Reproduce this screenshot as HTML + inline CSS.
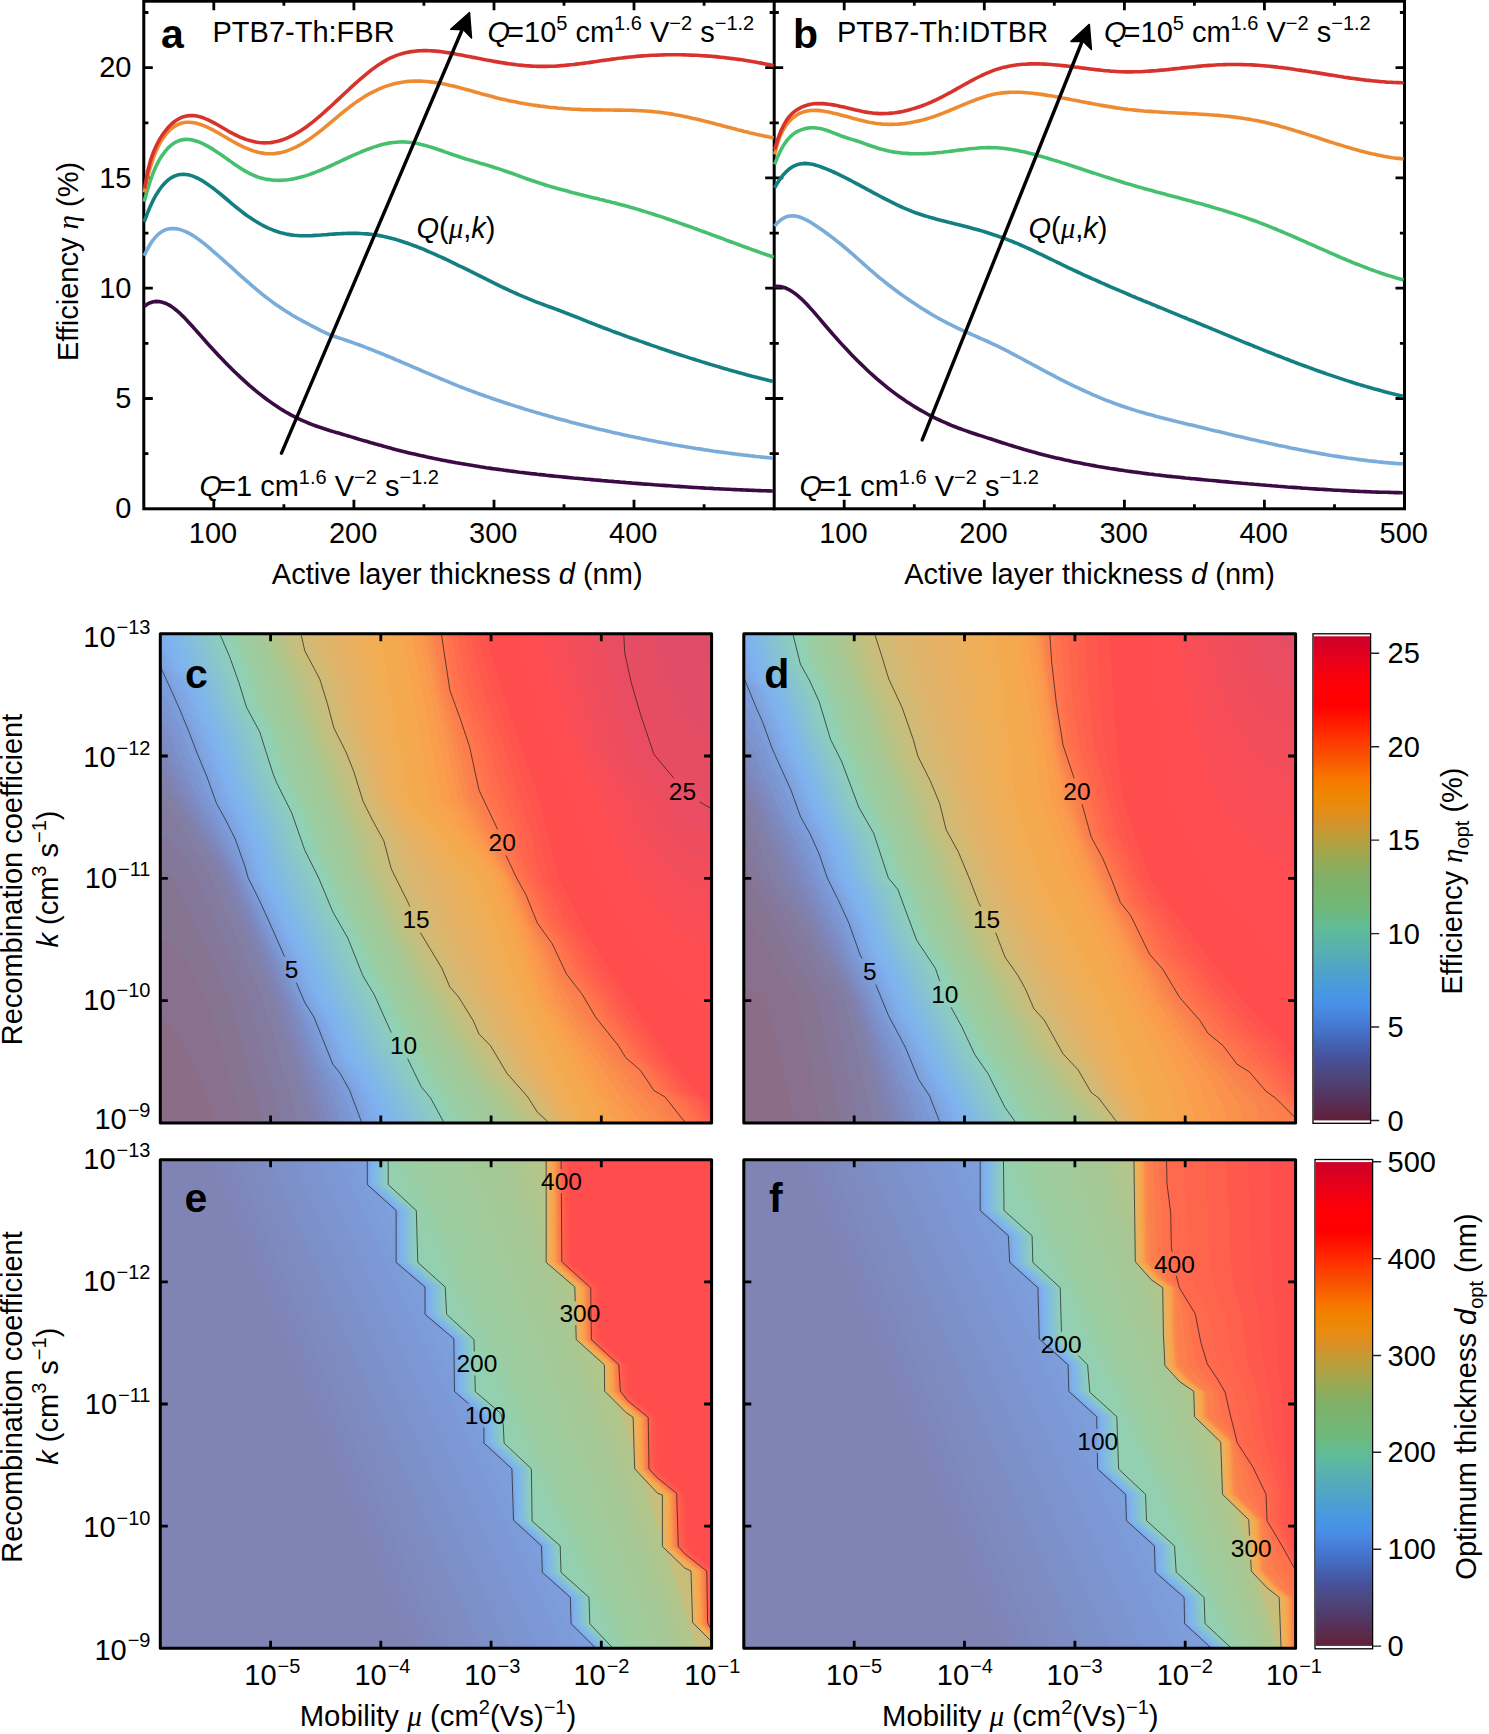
<!DOCTYPE html><html><head><meta charset="utf-8"><style>html,body{margin:0;padding:0;background:#fff;overflow:hidden}svg{display:block}text{font-family:"Liberation Sans",sans-serif;fill:#000}.it{font-style:italic}.ser{font-family:"Liberation Serif",serif;font-style:italic}</style></head><body>
<svg xmlns="http://www.w3.org/2000/svg" width="1489" height="1734" viewBox="0 0 1489 1734">
<rect width="1489" height="1734" fill="#fff"/>
<g stroke="#000" stroke-width="3" fill="none" stroke-linecap="square">
<rect x="143.8" y="1.2" width="1260.7" height="507.6"/>
<line x1="774.2" y1="1.2" x2="774.2" y2="508.8"/>
</g>
<path d="M213.8,508.8v-9M213.8,1.2v9M283.9,508.8v-4.6M283.9,1.2v4.6M353.9,508.8v-9M353.9,1.2v9M423.9,508.8v-4.6M423.9,1.2v4.6M494,508.8v-9M494,1.2v9M564,508.8v-4.6M564,1.2v4.6M634,508.8v-9M634,1.2v9M704.1,508.8v-4.6M704.1,1.2v4.6M143.8,453.7h4.6M774.2,453.7h-4.6M143.8,398.5h9M774.2,398.5h-9M143.8,343.4h4.6M774.2,343.4h-4.6M143.8,288.2h9M774.2,288.2h-9M143.8,233.1h4.6M774.2,233.1h-4.6M143.8,177.9h9M774.2,177.9h-9M143.8,122.8h4.6M774.2,122.8h-4.6M143.8,67.6h9M774.2,67.6h-9M143.8,12.5h4.6M774.2,12.5h-4.6M844.2,508.8v-9M844.2,1.2v9M914.3,508.8v-4.6M914.3,1.2v4.6M984.3,508.8v-9M984.3,1.2v9M1054.3,508.8v-4.6M1054.3,1.2v4.6M1124.4,508.8v-9M1124.4,1.2v9M1194.4,508.8v-4.6M1194.4,1.2v4.6M1264.4,508.8v-9M1264.4,1.2v9M1334.5,508.8v-4.6M1334.5,1.2v4.6M774.2,453.7h4.6M1404.5,453.7h-4.6M774.2,398.5h9M1404.5,398.5h-9M774.2,343.4h4.6M1404.5,343.4h-4.6M774.2,288.2h9M1404.5,288.2h-9M774.2,233.1h4.6M1404.5,233.1h-4.6M774.2,177.9h9M1404.5,177.9h-9M774.2,122.8h4.6M1404.5,122.8h-4.6M774.2,67.6h9M1404.5,67.6h-9M774.2,12.5h4.6M1404.5,12.5h-4.6" stroke="#000" stroke-width="2.8" fill="none"/>
<g fill="none" stroke-width="3.6" stroke-linejoin="round">
<path d="M144.3,306.3 147.3,304.2 150.3,302.7 153.3,301.8 156.3,301.4 159.3,301.6 162.3,302.2 165.3,303.2 168.3,304.6 171.3,306.4 174.3,308.6 177.3,311 180.3,313.7 183.3,316.6 186.3,319.7 189.3,322.9 192.3,326.2 195.3,329.6 198.3,333 201.3,336.4 204.3,339.8 207.3,343.2 210.3,346.5 213.3,349.7 216.3,353 219.3,356.2 222.3,359.3 225.3,362.4 228.3,365.4 231.3,368.4 234.3,371.4 237.3,374.3 240.3,377.1 243.3,379.9 246.3,382.6 249.3,385.3 252.3,387.8 255.3,390.4 258.3,392.8 261.3,395.2 264.3,397.5 267.3,399.8 270.3,401.9 273.3,404 276.3,406 279.3,408 282.3,409.9 285.3,411.7 288.3,413.4 291.3,415.1 294.3,416.6 297.3,418.2 300.3,419.6 303.3,420.9 306.3,422.2 309.3,423.5 312.3,424.6 315.3,425.7 318.3,426.8 321.3,427.8 324.3,428.8 327.3,429.7 330.3,430.7 333.3,431.6 336.3,432.5 339.3,433.3 342.3,434.2 345.3,435.1 348.3,436 351.3,436.9 354.3,437.8 357.3,438.7 360.3,439.6 363.3,440.5 366.3,441.3 369.3,442.2 372.3,443.1 375.3,443.9 378.3,444.8 381.3,445.6 384.3,446.4 387.3,447.3 390.3,448.1 393.3,448.9 396.3,449.7 399.3,450.4 402.3,451.2 405.3,451.9 408.3,452.7 411.3,453.4 414.3,454.1 417.3,454.8 420.3,455.5 423.3,456.1 426.3,456.8 429.3,457.4 432.3,458.1 435.3,458.7 438.3,459.3 441.3,459.9 444.3,460.5 447.3,461.1 450.3,461.6 453.3,462.2 456.3,462.8 459.3,463.3 462.3,463.8 465.3,464.3 468.3,464.8 471.3,465.3 474.3,465.8 477.3,466.3 480.3,466.8 483.3,467.2 486.3,467.7 489.3,468.1 492.3,468.6 495.3,469 498.3,469.4 501.3,469.8 504.3,470.2 507.3,470.6 510.3,471 513.3,471.4 516.3,471.8 519.3,472.2 522.3,472.5 525.3,472.9 528.3,473.2 531.3,473.6 534.3,473.9 537.3,474.3 540.3,474.6 543.3,474.9 546.3,475.3 549.3,475.6 552.3,475.9 555.3,476.2 558.3,476.5 561.3,476.8 564.3,477.1 567.3,477.4 570.3,477.7 573.3,478 576.3,478.2 579.3,478.5 582.3,478.8 585.3,479.1 588.3,479.3 591.3,479.6 594.3,479.9 597.3,480.1 600.3,480.4 603.3,480.7 606.3,480.9 609.3,481.2 612.3,481.4 615.3,481.7 618.3,481.9 621.3,482.2 624.3,482.4 627.3,482.7 630.3,482.9 633.3,483.2 636.3,483.4 639.3,483.6 642.3,483.9 645.3,484.1 648.3,484.3 651.3,484.5 654.3,484.8 657.3,485 660.3,485.2 663.3,485.4 666.3,485.6 669.3,485.8 672.3,486 675.3,486.2 678.3,486.4 681.3,486.6 684.3,486.8 687.3,487 690.3,487.2 693.3,487.4 696.3,487.5 699.3,487.7 702.3,487.9 705.3,488.1 708.3,488.2 711.3,488.4 714.3,488.6 717.3,488.7 720.3,488.9 723.3,489 726.3,489.2 729.3,489.3 732.3,489.5 735.3,489.6 738.3,489.8 741.3,489.9 744.3,490 747.3,490.1 750.3,490.3 753.3,490.4 756.3,490.5 759.3,490.6 762.3,490.7 765.3,490.8 768.3,490.9 771.3,491 772.8,491.1" stroke="#3b0b44"/>
<path d="M144.2,255.8 147.2,249.5 150.2,244.2 153.2,239.8 156.2,236.3 159.2,233.5 162.2,231.4 165.2,229.9 168.2,229 171.2,228.6 174.2,228.6 177.2,228.9 180.2,229.6 183.2,230.6 186.2,231.8 189.2,233.3 192.2,235.1 195.2,237 198.2,239.1 201.2,241.3 204.2,243.7 207.2,246.2 210.2,248.7 213.2,251.3 216.2,253.9 219.2,256.5 222.2,259.1 225.2,261.8 228.2,264.5 231.2,267.2 234.2,269.9 237.2,272.6 240.2,275.3 243.2,277.9 246.2,280.6 249.2,283.2 252.2,285.8 255.2,288.4 258.2,290.9 261.2,293.3 264.2,295.8 267.2,298.1 270.2,300.4 273.2,302.6 276.2,304.8 279.2,306.8 282.2,308.8 285.2,310.8 288.2,312.6 291.2,314.5 294.2,316.2 297.2,318 300.2,319.7 303.2,321.3 306.2,322.9 309.2,324.5 312.2,326.1 315.2,327.7 318.2,329.2 321.2,330.8 324.2,332.2 327.2,333.6 330.2,334.9 333.2,336 336.2,337 339.2,338 342.2,338.9 345.2,340 348.2,341 351.2,342 354.2,343.1 357.2,344.2 360.2,345.3 363.2,346.4 366.2,347.6 369.2,348.7 372.2,349.9 375.2,351.1 378.2,352.3 381.2,353.5 384.2,354.7 387.2,356 390.2,357.2 393.2,358.5 396.2,359.8 399.2,361 402.2,362.3 405.2,363.6 408.2,364.9 411.2,366.2 414.2,367.5 417.2,368.7 420.2,370 423.2,371.3 426.2,372.6 429.2,373.9 432.2,375.2 435.2,376.4 438.2,377.7 441.2,379 444.2,380.2 447.2,381.4 450.2,382.7 453.2,383.9 456.2,385.1 459.2,386.3 462.2,387.5 465.2,388.6 468.2,389.8 471.2,390.9 474.2,392 477.2,393.1 480.2,394.2 483.2,395.3 486.2,396.4 489.2,397.4 492.2,398.5 495.2,399.5 498.2,400.5 501.2,401.5 504.2,402.5 507.2,403.5 510.2,404.5 513.2,405.4 516.2,406.4 519.2,407.3 522.2,408.2 525.2,409.2 528.2,410.1 531.2,411 534.2,411.9 537.2,412.8 540.2,413.6 543.2,414.5 546.2,415.3 549.2,416.2 552.2,417 555.2,417.9 558.2,418.7 561.2,419.5 564.2,420.3 567.2,421.1 570.2,421.9 573.2,422.7 576.2,423.5 579.2,424.2 582.2,425 585.2,425.8 588.2,426.5 591.2,427.3 594.2,428 597.2,428.7 600.2,429.4 603.2,430.1 606.2,430.8 609.2,431.5 612.2,432.2 615.2,432.9 618.2,433.6 621.2,434.2 624.2,434.9 627.2,435.6 630.2,436.2 633.2,436.8 636.2,437.5 639.2,438.1 642.2,438.7 645.2,439.3 648.2,439.9 651.2,440.5 654.2,441.1 657.2,441.7 660.2,442.2 663.2,442.8 666.2,443.3 669.2,443.9 672.2,444.4 675.2,445 678.2,445.5 681.2,446 684.2,446.5 687.2,447 690.2,447.5 693.2,448 696.2,448.5 699.2,448.9 702.2,449.4 705.2,449.9 708.2,450.3 711.2,450.7 714.2,451.2 717.2,451.6 720.2,452 723.2,452.4 726.2,452.8 729.2,453.2 732.2,453.6 735.2,454 738.2,454.4 741.2,454.7 744.2,455.1 747.2,455.4 750.2,455.8 753.2,456.1 756.2,456.5 759.2,456.8 762.2,457.1 765.2,457.4 768.2,457.7 771.2,458 772.8,458.1" stroke="#79acd9"/>
<path d="M144.2,221.8 147.2,213.7 150.2,206.5 153.2,200.2 156.2,194.7 159.2,190 162.2,186 165.2,182.7 168.2,179.9 171.2,177.8 174.2,176.2 177.2,175.1 180.2,174.5 183.2,174.3 186.2,174.5 189.2,175 192.2,175.9 195.2,177.1 198.2,178.5 201.2,180.1 204.2,182 207.2,184 210.2,186.1 213.2,188.3 216.2,190.6 219.2,193 222.2,195.5 225.2,198 228.2,200.5 231.2,203.1 234.2,205.6 237.2,208 240.2,210.4 243.2,212.7 246.2,215 249.2,217.1 252.2,219.1 255.2,221 258.2,222.8 261.2,224.5 264.2,226.1 267.2,227.6 270.2,228.9 273.2,230.1 276.2,231.2 279.2,232.2 282.2,233.1 285.2,233.8 288.2,234.4 291.2,234.9 294.2,235.3 297.2,235.5 300.2,235.7 303.2,235.8 306.2,235.8 309.2,235.7 312.2,235.6 315.2,235.4 318.2,235.2 321.2,235 324.2,234.8 327.2,234.6 330.2,234.3 333.2,234.1 336.2,233.9 339.2,233.8 342.2,233.6 345.2,233.5 348.2,233.4 351.2,233.4 354.2,233.4 357.2,233.4 360.2,233.5 363.2,233.7 366.2,233.9 369.2,234.1 372.2,234.5 375.2,234.9 378.2,235.4 381.2,235.9 384.2,236.6 387.2,237.2 390.2,238 393.2,238.8 396.2,239.6 399.2,240.5 402.2,241.5 405.2,242.5 408.2,243.5 411.2,244.6 414.2,245.7 417.2,246.8 420.2,248 423.2,249.2 426.2,250.5 429.2,251.8 432.2,253.1 435.2,254.4 438.2,255.8 441.2,257.1 444.2,258.5 447.2,259.9 450.2,261.4 453.2,262.8 456.2,264.3 459.2,265.8 462.2,267.2 465.2,268.7 468.2,270.2 471.2,271.7 474.2,273.2 477.2,274.7 480.2,276.2 483.2,277.7 486.2,279.2 489.2,280.7 492.2,282.2 495.2,283.6 498.2,285.1 501.2,286.6 504.2,288 507.2,289.4 510.2,290.8 513.2,292.2 516.2,293.5 519.2,294.9 522.2,296.2 525.2,297.4 528.2,298.7 531.2,299.9 534.2,301.1 537.2,302.3 540.2,303.4 543.2,304.5 546.2,305.6 549.2,306.7 552.2,307.8 555.2,308.9 558.2,310 561.2,311.2 564.2,312.3 567.2,313.5 570.2,314.7 573.2,315.8 576.2,317 579.2,318.2 582.2,319.4 585.2,320.6 588.2,321.8 591.2,323 594.2,324.2 597.2,325.4 600.2,326.5 603.2,327.7 606.2,328.8 609.2,329.9 612.2,331.1 615.2,332.2 618.2,333.3 621.2,334.4 624.2,335.5 627.2,336.6 630.2,337.7 633.2,338.8 636.2,339.8 639.2,340.9 642.2,341.9 645.2,343 648.2,344 651.2,345.1 654.2,346.1 657.2,347.1 660.2,348.2 663.2,349.2 666.2,350.2 669.2,351.2 672.2,352.2 675.2,353.2 678.2,354.2 681.2,355.2 684.2,356.1 687.2,357.1 690.2,358.1 693.2,359 696.2,360 699.2,360.9 702.2,361.9 705.2,362.8 708.2,363.7 711.2,364.6 714.2,365.5 717.2,366.4 720.2,367.3 723.2,368.2 726.2,369 729.2,369.9 732.2,370.7 735.2,371.6 738.2,372.4 741.2,373.2 744.2,374.1 747.2,374.9 750.2,375.7 753.2,376.5 756.2,377.2 759.2,378 762.2,378.8 765.2,379.5 768.2,380.3 771.2,381 772.8,381.4" stroke="#147f81"/>
<path d="M144.2,201.7 147.2,190.5 150.2,181 153.2,172.8 156.2,165.9 159.2,160.1 162.2,155.3 165.2,151.3 168.2,147.9 171.2,145.1 174.2,143 177.2,141.4 180.2,140.3 183.2,139.6 186.2,139.4 189.2,139.5 192.2,139.9 195.2,140.7 198.2,141.7 201.2,142.9 204.2,144.3 207.2,145.9 210.2,147.6 213.2,149.4 216.2,151.4 219.2,153.4 222.2,155.5 225.2,157.6 228.2,159.8 231.2,161.9 234.2,164 237.2,166 240.2,168 243.2,169.9 246.2,171.6 249.2,173.3 252.2,174.7 255.2,176 258.2,177.1 261.2,178 264.2,178.8 267.2,179.4 270.2,179.8 273.2,180.2 276.2,180.3 279.2,180.4 282.2,180.3 285.2,180 288.2,179.7 291.2,179.3 294.2,178.7 297.2,178.1 300.2,177.3 303.2,176.5 306.2,175.6 309.2,174.6 312.2,173.5 315.2,172.4 318.2,171.2 321.2,170 324.2,168.7 327.2,167.4 330.2,166 333.2,164.6 336.2,163.2 339.2,161.8 342.2,160.4 345.2,159 348.2,157.6 351.2,156.2 354.2,154.9 357.2,153.6 360.2,152.3 363.2,151 366.2,149.8 369.2,148.7 372.2,147.6 375.2,146.6 378.2,145.7 381.2,144.8 384.2,144.1 387.2,143.4 390.2,142.9 393.2,142.5 396.2,142.2 399.2,142 402.2,141.9 405.2,142 408.2,142.2 411.2,142.5 414.2,143 417.2,143.5 420.2,144.2 423.2,144.9 426.2,145.7 429.2,146.6 432.2,147.5 435.2,148.5 438.2,149.5 441.2,150.5 444.2,151.6 447.2,152.6 450.2,153.7 453.2,154.8 456.2,155.8 459.2,156.8 462.2,157.8 465.2,158.7 468.2,159.6 471.2,160.5 474.2,161.4 477.2,162.3 480.2,163.2 483.2,164 486.2,164.9 489.2,165.8 492.2,166.7 495.2,167.7 498.2,168.6 501.2,169.6 504.2,170.7 507.2,171.7 510.2,172.8 513.2,173.8 516.2,174.9 519.2,176 522.2,177.1 525.2,178.2 528.2,179.2 531.2,180.3 534.2,181.3 537.2,182.3 540.2,183.3 543.2,184.2 546.2,185.2 549.2,186.1 552.2,187 555.2,187.8 558.2,188.7 561.2,189.5 564.2,190.3 567.2,191.1 570.2,191.9 573.2,192.7 576.2,193.4 579.2,194.2 582.2,194.9 585.2,195.7 588.2,196.4 591.2,197.2 594.2,197.9 597.2,198.6 600.2,199.4 603.2,200.1 606.2,200.9 609.2,201.6 612.2,202.4 615.2,203.1 618.2,203.9 621.2,204.7 624.2,205.5 627.2,206.3 630.2,207.2 633.2,208 636.2,208.9 639.2,209.8 642.2,210.7 645.2,211.6 648.2,212.6 651.2,213.5 654.2,214.5 657.2,215.5 660.2,216.4 663.2,217.4 666.2,218.5 669.2,219.5 672.2,220.5 675.2,221.5 678.2,222.6 681.2,223.6 684.2,224.7 687.2,225.8 690.2,226.8 693.2,227.9 696.2,229 699.2,230.1 702.2,231.2 705.2,232.3 708.2,233.4 711.2,234.5 714.2,235.6 717.2,236.7 720.2,237.8 723.2,238.9 726.2,240.1 729.2,241.2 732.2,242.3 735.2,243.4 738.2,244.5 741.2,245.6 744.2,246.7 747.2,247.8 750.2,248.9 753.2,250 756.2,251 759.2,252.1 762.2,253.2 765.2,254.2 768.2,255.3 771.2,256.3 773.6,257.2" stroke="#46bf6f"/>
<path d="M144.2,192.5 147.2,178.9 150.2,167.6 153.2,158.2 156.2,150.6 159.2,144.4 162.2,139.4 165.2,135.2 168.2,131.7 171.2,128.8 174.2,126.6 177.2,124.8 180.2,123.5 183.2,122.7 186.2,122.3 189.2,122.3 192.2,122.5 195.2,123 198.2,123.8 201.2,124.7 204.2,125.9 207.2,127.2 210.2,128.6 213.2,130.2 216.2,131.8 219.2,133.5 222.2,135.3 225.2,137 228.2,138.8 231.2,140.5 234.2,142.2 237.2,143.8 240.2,145.3 243.2,146.8 246.2,148.1 249.2,149.3 252.2,150.5 255.2,151.4 258.2,152.2 261.2,152.9 264.2,153.4 267.2,153.7 270.2,153.8 273.2,153.7 276.2,153.4 279.2,152.9 282.2,152.2 285.2,151.4 288.2,150.4 291.2,149.2 294.2,147.9 297.2,146.4 300.2,144.8 303.2,143.1 306.2,141.2 309.2,139.2 312.2,137.1 315.2,134.9 318.2,132.7 321.2,130.3 324.2,127.9 327.2,125.4 330.2,122.9 333.2,120.4 336.2,117.9 339.2,115.4 342.2,112.9 345.2,110.5 348.2,108.1 351.2,105.8 354.2,103.6 357.2,101.4 360.2,99.4 363.2,97.5 366.2,95.6 369.2,93.9 372.2,92.3 375.2,90.8 378.2,89.4 381.2,88.1 384.2,86.9 387.2,85.9 390.2,84.9 393.2,84.1 396.2,83.3 399.2,82.7 402.2,82.2 405.2,81.7 408.2,81.4 411.2,81.2 414.2,81.1 417.2,81.1 420.2,81.1 423.2,81.3 426.2,81.5 429.2,81.7 432.2,82.1 435.2,82.5 438.2,83 441.2,83.5 444.2,84.1 447.2,84.7 450.2,85.4 453.2,86.1 456.2,86.8 459.2,87.6 462.2,88.4 465.2,89.2 468.2,90 471.2,90.8 474.2,91.7 477.2,92.5 480.2,93.4 483.2,94.2 486.2,95 489.2,95.8 492.2,96.6 495.2,97.4 498.2,98.2 501.2,98.9 504.2,99.6 507.2,100.3 510.2,100.9 513.2,101.5 516.2,102.1 519.2,102.7 522.2,103.2 525.2,103.8 528.2,104.3 531.2,104.8 534.2,105.2 537.2,105.6 540.2,106.1 543.2,106.4 546.2,106.8 549.2,107.2 552.2,107.5 555.2,107.8 558.2,108.1 561.2,108.3 564.2,108.6 567.2,108.8 570.2,109 573.2,109.2 576.2,109.3 579.2,109.4 582.2,109.6 585.2,109.7 588.2,109.7 591.2,109.8 594.2,109.9 597.2,109.9 600.2,109.9 603.2,110 606.2,110 609.2,110 612.2,110 615.2,110.1 618.2,110.1 621.2,110.1 624.2,110.2 627.2,110.2 630.2,110.3 633.2,110.4 636.2,110.5 639.2,110.7 642.2,110.8 645.2,111 648.2,111.2 651.2,111.4 654.2,111.7 657.2,112 660.2,112.4 663.2,112.8 666.2,113.2 669.2,113.6 672.2,114.1 675.2,114.7 678.2,115.2 681.2,115.8 684.2,116.4 687.2,117 690.2,117.7 693.2,118.4 696.2,119.1 699.2,119.8 702.2,120.5 705.2,121.3 708.2,122 711.2,122.8 714.2,123.6 717.2,124.4 720.2,125.1 723.2,125.9 726.2,126.7 729.2,127.5 732.2,128.3 735.2,129.1 738.2,129.9 741.2,130.6 744.2,131.4 747.2,132.1 750.2,132.9 753.2,133.6 756.2,134.3 759.2,134.9 762.2,135.6 765.2,136.2 768.2,136.8 771.2,137.4 773.6,137.9" stroke="#ee8b31"/>
<path d="M144.6,188.5 147.6,171.8 150.6,160.1 153.6,151.7 156.6,145 159.6,139.4 162.6,134.6 165.6,130.6 168.6,127 171.6,124 174.6,121.5 177.6,119.5 180.6,117.9 183.6,116.7 186.6,116 189.6,115.6 192.6,115.5 195.6,115.8 198.6,116.4 201.6,117.3 204.6,118.4 207.6,119.6 210.6,121.1 213.6,122.6 216.6,124.3 219.6,126 222.6,127.8 225.6,129.5 228.6,131.3 231.6,132.9 234.6,134.5 237.6,135.9 240.6,137.3 243.6,138.5 246.6,139.6 249.6,140.5 252.6,141.3 255.6,142 258.6,142.5 261.6,142.8 264.6,142.9 267.6,142.8 270.6,142.6 273.6,142.1 276.6,141.5 279.6,140.7 282.6,139.7 285.6,138.6 288.6,137.3 291.6,135.9 294.6,134.3 297.6,132.6 300.6,130.8 303.6,128.8 306.6,126.7 309.6,124.4 312.6,122.1 315.6,119.7 318.6,117.2 321.6,114.6 324.6,111.9 327.6,109.2 330.6,106.5 333.6,103.7 336.6,100.9 339.6,98.1 342.6,95.3 345.6,92.5 348.6,89.7 351.6,86.9 354.6,84.2 357.6,81.5 360.6,78.8 363.6,76.3 366.6,73.8 369.6,71.4 372.6,69.1 375.6,66.9 378.6,64.8 381.6,62.9 384.6,61.1 387.6,59.4 390.6,57.9 393.6,56.6 396.6,55.4 399.6,54.4 402.6,53.5 405.6,52.7 408.6,52.1 411.6,51.6 414.6,51.2 417.6,50.9 420.6,50.7 423.6,50.6 426.6,50.6 429.6,50.7 432.6,50.9 435.6,51.1 438.6,51.4 441.6,51.8 444.6,52.2 447.6,52.6 450.6,53.1 453.6,53.6 456.6,54.2 459.6,54.7 462.6,55.3 465.6,55.9 468.6,56.5 471.6,57.1 474.6,57.6 477.6,58.2 480.6,58.8 483.6,59.4 486.6,60 489.6,60.5 492.6,61.1 495.6,61.6 498.6,62.1 501.6,62.6 504.6,63.1 507.6,63.6 510.6,64 513.6,64.4 516.6,64.8 519.6,65.1 522.6,65.4 525.6,65.7 528.6,65.9 531.6,66.1 534.6,66.3 537.6,66.4 540.6,66.4 543.6,66.4 546.6,66.4 549.6,66.3 552.6,66.2 555.6,66.1 558.6,65.9 561.6,65.6 564.6,65.4 567.6,65.1 570.6,64.8 573.6,64.5 576.6,64.1 579.6,63.7 582.6,63.4 585.6,63 588.6,62.6 591.6,62.1 594.6,61.7 597.6,61.3 600.6,60.8 603.6,60.4 606.6,60 609.6,59.6 612.6,59.1 615.6,58.7 618.6,58.3 621.6,58 624.6,57.6 627.6,57.3 630.6,57 633.6,56.7 636.6,56.4 639.6,56.1 642.6,55.9 645.6,55.7 648.6,55.5 651.6,55.3 654.6,55.2 657.6,55.1 660.6,55 663.6,54.9 666.6,54.8 669.6,54.8 672.6,54.7 675.6,54.7 678.6,54.8 681.6,54.8 684.6,54.9 687.6,55 690.6,55.1 693.6,55.2 696.6,55.3 699.6,55.5 702.6,55.7 705.6,55.9 708.6,56.1 711.6,56.3 714.6,56.6 717.6,56.9 720.6,57.2 723.6,57.5 726.6,57.9 729.6,58.2 732.6,58.6 735.6,59 738.6,59.4 741.6,59.8 744.6,60.3 747.6,60.8 750.6,61.3 753.6,61.8 756.6,62.3 759.6,62.9 762.6,63.4 765.6,64 768.6,64.6 771.6,65.3 773.6,65.7" stroke="#d8322c"/>
<path d="M774.3,286.6 777.3,286.3 780.3,286.6 783.3,287.2 786.3,288.3 789.3,289.8 792.3,291.6 795.3,293.7 798.3,296.2 801.3,298.8 804.3,301.7 807.3,304.8 810.3,308.1 813.3,311.4 816.3,314.9 819.3,318.4 822.3,322 825.3,325.5 828.3,329 831.3,332.5 834.3,335.9 837.3,339.3 840.3,342.6 843.3,345.9 846.3,349.1 849.3,352.3 852.3,355.4 855.3,358.5 858.3,361.5 861.3,364.4 864.3,367.3 867.3,370.2 870.3,373 873.3,375.7 876.3,378.3 879.3,380.9 882.3,383.4 885.3,385.9 888.3,388.3 891.3,390.6 894.3,392.9 897.3,395.1 900.3,397.3 903.3,399.3 906.3,401.4 909.3,403.3 912.3,405.3 915.3,407.1 918.3,408.9 921.3,410.6 924.3,412.3 927.3,414 930.3,415.6 933.3,417.1 936.3,418.6 939.3,420 942.3,421.4 945.3,422.7 948.3,424 951.3,425.3 954.3,426.5 957.3,427.7 960.3,428.8 963.3,429.9 966.3,430.9 969.3,432 972.3,433 975.3,434 978.3,435 981.3,435.9 984.3,436.9 987.3,437.9 990.3,438.8 993.3,439.8 996.3,440.7 999.3,441.7 1002.3,442.7 1005.3,443.6 1008.3,444.6 1011.3,445.5 1014.3,446.5 1017.3,447.4 1020.3,448.3 1023.3,449.2 1026.3,450.1 1029.3,450.9 1032.3,451.8 1035.3,452.6 1038.3,453.4 1041.3,454.2 1044.3,455 1047.3,455.7 1050.3,456.5 1053.3,457.2 1056.3,457.9 1059.3,458.6 1062.3,459.3 1065.3,460 1068.3,460.6 1071.3,461.3 1074.3,461.9 1077.3,462.5 1080.3,463.1 1083.3,463.7 1086.3,464.3 1089.3,464.8 1092.3,465.4 1095.3,465.9 1098.3,466.5 1101.3,467 1104.3,467.5 1107.3,468 1110.3,468.5 1113.3,468.9 1116.3,469.4 1119.3,469.9 1122.3,470.3 1125.3,470.8 1128.3,471.2 1131.3,471.6 1134.3,472 1137.3,472.4 1140.3,472.8 1143.3,473.2 1146.3,473.6 1149.3,474 1152.3,474.3 1155.3,474.7 1158.3,475 1161.3,475.4 1164.3,475.7 1167.3,476.1 1170.3,476.4 1173.3,476.7 1176.3,477 1179.3,477.3 1182.3,477.6 1185.3,478 1188.3,478.3 1191.3,478.6 1194.3,478.8 1197.3,479.1 1200.3,479.4 1203.3,479.7 1206.3,480 1209.3,480.3 1212.3,480.5 1215.3,480.8 1218.3,481.1 1221.3,481.4 1224.3,481.6 1227.3,481.9 1230.3,482.2 1233.3,482.5 1236.3,482.7 1239.3,483 1242.3,483.3 1245.3,483.5 1248.3,483.8 1251.3,484 1254.3,484.3 1257.3,484.5 1260.3,484.8 1263.3,485 1266.3,485.3 1269.3,485.5 1272.3,485.8 1275.3,486 1278.3,486.3 1281.3,486.5 1284.3,486.7 1287.3,487 1290.3,487.2 1293.3,487.4 1296.3,487.6 1299.3,487.8 1302.3,488.1 1305.3,488.3 1308.3,488.5 1311.3,488.7 1314.3,488.9 1317.3,489.1 1320.3,489.3 1323.3,489.4 1326.3,489.6 1329.3,489.8 1332.3,490 1335.3,490.2 1338.3,490.3 1341.3,490.5 1344.3,490.6 1347.3,490.8 1350.3,491 1353.3,491.1 1356.3,491.2 1359.3,491.4 1362.3,491.5 1365.3,491.6 1368.3,491.7 1371.3,491.9 1374.3,492 1377.3,492.1 1380.3,492.2 1383.3,492.3 1386.3,492.3 1389.3,492.4 1392.3,492.5 1395.3,492.6 1398.3,492.6 1401.3,492.7 1402.8,492.7" stroke="#3b0b44"/>
<path d="M774.6,226.2 777.6,222.7 780.6,220.1 783.6,218.1 786.6,216.7 789.6,216 792.6,215.8 795.6,216.1 798.6,216.8 801.6,217.8 804.6,219.1 807.6,220.6 810.6,222.3 813.6,224.2 816.6,226.2 819.6,228.2 822.6,230.3 825.6,232.5 828.6,234.7 831.6,236.9 834.6,239.2 837.6,241.6 840.6,244 843.6,246.5 846.6,249 849.6,251.6 852.6,254.2 855.6,256.9 858.6,259.5 861.6,262.2 864.6,264.9 867.6,267.5 870.6,270.2 873.6,272.7 876.6,275.3 879.6,277.8 882.6,280.2 885.6,282.6 888.6,285 891.6,287.3 894.6,289.5 897.6,291.8 900.6,294 903.6,296.1 906.6,298.2 909.6,300.3 912.6,302.3 915.6,304.3 918.6,306.3 921.6,308.2 924.6,310.1 927.6,311.9 930.6,313.7 933.6,315.5 936.6,317.2 939.6,318.9 942.6,320.5 945.6,322.1 948.6,323.7 951.6,325.2 954.6,326.6 957.6,328.1 960.6,329.5 963.6,330.8 966.6,332.2 969.6,333.5 972.6,334.8 975.6,336.1 978.6,337.5 981.6,338.8 984.6,340.1 987.6,341.5 990.6,342.9 993.6,344.3 996.6,345.7 999.6,347.2 1002.6,348.7 1005.6,350.2 1008.6,351.7 1011.6,353.3 1014.6,354.9 1017.6,356.5 1020.6,358 1023.6,359.7 1026.6,361.3 1029.6,362.9 1032.6,364.5 1035.6,366.1 1038.6,367.7 1041.6,369.4 1044.6,371 1047.6,372.6 1050.6,374.1 1053.6,375.7 1056.6,377.3 1059.6,378.8 1062.6,380.4 1065.6,381.9 1068.6,383.4 1071.6,384.8 1074.6,386.3 1077.6,387.7 1080.6,389.1 1083.6,390.5 1086.6,391.9 1089.6,393.2 1092.6,394.6 1095.6,395.8 1098.6,397.1 1101.6,398.4 1104.6,399.6 1107.6,400.8 1110.6,401.9 1113.6,403 1116.6,404.1 1119.6,405.2 1122.6,406.3 1125.6,407.3 1128.6,408.3 1131.6,409.2 1134.6,410.1 1137.6,411.1 1140.6,412 1143.6,412.8 1146.6,413.7 1149.6,414.5 1152.6,415.3 1155.6,416.2 1158.6,416.9 1161.6,417.7 1164.6,418.5 1167.6,419.3 1170.6,420 1173.6,420.7 1176.6,421.5 1179.6,422.2 1182.6,422.9 1185.6,423.7 1188.6,424.4 1191.6,425.1 1194.6,425.8 1197.6,426.6 1200.6,427.3 1203.6,428 1206.6,428.7 1209.6,429.5 1212.6,430.2 1215.6,430.9 1218.6,431.6 1221.6,432.3 1224.6,433 1227.6,433.8 1230.6,434.5 1233.6,435.2 1236.6,435.9 1239.6,436.6 1242.6,437.3 1245.6,438 1248.6,438.7 1251.6,439.4 1254.6,440.1 1257.6,440.7 1260.6,441.4 1263.6,442.1 1266.6,442.7 1269.6,443.4 1272.6,444.1 1275.6,444.7 1278.6,445.4 1281.6,446 1284.6,446.6 1287.6,447.2 1290.6,447.9 1293.6,448.5 1296.6,449.1 1299.6,449.7 1302.6,450.3 1305.6,450.8 1308.6,451.4 1311.6,452 1314.6,452.5 1317.6,453.1 1320.6,453.6 1323.6,454.1 1326.6,454.7 1329.6,455.2 1332.6,455.7 1335.6,456.1 1338.6,456.6 1341.6,457.1 1344.6,457.5 1347.6,458 1350.6,458.4 1353.6,458.8 1356.6,459.2 1359.6,459.6 1362.6,460 1365.6,460.4 1368.6,460.8 1371.6,461.1 1374.6,461.4 1377.6,461.8 1380.6,462.1 1383.6,462.4 1386.6,462.6 1389.6,462.9 1392.6,463.1 1395.6,463.4 1398.6,463.6 1401.6,463.8 1402.8,463.9" stroke="#79acd9"/>
<path d="M774.6,187.9 777.6,182.7 780.6,178.2 783.6,174.4 786.6,171.3 789.6,168.7 792.6,166.7 795.6,165.3 798.6,164.3 801.6,163.7 804.6,163.4 807.6,163.6 810.6,164 813.6,164.6 816.6,165.4 819.6,166.4 822.6,167.5 825.6,168.6 828.6,169.8 831.6,171.1 834.6,172.5 837.6,173.9 840.6,175.3 843.6,176.8 846.6,178.3 849.6,179.9 852.6,181.5 855.6,183.1 858.6,184.7 861.6,186.3 864.6,187.9 867.6,189.6 870.6,191.2 873.6,192.8 876.6,194.4 879.6,196 882.6,197.6 885.6,199.2 888.6,200.7 891.6,202.2 894.6,203.7 897.6,205.2 900.6,206.5 903.6,207.9 906.6,209.2 909.6,210.4 912.6,211.6 915.6,212.7 918.6,213.7 921.6,214.7 924.6,215.7 927.6,216.6 930.6,217.5 933.6,218.3 936.6,219.2 939.6,220 942.6,220.7 945.6,221.5 948.6,222.3 951.6,223 954.6,223.8 957.6,224.5 960.6,225.2 963.6,226 966.6,226.8 969.6,227.6 972.6,228.4 975.6,229.2 978.6,230 981.6,230.9 984.6,231.8 987.6,232.7 990.6,233.7 993.6,234.7 996.6,235.7 999.6,236.7 1002.6,237.8 1005.6,238.9 1008.6,240.1 1011.6,241.2 1014.6,242.5 1017.6,243.7 1020.6,245 1023.6,246.3 1026.6,247.7 1029.6,249 1032.6,250.4 1035.6,251.8 1038.6,253.3 1041.6,254.7 1044.6,256.1 1047.6,257.6 1050.6,259 1053.6,260.5 1056.6,262 1059.6,263.4 1062.6,264.9 1065.6,266.3 1068.6,267.8 1071.6,269.2 1074.6,270.6 1077.6,272 1080.6,273.4 1083.6,274.8 1086.6,276.1 1089.6,277.5 1092.6,278.9 1095.6,280.2 1098.6,281.5 1101.6,282.9 1104.6,284.2 1107.6,285.5 1110.6,286.8 1113.6,288.1 1116.6,289.4 1119.6,290.7 1122.6,291.9 1125.6,293.2 1128.6,294.5 1131.6,295.8 1134.6,297 1137.6,298.3 1140.6,299.5 1143.6,300.8 1146.6,302 1149.6,303.2 1152.6,304.5 1155.6,305.7 1158.6,307 1161.6,308.2 1164.6,309.4 1167.6,310.7 1170.6,311.9 1173.6,313.1 1176.6,314.3 1179.6,315.6 1182.6,316.8 1185.6,318 1188.6,319.3 1191.6,320.5 1194.6,321.7 1197.6,323 1200.6,324.2 1203.6,325.5 1206.6,326.7 1209.6,327.9 1212.6,329.2 1215.6,330.4 1218.6,331.7 1221.6,332.9 1224.6,334.2 1227.6,335.4 1230.6,336.6 1233.6,337.9 1236.6,339.1 1239.6,340.3 1242.6,341.6 1245.6,342.8 1248.6,344 1251.6,345.2 1254.6,346.5 1257.6,347.7 1260.6,348.9 1263.6,350.1 1266.6,351.3 1269.6,352.5 1272.6,353.7 1275.6,354.9 1278.6,356 1281.6,357.2 1284.6,358.4 1287.6,359.5 1290.6,360.7 1293.6,361.8 1296.6,363 1299.6,364.1 1302.6,365.2 1305.6,366.3 1308.6,367.4 1311.6,368.5 1314.6,369.6 1317.6,370.7 1320.6,371.8 1323.6,372.8 1326.6,373.9 1329.6,374.9 1332.6,375.9 1335.6,376.9 1338.6,377.9 1341.6,378.9 1344.6,379.9 1347.6,380.9 1350.6,381.8 1353.6,382.8 1356.6,383.7 1359.6,384.6 1362.6,385.5 1365.6,386.4 1368.6,387.3 1371.6,388.1 1374.6,389 1377.6,389.8 1380.6,390.6 1383.6,391.4 1386.6,392.2 1389.6,393 1392.6,393.7 1395.6,394.5 1398.6,395.2 1401.6,395.9 1402.8,396.1" stroke="#147f81"/>
<path d="M774.6,164.4 777.6,156.9 780.6,150.5 783.6,145.2 786.6,140.9 789.6,137.4 792.6,134.6 795.6,132.4 798.6,130.8 801.6,129.6 804.6,128.7 807.6,128.1 810.6,127.8 813.6,127.8 816.6,128 819.6,128.5 822.6,129.1 825.6,130 828.6,131 831.6,132.1 834.6,133.3 837.6,134.5 840.6,135.7 843.6,136.7 846.6,137.7 849.6,138.7 852.6,139.6 855.6,140.5 858.6,141.5 861.6,142.5 864.6,143.6 867.6,144.7 870.6,145.8 873.6,146.8 876.6,147.8 879.6,148.8 882.6,149.6 885.6,150.3 888.6,151 891.6,151.6 894.6,152.1 897.6,152.5 900.6,152.9 903.6,153.2 906.6,153.4 909.6,153.6 912.6,153.7 915.6,153.8 918.6,153.8 921.6,153.7 924.6,153.6 927.6,153.5 930.6,153.3 933.6,153.1 936.6,152.8 939.6,152.5 942.6,152.2 945.6,151.8 948.6,151.5 951.6,151.1 954.6,150.7 957.6,150.3 960.6,149.9 963.6,149.6 966.6,149.2 969.6,148.8 972.6,148.5 975.6,148.3 978.6,148 981.6,147.8 984.6,147.7 987.6,147.6 990.6,147.6 993.6,147.7 996.6,147.8 999.6,148 1002.6,148.3 1005.6,148.6 1008.6,149 1011.6,149.5 1014.6,150 1017.6,150.5 1020.6,151.2 1023.6,151.8 1026.6,152.5 1029.6,153.3 1032.6,154 1035.6,154.8 1038.6,155.7 1041.6,156.5 1044.6,157.4 1047.6,158.3 1050.6,159.2 1053.6,160.1 1056.6,161 1059.6,161.9 1062.6,162.9 1065.6,163.8 1068.6,164.8 1071.6,165.8 1074.6,166.7 1077.6,167.7 1080.6,168.7 1083.6,169.7 1086.6,170.7 1089.6,171.7 1092.6,172.7 1095.6,173.6 1098.6,174.6 1101.6,175.6 1104.6,176.6 1107.6,177.5 1110.6,178.5 1113.6,179.4 1116.6,180.4 1119.6,181.3 1122.6,182.2 1125.6,183.2 1128.6,184 1131.6,184.9 1134.6,185.8 1137.6,186.7 1140.6,187.5 1143.6,188.4 1146.6,189.2 1149.6,190 1152.6,190.8 1155.6,191.7 1158.6,192.5 1161.6,193.3 1164.6,194.1 1167.6,194.9 1170.6,195.7 1173.6,196.5 1176.6,197.3 1179.6,198.1 1182.6,198.9 1185.6,199.7 1188.6,200.5 1191.6,201.3 1194.6,202.2 1197.6,203 1200.6,203.8 1203.6,204.6 1206.6,205.5 1209.6,206.3 1212.6,207.2 1215.6,208.1 1218.6,209 1221.6,209.9 1224.6,210.8 1227.6,211.7 1230.6,212.7 1233.6,213.6 1236.6,214.6 1239.6,215.6 1242.6,216.6 1245.6,217.6 1248.6,218.7 1251.6,219.7 1254.6,220.8 1257.6,221.9 1260.6,223.1 1263.6,224.2 1266.6,225.4 1269.6,226.6 1272.6,227.8 1275.6,229 1278.6,230.3 1281.6,231.5 1284.6,232.8 1287.6,234.1 1290.6,235.4 1293.6,236.7 1296.6,238 1299.6,239.3 1302.6,240.6 1305.6,241.9 1308.6,243.3 1311.6,244.6 1314.6,245.9 1317.6,247.3 1320.6,248.6 1323.6,249.9 1326.6,251.2 1329.6,252.6 1332.6,253.9 1335.6,255.2 1338.6,256.5 1341.6,257.8 1344.6,259 1347.6,260.3 1350.6,261.5 1353.6,262.8 1356.6,264 1359.6,265.2 1362.6,266.4 1365.6,267.5 1368.6,268.6 1371.6,269.8 1374.6,270.9 1377.6,271.9 1380.6,273 1383.6,274 1386.6,275 1389.6,275.9 1392.6,276.8 1395.6,277.7 1398.6,278.6 1401.6,279.4 1403.6,280" stroke="#46bf6f"/>
<path d="M774.6,154.4 777.6,143 780.6,134.9 783.6,129.1 786.6,124.5 789.6,120.9 792.6,118 795.6,115.7 798.6,113.9 801.6,112.6 804.6,111.6 807.6,110.9 810.6,110.5 813.6,110.3 816.6,110.4 819.6,110.6 822.6,111 825.6,111.5 828.6,112 831.6,112.7 834.6,113.4 837.6,114.1 840.6,114.9 843.6,115.7 846.6,116.5 849.6,117.3 852.6,118.2 855.6,119 858.6,119.8 861.6,120.5 864.6,121.2 867.6,121.9 870.6,122.5 873.6,123 876.6,123.5 879.6,123.8 882.6,124.1 885.6,124.3 888.6,124.4 891.6,124.4 894.6,124.3 897.6,124.2 900.6,123.9 903.6,123.6 906.6,123.2 909.6,122.8 912.6,122.2 915.6,121.6 918.6,120.9 921.6,120.2 924.6,119.4 927.6,118.6 930.6,117.6 933.6,116.7 936.6,115.6 939.6,114.5 942.6,113.4 945.6,112.2 948.6,111 951.6,109.7 954.6,108.5 957.6,107.2 960.6,105.9 963.6,104.6 966.6,103.4 969.6,102.2 972.6,101 975.6,99.8 978.6,98.7 981.6,97.7 984.6,96.7 987.6,95.8 990.6,95 993.6,94.3 996.6,93.8 999.6,93.3 1002.6,92.9 1005.6,92.6 1008.6,92.4 1011.6,92.3 1014.6,92.2 1017.6,92.2 1020.6,92.3 1023.6,92.5 1026.6,92.7 1029.6,93 1032.6,93.3 1035.6,93.6 1038.6,94 1041.6,94.4 1044.6,94.9 1047.6,95.4 1050.6,95.8 1053.6,96.3 1056.6,96.9 1059.6,97.4 1062.6,98 1065.6,98.5 1068.6,99.1 1071.6,99.7 1074.6,100.2 1077.6,100.8 1080.6,101.4 1083.6,102 1086.6,102.6 1089.6,103.1 1092.6,103.7 1095.6,104.3 1098.6,104.8 1101.6,105.4 1104.6,105.9 1107.6,106.4 1110.6,106.9 1113.6,107.4 1116.6,107.9 1119.6,108.3 1122.6,108.7 1125.6,109.1 1128.6,109.5 1131.6,109.8 1134.6,110.1 1137.6,110.4 1140.6,110.7 1143.6,111 1146.6,111.2 1149.6,111.4 1152.6,111.6 1155.6,111.8 1158.6,112 1161.6,112.2 1164.6,112.4 1167.6,112.5 1170.6,112.7 1173.6,112.8 1176.6,113 1179.6,113.1 1182.6,113.3 1185.6,113.4 1188.6,113.5 1191.6,113.7 1194.6,113.8 1197.6,114 1200.6,114.2 1203.6,114.4 1206.6,114.5 1209.6,114.8 1212.6,115 1215.6,115.2 1218.6,115.4 1221.6,115.7 1224.6,116 1227.6,116.3 1230.6,116.6 1233.6,117 1236.6,117.4 1239.6,117.8 1242.6,118.2 1245.6,118.7 1248.6,119.1 1251.6,119.7 1254.6,120.2 1257.6,120.8 1260.6,121.4 1263.6,122.1 1266.6,122.8 1269.6,123.5 1272.6,124.3 1275.6,125 1278.6,125.8 1281.6,126.7 1284.6,127.5 1287.6,128.4 1290.6,129.3 1293.6,130.2 1296.6,131.1 1299.6,132 1302.6,133 1305.6,133.9 1308.6,134.9 1311.6,135.9 1314.6,136.8 1317.6,137.8 1320.6,138.8 1323.6,139.7 1326.6,140.7 1329.6,141.7 1332.6,142.6 1335.6,143.6 1338.6,144.5 1341.6,145.4 1344.6,146.4 1347.6,147.3 1350.6,148.1 1353.6,149 1356.6,149.8 1359.6,150.7 1362.6,151.4 1365.6,152.2 1368.6,153 1371.6,153.7 1374.6,154.3 1377.6,155 1380.6,155.6 1383.6,156.2 1386.6,156.7 1389.6,157.2 1392.6,157.7 1395.6,158.1 1398.6,158.4 1401.6,158.7 1403.6,158.9" stroke="#ee8b31"/>
<path d="M774.6,149.5 777.6,139.7 780.6,131.7 783.6,125.3 786.6,120.2 789.6,116.2 792.6,113.1 795.6,110.7 798.6,108.8 801.6,107.2 804.6,106 807.6,105 810.6,104.3 813.6,103.8 816.6,103.6 819.6,103.5 822.6,103.6 825.6,103.9 828.6,104.2 831.6,104.6 834.6,105.1 837.6,105.7 840.6,106.4 843.6,107.1 846.6,107.8 849.6,108.5 852.6,109.2 855.6,109.9 858.6,110.6 861.6,111.3 864.6,111.9 867.6,112.4 870.6,112.8 873.6,113.2 876.6,113.4 879.6,113.6 882.6,113.6 885.6,113.5 888.6,113.4 891.6,113.1 894.6,112.8 897.6,112.4 900.6,111.9 903.6,111.3 906.6,110.6 909.6,109.8 912.6,108.9 915.6,108 918.6,107 921.6,106 924.6,104.8 927.6,103.6 930.6,102.3 933.6,101 936.6,99.6 939.6,98.1 942.6,96.6 945.6,95 948.6,93.4 951.6,91.8 954.6,90.1 957.6,88.4 960.6,86.7 963.6,85 966.6,83.4 969.6,81.7 972.6,80.1 975.6,78.5 978.6,77 981.6,75.5 984.6,74.1 987.6,72.8 990.6,71.6 993.6,70.4 996.6,69.4 999.6,68.5 1002.6,67.6 1005.6,66.9 1008.6,66.2 1011.6,65.7 1014.6,65.2 1017.6,64.8 1020.6,64.5 1023.6,64.2 1026.6,64.1 1029.6,63.9 1032.6,63.9 1035.6,63.9 1038.6,63.9 1041.6,64 1044.6,64.1 1047.6,64.3 1050.6,64.5 1053.6,64.7 1056.6,65 1059.6,65.3 1062.6,65.6 1065.6,65.9 1068.6,66.2 1071.6,66.6 1074.6,67 1077.6,67.3 1080.6,67.7 1083.6,68.1 1086.6,68.5 1089.6,68.9 1092.6,69.2 1095.6,69.6 1098.6,69.9 1101.6,70.3 1104.6,70.6 1107.6,70.8 1110.6,71.1 1113.6,71.3 1116.6,71.5 1119.6,71.7 1122.6,71.8 1125.6,71.9 1128.6,71.9 1131.6,71.9 1134.6,71.8 1137.6,71.8 1140.6,71.7 1143.6,71.5 1146.6,71.3 1149.6,71.1 1152.6,70.9 1155.6,70.7 1158.6,70.4 1161.6,70.1 1164.6,69.9 1167.6,69.6 1170.6,69.2 1173.6,68.9 1176.6,68.6 1179.6,68.3 1182.6,67.9 1185.6,67.6 1188.6,67.3 1191.6,67 1194.6,66.7 1197.6,66.4 1200.6,66.1 1203.6,65.8 1206.6,65.6 1209.6,65.4 1212.6,65.2 1215.6,65 1218.6,64.8 1221.6,64.7 1224.6,64.6 1227.6,64.5 1230.6,64.5 1233.6,64.5 1236.6,64.5 1239.6,64.5 1242.6,64.6 1245.6,64.7 1248.6,64.8 1251.6,64.9 1254.6,65.1 1257.6,65.3 1260.6,65.5 1263.6,65.7 1266.6,66 1269.6,66.3 1272.6,66.6 1275.6,66.9 1278.6,67.3 1281.6,67.6 1284.6,68 1287.6,68.4 1290.6,68.8 1293.6,69.2 1296.6,69.7 1299.6,70.1 1302.6,70.6 1305.6,71 1308.6,71.5 1311.6,72 1314.6,72.4 1317.6,72.9 1320.6,73.4 1323.6,73.9 1326.6,74.4 1329.6,74.9 1332.6,75.3 1335.6,75.8 1338.6,76.3 1341.6,76.7 1344.6,77.2 1347.6,77.6 1350.6,78.1 1353.6,78.5 1356.6,78.9 1359.6,79.3 1362.6,79.7 1365.6,80.1 1368.6,80.4 1371.6,80.7 1374.6,81 1377.6,81.3 1380.6,81.6 1383.6,81.8 1386.6,82.1 1389.6,82.2 1392.6,82.4 1395.6,82.5 1398.6,82.6 1401.6,82.7 1403.6,82.8" stroke="#d8322c"/>
</g>
<line x1="281.5" y1="453.2" x2="466.5" y2="19.5" stroke="#000" stroke-width="3.4" stroke-linecap="round"/>
<line x1="922.2" y1="439.9" x2="1086.3" y2="31" stroke="#000" stroke-width="3.4" stroke-linecap="round"/>
<path d="M469.5,12.5 L450.7,29.3 L463.5,29.8 L471.5,38 Z" fill="#000" stroke="#000" stroke-width="1.5" stroke-linejoin="round"/>
<path d="M1089.3,24.4 L1071,41.4 L1083.5,41.6 L1091.4,49.4 Z" fill="#000" stroke="#000" stroke-width="1.5" stroke-linejoin="round"/>
<text x="131.5" y="518.4" font-size="29" text-anchor="end" >0</text>
<text x="131.5" y="408.1" font-size="29" text-anchor="end" >5</text>
<text x="131.5" y="297.8" font-size="29" text-anchor="end" >10</text>
<text x="131.5" y="187.5" font-size="29" text-anchor="end" >15</text>
<text x="131.5" y="77.2" font-size="29" text-anchor="end" >20</text>
<text x="213" y="543.2" font-size="29" text-anchor="middle" >100</text>
<text x="353.1" y="543.2" font-size="29" text-anchor="middle" >200</text>
<text x="493.2" y="543.2" font-size="29" text-anchor="middle" >300</text>
<text x="633.2" y="543.2" font-size="29" text-anchor="middle" >400</text>
<text x="843.4" y="543.2" font-size="29" text-anchor="middle" >100</text>
<text x="983.5" y="543.2" font-size="29" text-anchor="middle" >200</text>
<text x="1123.6" y="543.2" font-size="29" text-anchor="middle" >300</text>
<text x="1263.6" y="543.2" font-size="29" text-anchor="middle" >400</text>
<text x="1403.7" y="543.2" font-size="29" text-anchor="middle" >500</text>
<text transform="translate(78,261.5) rotate(-90)" font-size="29" text-anchor="middle">Efficiency <tspan class="ser">η</tspan> (%)</text>
<text x="457.2" y="584" font-size="29" text-anchor="middle" >Active layer thickness <tspan class="it">d</tspan> (nm)</text>
<text x="1089.5" y="584" font-size="29" text-anchor="middle" >Active layer thickness <tspan class="it">d</tspan> (nm)</text>
<text x="161" y="47.8" font-size="41" text-anchor="start" font-weight="bold">a</text>
<text x="793" y="47.8" font-size="41" text-anchor="start" font-weight="bold">b</text>
<text x="212.5" y="42" font-size="29" text-anchor="start" >PTB7-Th:FBR</text>
<text x="837" y="42" font-size="29" text-anchor="start" >PTB7-Th:IDTBR</text>
<text x="487.5" y="42" font-size="29"><tspan class="it">Q</tspan><tspan dx="-3">=</tspan>10<tspan font-size="20" dy="-12">5</tspan><tspan dy="12"> cm</tspan><tspan font-size="20" dy="-12">1.6</tspan><tspan dy="12"> V</tspan><tspan font-size="20" dy="-12">−2</tspan><tspan dy="12"> s</tspan><tspan font-size="20" dy="-12">−1.2</tspan></text>
<text x="1104" y="42" font-size="29"><tspan class="it">Q</tspan><tspan dx="-3">=</tspan>10<tspan font-size="20" dy="-12">5</tspan><tspan dy="12"> cm</tspan><tspan font-size="20" dy="-12">1.6</tspan><tspan dy="12"> V</tspan><tspan font-size="20" dy="-12">−2</tspan><tspan dy="12"> s</tspan><tspan font-size="20" dy="-12">−1.2</tspan></text>
<text x="199.5" y="495.5" font-size="29"><tspan class="it">Q</tspan><tspan dx="-3">=</tspan>1<tspan dy="0"> cm</tspan><tspan font-size="20" dy="-12">1.6</tspan><tspan dy="12"> V</tspan><tspan font-size="20" dy="-12">−2</tspan><tspan dy="12"> s</tspan><tspan font-size="20" dy="-12">−1.2</tspan></text>
<text x="799.5" y="495.5" font-size="29"><tspan class="it">Q</tspan><tspan dx="-3">=</tspan>1<tspan dy="0"> cm</tspan><tspan font-size="20" dy="-12">1.6</tspan><tspan dy="12"> V</tspan><tspan font-size="20" dy="-12">−2</tspan><tspan dy="12"> s</tspan><tspan font-size="20" dy="-12">−1.2</tspan></text>
<text x="416.5" y="237.5" font-size="29"><tspan class="it">Q</tspan>(<tspan class="ser">μ</tspan>,<tspan class="it">k</tspan>)</text>
<text x="1028.5" y="237.5" font-size="29"><tspan class="it">Q</tspan>(<tspan class="ser">μ</tspan>,<tspan class="it">k</tspan>)</text>
<clipPath id="cpc"><rect x="160.3" y="633.7" width="551.3" height="489.2"/></clipPath>
<g clip-path="url(#cpc)">
<rect x="157.3" y="630.7" width="557.3" height="495.2" fill="#8c6c85"/>
<path d="M714.3,1125.7 156.3,1125.7 156.3,629.7 714.3,629.7 714.3,1125.7Z" fill="#8b6d88"/>
<path d="M714.3,1125.7 215.3,1125.7 214.6,1121.7 212.3,1114.6 198.3,1075.8 190.3,1056.8 182.3,1040.9 174.3,1029.1 168.3,1023.4 162.3,1020.7 156.3,1020.5 156.3,629.7 714.3,629.7 714.3,1125.7Z" fill="#89708e"/>
<path d="M714.3,1125.7 243.0,1125.7 241.9,1119.7 228.3,1071.7 207.1,999.7 190.3,968.8 184.3,959.3 178.3,951.1 172.3,944.7 166.3,940.5 162.3,939.2 156.3,939.0 156.3,629.7 714.3,629.7 714.3,1125.7Z" fill="#867493"/>
<path d="M714.3,1125.7 264.3,1125.7 263.1,1119.7 230.3,999.7 196.3,923.2 184.3,897.9 176.3,882.7 173.1,877.7 168.3,874.1 162.3,871.9 156.3,871.7 156.3,629.7 714.3,629.7 714.3,1125.7Z" fill="#847799"/>
<path d="M714.3,1125.7 282.4,1125.7 281.2,1119.7 247.8,999.7 196.5,877.7 192.3,869.7 186.3,861.1 176.3,847.4 170.3,840.3 164.3,835.2 160.3,834.0 156.3,834.0 156.3,629.7 714.3,629.7 714.3,1125.7Z" fill="#837a9f"/>
<path d="M714.3,1125.7 298.6,1125.7 297.4,1119.7 262.6,999.7 208.5,871.7 164.3,801.4 160.3,796.3 156.3,796.3 156.3,795.5 160.3,795.5 161.4,793.7 160.3,792.0 156.3,792.0 156.3,629.7 714.3,629.7 714.3,1125.7Z" fill="#827ea4"/>
<path d="M714.3,1125.7 309.4,1125.7 308.1,1119.7 271.7,999.7 218.3,874.0 216.4,869.7 170.5,795.7 167.1,793.7 160.3,780.4 156.3,780.4 156.3,629.7 714.3,629.7 714.3,1125.7Z" fill="#8180ab"/>
<path d="M714.3,1125.7 316.2,1125.7 314.7,1119.7 277.0,999.7 222.4,871.7 175.8,795.7 172.7,793.7 160.3,768.8 156.3,768.8 156.3,629.7 714.3,629.7 714.3,1125.7Z" fill="#8083b1"/>
<path d="M714.3,1125.7 322.1,1125.7 320.7,1119.7 281.5,999.7 226.8,871.7 180.5,795.7 178.4,793.7 160.3,757.3 156.3,757.3 156.3,629.7 714.3,629.7 714.3,1125.7Z" fill="#7f85b8"/>
<path d="M714.3,1125.7 328.0,1125.7 326.7,1119.7 285.7,999.7 230.8,871.7 187.3,799.7 161.2,747.7 160.3,746.8 156.3,746.8 156.3,629.7 714.3,629.7 714.3,1125.7Z" fill="#7e8abf"/>
<path d="M714.3,1125.7 334.3,1125.7 333.3,1119.7 289.8,999.7 234.3,871.2 192.6,799.7 166.9,747.7 166.9,745.7 160.3,732.5 156.3,732.5 156.3,629.7 714.3,629.7 714.3,1125.7Z" fill="#7c8ec5"/>
<path d="M714.3,1125.7 340.5,1125.7 341.1,1123.7 340.2,1119.7 330.1,1091.7 322.7,1073.7 317.9,1063.7 301.0,1017.7 280.7,969.7 239.8,877.7 236.7,869.7 221.1,839.7 198.2,799.7 173.6,747.7 174.4,745.7 164.3,724.7 160.3,717.5 156.3,717.5 156.3,629.7 714.3,629.7 714.3,1125.7Z" fill="#7c93cd"/>
<path d="M714.3,1125.7 346.5,1125.7 347.9,1123.7 347.0,1119.7 336.0,1089.7 328.5,1073.7 322.6,1063.7 305.2,1017.7 297.2,1001.7 284.1,969.7 277.3,955.7 253.5,901.7 242.3,877.7 237.8,865.7 225.8,839.7 204.7,801.7 194.3,777.0 180.9,747.7 181.2,745.7 177.8,737.7 168.3,717.1 160.3,702.5 156.3,702.5 156.3,629.7 714.3,629.7 714.3,1125.7Z" fill="#7c98d4"/>
<path d="M714.3,1125.7 352.4,1125.7 354.5,1123.7 354.1,1121.7 342.4,1089.7 334.1,1073.7 327.2,1063.7 309.3,1017.7 300.4,1001.7 292.0,981.7 287.5,969.7 280.3,955.6 257.3,903.7 244.8,877.7 240.9,865.7 230.3,839.7 210.0,801.7 200.3,776.5 187.9,747.7 181.0,729.7 172.3,710.0 160.3,686.6 156.3,686.6 156.3,629.7 714.3,629.7 714.3,1125.7Z" fill="#7c9cda"/>
<path d="M714.3,1125.7 358.1,1125.7 360.7,1123.7 360.3,1121.7 348.3,1089.7 339.5,1073.7 331.8,1063.7 313.5,1017.7 303.8,1001.7 296.1,983.7 291.1,969.7 282.7,953.7 259.5,901.7 247.6,877.7 244.1,865.7 234.7,839.7 224.7,819.7 215.9,803.7 206.3,777.4 187.1,729.7 176.3,704.0 162.2,673.7 162.0,671.7 160.3,668.0 156.3,668.0 156.3,629.7 714.3,629.7 714.3,1125.7Z" fill="#7ea1de"/>
<path d="M714.3,1125.7 363.7,1125.7 366.5,1123.7 366.0,1121.7 354.7,1091.7 344.6,1073.7 336.5,1063.7 317.7,1017.7 307.6,1001.7 299.1,981.7 294.9,969.7 287.3,955.7 262.9,901.7 250.9,877.7 247.7,865.7 239.0,839.7 229.3,819.7 220.6,803.7 211.4,777.7 192.7,729.7 169.1,673.7 166.1,671.7 160.3,658.3 156.3,658.3 156.3,629.7 714.3,629.7 714.3,1125.7Z" fill="#7fa5e3"/>
<path d="M714.3,1125.7 369.1,1125.7 371.9,1123.7 371.4,1121.7 359.7,1091.7 349.4,1073.7 341.2,1063.7 321.9,1017.7 311.5,1001.7 302.9,981.7 298.7,969.7 291.1,955.7 266.5,901.7 254.4,877.7 251.4,865.7 243.1,839.7 233.8,819.7 225.2,803.7 216.1,777.7 198.3,731.0 174.8,673.7 170.3,671.7 166.6,663.7 160.3,647.0 156.3,647.0 156.3,629.7 714.3,629.7 714.3,1125.7Z" fill="#7faae7"/>
<path d="M714.3,1125.7 374.5,1125.7 377.1,1123.7 376.6,1121.7 364.5,1091.7 354.1,1073.7 345.8,1063.7 337.7,1045.7 326.1,1017.7 315.5,1001.7 306.8,981.7 302.6,969.7 294.9,955.7 270.2,901.7 258.0,877.7 255.2,865.7 247.2,839.7 238.1,819.7 229.6,803.7 203.3,731.7 179.7,673.7 174.5,671.7 170.9,663.7 160.3,635.6 156.3,635.6 156.3,629.7 714.3,629.7 714.3,1125.7Z" fill="#7faeec"/>
<path d="M714.3,1125.7 379.8,1125.7 382.0,1123.7 381.6,1121.7 369.1,1091.7 358.6,1073.7 350.3,1063.7 341.8,1045.7 330.2,1017.7 319.5,1001.7 310.7,981.7 306.5,969.7 298.9,955.7 274.0,901.7 261.8,877.7 258.4,863.7 250.3,837.7 242.2,819.7 233.9,803.7 207.7,731.7 197.4,707.7 184.3,673.7 178.7,671.7 175.2,663.7 163.8,633.7 163.9,629.7 714.3,629.7 714.3,1125.7Z" fill="#7fb2ee"/>
<path d="M714.3,1125.7 385.0,1125.7 386.9,1123.7 386.4,1121.7 376.5,1097.7 363.0,1073.7 354.9,1063.7 346.0,1045.7 334.3,1017.7 323.7,1001.7 314.8,981.7 310.5,969.7 302.9,955.7 295.0,937.7 277.9,901.7 265.7,877.7 262.3,863.7 254.2,837.7 246.3,819.7 238.2,803.7 219.6,753.7 212.0,731.7 201.5,707.7 188.6,673.7 182.9,671.7 179.5,663.7 168.0,633.7 168.2,629.7 714.3,629.7 714.3,1125.7Z" fill="#7fb4ec"/>
<path d="M714.3,1125.7 390.2,1125.7 391.6,1123.7 391.1,1121.7 381.0,1097.7 367.3,1073.7 359.4,1063.7 350.1,1045.7 338.4,1017.7 327.9,1001.7 318.9,981.7 314.4,969.7 307.0,955.7 299.2,937.7 269.7,877.7 266.2,863.7 258.0,837.7 250.4,819.7 242.3,803.7 224.4,755.7 216.2,731.7 205.3,707.7 192.7,673.7 187.2,671.7 183.8,663.7 172.2,633.7 172.6,629.7 714.3,629.7 714.3,1125.7Z" fill="#7fb7ea"/>
<path d="M714.3,1125.7 395.3,1125.7 396.2,1123.7 395.1,1119.7 385.5,1097.7 371.6,1073.7 363.9,1063.7 354.2,1045.7 342.5,1017.7 332.2,1001.7 323.0,981.7 318.5,969.7 311.2,955.7 303.4,937.7 273.9,877.7 270.8,865.7 261.8,837.7 254.3,819.7 245.7,801.7 234.0,771.7 220.2,731.7 209.1,707.7 196.7,673.7 191.4,671.7 176.4,633.7 177.1,631.7 177.0,629.7 714.3,629.7 714.3,1125.7Z" fill="#80b9e5"/>
<path d="M714.3,1125.7 400.4,1125.7 400.9,1123.7 399.7,1119.7 389.8,1097.7 382.3,1085.7 375.8,1073.7 368.5,1063.7 366.7,1059.7 358.3,1045.7 346.5,1017.7 336.6,1001.7 327.2,981.7 322.6,969.7 314.5,953.7 307.8,937.7 294.5,911.7 278.2,877.7 274.9,865.7 265.6,837.7 258.3,819.7 250.5,803.7 242.4,783.7 232.2,755.7 224.2,731.7 212.8,707.7 200.6,673.7 195.7,671.7 180.7,633.7 181.6,631.7 181.5,629.7 714.3,629.7 714.3,1125.7Z" fill="#82bbe1"/>
<path d="M714.3,1125.7 405.4,1125.7 405.4,1123.7 404.3,1119.7 394.2,1097.7 386.4,1085.7 380.0,1073.7 373.0,1063.7 371.2,1059.7 362.4,1045.7 350.7,1017.7 341.0,1001.7 328.8,975.7 326.3,968.9 319.8,955.7 312.2,937.7 298.7,911.7 282.6,877.7 269.3,837.7 260.3,815.2 254.6,803.7 245.3,781.7 236.0,755.7 228.1,731.7 216.5,707.7 204.4,673.7 200.1,671.7 194.1,655.7 185.0,633.7 186.2,631.7 186.0,629.7 714.3,629.7 714.3,1125.7Z" fill="#83bddc"/>
<path d="M714.3,1125.7 410.4,1125.7 408.9,1119.7 398.6,1097.7 390.5,1085.7 384.2,1073.7 366.6,1045.7 354.8,1017.7 345.5,1001.7 335.8,981.7 316.7,937.7 302.9,911.7 287.1,877.7 273.1,837.7 266.2,819.7 258.6,803.7 246.0,773.7 232.0,731.7 220.1,707.7 208.2,673.7 204.4,671.7 198.5,655.7 189.3,633.7 190.8,631.7 190.6,629.7 714.3,629.7 714.3,1125.7Z" fill="#85c0d8"/>
<path d="M714.3,1125.7 415.3,1125.7 413.5,1119.7 402.9,1097.7 394.6,1085.7 388.5,1073.7 382.1,1063.7 380.3,1059.7 370.7,1045.7 359.0,1017.7 350.1,1001.7 346.6,993.7 337.2,975.7 321.2,937.7 307.2,911.7 291.7,877.7 280.8,849.7 276.9,837.7 267.7,813.7 253.7,783.7 249.8,773.7 235.9,731.7 223.8,707.7 212.0,673.7 208.8,671.7 203.0,655.7 193.6,633.7 195.5,631.7 195.3,629.7 714.3,629.7 714.3,1125.7Z" fill="#86c2d3"/>
<path d="M714.3,1125.7 420.3,1125.7 418.1,1119.7 407.4,1097.7 398.8,1085.7 384.9,1059.7 375.0,1045.7 363.2,1017.7 354.7,1001.7 351.2,993.7 341.5,975.7 325.8,937.7 311.5,911.7 296.3,877.7 284.7,849.7 271.7,813.7 257.5,783.7 253.5,773.7 239.8,731.7 227.5,707.7 215.8,673.7 213.2,671.7 207.4,655.7 198.0,633.7 200.2,631.7 200.0,629.7 714.3,629.7 714.3,1125.7Z" fill="#88c4cf"/>
<path d="M714.3,1125.7 425.2,1125.7 422.8,1119.7 411.8,1097.7 403.0,1085.7 389.6,1059.7 379.3,1045.7 367.4,1017.7 355.8,993.7 345.8,975.7 330.3,937.7 315.9,911.7 288.7,849.7 275.8,813.7 260.5,781.7 256.6,771.7 243.8,731.7 231.2,707.7 219.7,673.7 217.7,671.7 211.9,655.7 202.4,633.7 205.0,631.7 204.8,629.7 714.3,629.7 714.3,1125.7Z" fill="#89c6ca"/>
<path d="M714.3,1125.7 430.1,1125.7 427.7,1119.7 416.4,1097.7 407.4,1085.7 394.3,1059.7 383.7,1045.7 371.8,1017.7 361.4,995.7 350.2,975.7 334.9,937.7 320.3,911.7 305.7,877.7 293.6,851.7 279.9,813.7 265.3,783.7 261.2,773.7 247.8,731.7 235.0,707.7 223.7,673.7 222.1,671.7 216.4,655.7 206.9,633.7 209.9,631.7 209.6,629.7 714.3,629.7 714.3,1125.7Z" fill="#8bc9c6"/>
<path d="M714.3,1125.7 435.0,1125.7 432.7,1119.7 422.3,1099.7 411.9,1085.7 399.1,1059.7 388.2,1045.7 382.4,1031.7 366.1,995.7 354.6,975.7 339.4,937.7 324.7,911.7 310.3,877.7 296.8,849.7 284.1,813.7 269.4,783.7 265.3,773.7 251.8,731.7 239.0,707.7 227.7,673.7 220.9,655.7 211.4,633.7 214.8,631.7 214.5,629.7 714.3,629.7 714.3,1125.7Z" fill="#8ccbc1"/>
<path d="M714.3,1125.7 439.9,1125.7 437.8,1119.7 426.1,1097.7 416.6,1085.7 404.0,1059.7 392.8,1045.7 370.8,995.7 359.1,975.7 343.9,937.7 329.1,911.7 314.8,877.7 301.0,849.7 288.4,813.7 273.5,783.7 269.4,773.7 256.0,731.7 243.1,707.7 235.5,683.7 226.2,657.7 215.9,633.7 219.8,631.7 219.5,629.7 714.3,629.7 714.3,1125.7Z" fill="#8ecdbc"/>
<path d="M714.3,1125.7 444.8,1125.7 443.2,1119.7 432.4,1099.7 421.6,1085.7 408.9,1059.7 397.7,1045.7 375.5,995.7 363.6,975.7 348.3,937.7 333.5,911.7 319.3,877.7 305.4,849.7 291.9,811.7 277.0,781.7 273.1,771.7 260.4,731.7 247.5,707.7 240.0,683.7 230.7,657.7 220.5,633.7 224.9,631.7 224.6,629.7 714.3,629.7 714.3,1125.7Z" fill="#8fd0b8"/>
<path d="M714.3,1125.7 449.7,1125.7 450.3,1123.7 448.9,1119.7 437.8,1099.7 426.7,1085.7 414.0,1059.7 402.7,1045.7 380.1,995.7 368.1,975.7 352.7,937.7 337.8,911.7 323.6,877.7 309.7,849.7 296.3,811.7 281.4,781.7 277.6,771.7 264.7,731.7 251.9,707.7 244.5,683.7 237.4,663.7 225.0,633.7 230.1,631.7 229.7,629.7 714.3,629.7 714.3,1125.7Z" fill="#92d0b2"/>
<path d="M714.3,1125.7 454.6,1125.7 456.3,1123.7 455.7,1121.7 443.2,1099.7 432.0,1085.7 419.0,1059.7 407.7,1045.7 384.7,995.7 372.5,975.7 356.9,937.7 342.1,911.7 327.8,877.7 314.1,849.7 300.6,811.7 285.9,781.7 282.7,773.7 269.0,731.7 256.3,707.7 247.0,677.7 239.6,657.7 229.4,633.7 235.3,631.7 234.9,629.7 714.3,629.7 714.3,1125.7Z" fill="#95cfac"/>
<path d="M714.3,1125.7 459.6,1125.7 462.4,1123.7 460.8,1119.7 447.6,1097.7 437.4,1085.7 424.1,1059.7 412.8,1045.7 406.7,1033.7 389.2,995.7 377.0,975.7 361.0,937.7 346.3,911.7 332.0,877.7 318.4,849.7 304.9,811.7 290.4,781.7 287.2,773.7 273.2,731.7 260.8,707.7 252.1,679.7 243.8,657.7 233.8,633.7 240.6,631.7 240.2,629.7 714.3,629.7 714.3,1125.7Z" fill="#98cea6"/>
<path d="M714.3,1125.7 464.5,1125.7 468.8,1123.7 467.0,1119.7 461.5,1111.7 453.3,1097.7 442.9,1085.7 436.1,1073.7 429.2,1059.7 417.9,1045.7 411.5,1033.7 393.7,995.7 381.4,975.7 365.0,937.7 350.5,911.7 336.1,877.7 322.8,849.7 309.3,811.7 294.9,781.7 277.4,731.7 265.2,707.7 256.6,679.7 238.2,633.7 246.0,631.7 245.6,629.7 714.3,629.7 714.3,1125.7Z" fill="#9bcda0"/>
<path d="M714.3,1125.7 469.5,1125.7 475.4,1123.7 474.6,1121.7 467.4,1111.7 459.1,1097.7 448.5,1085.7 441.3,1073.7 434.3,1059.7 423.2,1045.7 417.3,1035.7 399.3,997.7 385.8,975.7 369.1,937.7 354.7,911.7 340.1,877.7 328.0,851.7 313.6,811.7 299.5,781.7 281.5,731.7 269.6,707.7 261.0,679.7 242.5,633.7 251.5,631.7 251.0,629.7 714.3,629.7 714.3,1125.7Z" fill="#9dcc9e"/>
<path d="M714.3,1125.7 474.5,1125.7 482.0,1123.7 479.9,1119.7 473.4,1111.7 464.9,1097.7 454.2,1085.7 446.6,1073.7 439.5,1059.7 428.5,1045.7 421.1,1033.7 415.8,1021.7 403.9,997.7 397.1,987.7 390.2,975.7 374.1,939.7 358.9,911.7 332.4,851.7 328.5,839.7 318.7,813.7 304.1,781.7 285.7,731.7 274.1,707.7 265.5,679.7 252.8,649.7 246.8,633.7 257.0,631.7 256.6,629.7 714.3,629.7 714.3,1125.7Z" fill="#9fcb9c"/>
<path d="M714.3,1125.7 479.6,1125.7 488.8,1123.7 486.5,1119.7 479.5,1111.7 470.9,1097.7 460.0,1085.7 452.0,1073.7 444.7,1059.7 433.9,1045.7 425.9,1033.7 420.7,1021.7 408.5,997.7 401.5,987.7 394.7,975.7 378.1,939.7 363.1,911.7 349.2,879.7 342.5,865.7 336.1,849.7 333.1,839.7 323.1,813.7 308.7,781.7 297.9,751.7 289.9,731.7 278.6,707.7 270.0,679.7 257.0,649.7 251.2,633.7 262.7,631.7 262.2,629.7 714.3,629.7 714.3,1125.7Z" fill="#a1ca9a"/>
<path d="M714.3,1125.7 484.7,1125.7 495.6,1123.7 493.2,1119.7 485.6,1111.7 476.9,1097.7 465.8,1085.7 457.4,1073.7 449.9,1059.7 430.9,1033.7 425.6,1021.7 413.2,997.7 405.9,987.7 399.2,975.7 395.9,967.7 382.2,939.7 367.3,911.7 347.5,867.7 340.6,849.7 337.7,839.7 327.5,813.7 313.4,781.7 303.2,753.7 294.9,733.7 283.2,707.7 274.6,679.7 262.0,651.7 255.6,633.7 268.5,631.7 267.9,629.7 714.3,629.7 714.3,1125.7Z" fill="#a3c998"/>
<path d="M714.3,1125.7 489.9,1125.7 502.4,1123.7 499.8,1119.7 491.8,1111.7 483.0,1097.7 473.5,1087.7 466.3,1078.3 462.9,1073.7 455.3,1059.7 435.9,1033.7 430.7,1021.7 419.0,999.7 416.7,995.7 410.4,987.7 403.9,975.7 394.4,955.7 371.7,911.7 351.7,867.7 345.2,849.7 342.4,839.7 331.1,811.7 318.2,781.7 307.0,751.7 287.8,707.7 279.2,679.7 266.2,651.7 260.0,633.7 274.3,631.7 273.8,629.7 714.3,629.7 714.3,1125.7Z" fill="#a6c896"/>
<path d="M714.3,1125.7 495.2,1125.7 509.1,1123.7 506.4,1119.7 498.0,1111.7 489.1,1097.7 477.8,1085.7 468.5,1073.7 460.7,1059.7 450.6,1045.7 441.0,1033.7 435.9,1021.7 423.8,999.7 421.4,995.7 413.8,985.7 408.6,975.7 405.2,967.7 385.9,931.7 376.1,911.7 371.9,901.7 356.1,867.7 350.6,851.7 347.2,839.7 323.8,783.7 311.7,751.7 300.5,727.7 292.6,707.7 283.9,679.7 270.6,651.7 264.6,633.7 280.3,631.7 279.7,629.7 714.3,629.7 714.3,1125.7Z" fill="#a9c792"/>
<path d="M714.3,1125.7 500.5,1125.7 515.7,1123.7 512.9,1119.7 504.2,1111.7 495.2,1097.7 483.9,1085.7 474.1,1073.7 464.8,1057.7 456.4,1045.7 446.3,1033.7 441.1,1021.7 428.8,999.7 426.3,995.7 418.5,985.7 410.0,967.7 390.3,931.7 380.7,911.7 376.5,901.7 361.3,869.7 355.4,851.7 352.1,839.7 335.7,801.7 317.3,753.7 305.0,727.7 297.4,707.7 288.7,679.7 275.0,651.7 269.3,633.7 286.4,631.7 285.8,629.7 714.3,629.7 714.3,1125.7Z" fill="#aec68e"/>
<path d="M714.3,1125.7 505.9,1125.7 522.1,1123.7 519.3,1119.7 510.3,1111.7 501.3,1097.7 490.0,1085.7 479.9,1073.7 471.8,1059.7 462.3,1045.7 451.6,1033.7 445.5,1019.7 432.7,997.7 423.3,985.7 415.0,967.7 394.8,931.7 381.3,901.7 365.9,869.7 357.2,839.7 340.5,801.7 322.2,753.7 309.6,727.7 302.5,707.7 293.7,679.7 279.6,651.7 274.2,633.7 292.6,631.7 292.0,629.7 714.3,629.7 714.3,1125.7Z" fill="#b3c489"/>
<path d="M714.3,1125.7 511.4,1125.7 528.3,1123.7 525.5,1119.7 516.4,1111.7 507.4,1097.7 485.8,1073.7 477.5,1059.7 468.3,1045.7 457.2,1033.7 451.1,1019.7 438.0,997.7 428.4,985.7 420.2,967.7 399.5,931.7 386.3,901.7 370.8,869.7 362.5,839.7 345.3,801.7 334.6,771.7 327.3,753.7 314.4,727.7 298.9,679.7 284.5,651.7 279.3,633.7 298.9,631.7 298.3,629.7 714.3,629.7 714.3,1125.7Z" fill="#b9c285"/>
<path d="M714.3,1125.7 517.0,1125.7 534.3,1123.7 531.5,1119.7 522.4,1111.7 513.4,1097.7 491.8,1073.7 474.4,1045.7 463.0,1033.7 456.9,1019.7 443.6,997.7 435.0,987.7 425.7,967.7 404.6,931.7 391.6,901.7 375.9,869.7 368.0,839.7 350.2,801.7 339.9,771.7 332.5,753.7 319.5,727.7 304.4,679.7 289.7,651.7 284.7,633.7 305.3,631.7 304.7,629.7 714.3,629.7 714.3,1125.7Z" fill="#c0c080"/>
<path d="M714.3,1125.7 522.7,1125.7 540.1,1123.7 537.3,1119.7 528.3,1111.7 519.4,1097.7 497.9,1073.7 480.7,1045.7 469.1,1033.7 462.9,1019.7 449.4,997.7 440.7,987.7 431.6,967.7 410.1,931.7 397.4,901.7 381.6,869.7 373.8,839.7 363.6,819.7 355.3,801.7 345.3,771.7 338.0,753.7 324.8,727.7 310.2,679.7 295.3,651.7 290.6,633.7 311.9,631.7 311.2,629.7 714.3,629.7 714.3,1125.7Z" fill="#c6be7c"/>
<path d="M714.3,1125.7 528.6,1125.7 545.6,1123.7 543.0,1119.7 534.2,1111.7 525.3,1097.7 504.1,1073.7 487.2,1045.7 475.5,1033.7 469.3,1019.7 455.7,997.7 447.0,987.7 438.0,967.7 416.4,931.7 403.9,901.7 388.0,869.7 380.8,841.7 360.5,801.7 349.4,767.7 342.8,751.7 330.7,727.7 324.1,703.7 316.6,679.7 301.6,651.7 297.2,633.7 318.6,631.7 317.9,629.7 714.3,629.7 714.3,1125.7Z" fill="#cdbc78"/>
<path d="M714.3,1125.7 534.7,1125.7 550.8,1123.7 548.3,1119.7 539.8,1111.7 531.1,1097.7 510.5,1073.7 493.8,1045.7 482.3,1033.7 476.1,1019.7 462.6,997.7 454.1,987.7 445.3,967.7 424.0,931.7 411.7,901.7 395.7,869.7 386.6,839.7 375.3,819.7 366.0,801.7 356.0,769.7 348.9,751.7 337.2,727.7 330.9,703.7 323.6,679.7 309.1,651.7 304.9,633.7 325.5,631.7 324.8,629.7 714.3,629.7 714.3,1125.7Z" fill="#d3ba74"/>
<path d="M714.3,1125.7 540.9,1125.7 555.4,1123.7 553.0,1119.7 545.1,1111.7 535.2,1095.7 517.1,1073.7 500.8,1045.7 489.9,1033.7 483.6,1019.7 470.4,997.7 462.3,987.7 453.7,967.7 433.0,931.7 421.0,901.7 404.3,868.5 394.9,841.7 371.5,801.7 362.7,771.7 357.5,757.7 344.2,727.7 338.3,703.7 331.4,679.7 317.7,651.7 313.7,633.7 332.5,631.7 331.8,629.7 714.3,629.7 714.3,1125.7Z" fill="#dab66f"/>
<path d="M714.3,1125.7 547.4,1125.7 559.5,1123.7 557.5,1119.7 550.2,1111.7 540.6,1095.7 523.8,1073.7 508.1,1045.7 498.0,1033.7 491.7,1019.7 479.0,997.7 471.7,987.7 463.4,967.7 443.8,931.7 432.1,901.7 420.8,877.7 414.6,867.7 402.9,841.7 388.3,819.6 376.2,799.7 367.4,767.7 361.9,751.7 351.9,727.7 346.4,703.7 339.8,679.7 327.4,651.7 323.6,633.7 339.7,631.7 339.0,629.7 714.3,629.7 714.3,1125.7Z" fill="#e0b36b"/>
<path d="M714.3,1125.7 554.2,1125.7 563.6,1123.7 561.8,1119.7 555.3,1111.7 546.3,1096.0 530.7,1073.7 515.6,1045.7 506.6,1033.7 500.3,1019.7 487.3,995.7 482.1,987.7 474.0,967.7 456.2,931.7 444.7,901.7 434.1,877.7 426.8,867.7 411.5,841.7 395.5,819.7 381.9,799.7 373.8,767.7 368.9,751.7 360.1,727.7 355.0,703.7 349.0,679.7 338.3,651.7 334.7,633.7 347.0,631.7 346.3,629.7 714.3,629.7 714.3,1125.7Z" fill="#e6b165"/>
<path d="M714.3,1125.7 561.3,1125.7 567.8,1123.7 566.3,1119.9 560.5,1111.7 553.0,1097.7 537.9,1073.7 523.3,1045.7 515.6,1033.7 509.1,1019.7 492.7,987.7 484.9,967.7 469.0,931.7 457.7,901.7 447.8,877.7 439.5,867.7 420.5,841.7 402.3,819.0 387.8,799.7 381.0,769.7 376.2,751.7 368.9,727.7 358.7,679.7 350.0,651.7 346.6,633.7 354.5,631.7 353.8,629.7 714.3,629.7 714.3,1125.7Z" fill="#eab05e"/>
<path d="M714.3,1125.7 568.8,1125.7 572.2,1123.7 571.0,1119.7 566.0,1111.7 558.8,1097.7 545.3,1073.7 531.2,1045.7 524.4,1033.7 507.9,999.7 502.6,987.7 481.4,933.7 460.0,877.7 394.2,799.7 388.0,769.7 378.1,727.7 368.6,679.7 361.5,649.7 358.5,633.7 362.3,631.7 361.6,629.7 714.3,629.7 714.3,1125.7Z" fill="#efae58"/>
<path d="M714.3,1125.7 576.9,1125.7 577.5,1123.7 576.5,1119.7 552.9,1073.7 516.1,999.7 470.3,877.7 401.1,799.7 373.0,651.7 369.7,633.7 370.2,631.7 369.5,629.7 714.3,629.7 714.3,1125.7Z" fill="#f1ac54"/>
<path d="M714.3,1125.7 585.7,1125.7 584.7,1123.7 583.8,1119.7 580.9,1113.7 523.4,999.7 479.0,877.7 409.2,799.7 380.5,635.7 380.1,633.7 378.5,631.7 377.9,629.7 714.3,629.7 714.3,1125.7Z" fill="#f3aa4f"/>
<path d="M714.3,1125.7 595.6,1125.7 593.7,1123.7 593.0,1119.7 589.1,1111.7 561.0,1057.7 530.0,999.7 487.2,877.7 419.0,799.7 401.4,689.7 394.4,649.7 391.4,633.7 388.2,631.7 387.6,629.7 714.3,629.7 714.3,1125.7Z" fill="#f5a84d"/>
<path d="M714.3,1125.7 606.6,1125.7 604.7,1123.7 604.0,1119.7 601.8,1115.7 592.3,1099.7 569.5,1057.7 536.2,999.7 494.0,877.7 430.3,799.7 421.7,747.7 412.8,689.7 402.1,633.7 398.9,631.7 398.4,629.7 714.3,629.7 714.3,1125.7Z" fill="#f8a34d"/>
<path d="M714.3,1125.7 618.3,1125.7 617.2,1123.7 616.2,1119.7 602.7,1099.7 577.9,1057.7 542.4,999.7 499.5,877.7 441.3,799.7 422.2,689.7 411.3,633.7 409.2,631.7 408.8,629.7 714.3,629.7 714.3,1125.7Z" fill="#fa9e4d"/>
<path d="M714.3,1125.7 629.8,1125.7 628.0,1119.7 613.1,1099.7 548.8,999.7 504.1,877.7 450.6,799.7 417.7,629.7 714.3,629.7 714.3,1125.7Z" fill="#fa984d"/>
<path d="M714.3,1125.7 641.6,1125.7 639.1,1119.7 616.1,1089.7 604.2,1071.7 594.1,1057.7 555.6,999.7 544.8,973.7 533.4,943.7 524.9,923.7 507.2,877.7 457.9,799.7 446.3,742.7 434.7,689.7 424.4,633.7 425.4,631.7 425.0,629.7 714.3,629.7 714.3,1125.7Z" fill="#fa924d"/>
<path d="M714.3,1125.7 654.6,1125.7 650.9,1119.7 633.7,1097.7 625.6,1089.7 613.6,1071.7 601.9,1057.7 594.2,1045.7 574.1,1017.7 562.6,999.7 549.9,973.7 537.9,943.7 527.9,923.7 517.2,895.7 509.3,877.7 495.0,853.7 480.3,826.8 464.1,799.7 461.2,789.7 452.4,745.7 438.3,689.7 428.5,633.7 431.5,631.7 431.0,629.7 714.3,629.7 714.3,1125.7Z" fill="#fa8b4d"/>
<path d="M714.3,1125.7 667.2,1125.7 645.1,1097.7 634.9,1089.7 623.0,1071.7 609.6,1057.7 602.0,1045.7 581.0,1017.7 569.8,999.7 566.8,993.7 554.8,973.7 542.2,943.7 530.7,923.7 519.8,895.7 512.2,879.7 497.9,853.7 492.7,841.7 484.5,825.7 470.0,799.7 467.1,791.7 457.4,745.7 441.5,689.7 432.3,633.7 436.9,631.7 436.5,629.7 714.3,629.7 714.3,1125.7Z" fill="#fa844d"/>
<path d="M714.3,1125.7 678.0,1125.7 671.0,1117.7 655.4,1097.7 643.8,1089.7 631.9,1071.7 617.2,1057.7 609.7,1045.7 587.8,1017.7 573.6,993.7 559.8,973.7 546.5,943.7 533.6,923.7 521.5,893.7 500.9,853.7 495.8,839.7 489.4,825.7 475.9,799.7 471.8,789.7 462.5,745.7 444.9,689.7 436.1,633.7 442.1,631.7 441.6,629.7 714.3,629.7 714.3,1125.7Z" fill="#fc7e4d"/>
<path d="M714.3,1125.7 687.0,1125.7 680.0,1117.7 664.3,1097.7 652.1,1089.7 640.1,1071.7 624.6,1057.7 617.2,1045.7 594.8,1017.7 580.6,993.7 565.3,973.7 551.4,943.7 537.1,923.7 525.7,895.7 516.3,878.5 504.5,853.7 501.3,841.7 494.8,825.7 477.8,789.7 468.2,745.7 449.0,689.7 440.5,633.7 447.0,631.7 446.5,629.7 714.3,629.7 714.3,1125.7Z" fill="#fe784d"/>
<path d="M714.3,1125.7 694.0,1125.7 672.0,1097.7 659.1,1089.7 646.9,1071.7 631.4,1057.7 624.0,1045.7 601.6,1017.7 587.2,993.7 571.4,973.7 556.7,943.7 541.8,923.7 530.1,895.7 520.0,877.7 510.3,855.7 507.0,841.7 501.2,825.7 484.9,789.7 474.8,745.7 454.5,689.7 445.9,633.7 451.8,631.7 451.3,629.7 714.3,629.7 714.3,1125.7Z" fill="#ff724d"/>
<path d="M714.3,1125.7 699.6,1125.7 697.1,1121.7 678.7,1097.7 673.9,1095.7 665.0,1089.7 652.6,1071.7 637.4,1057.7 630.0,1045.7 607.9,1017.7 593.3,993.7 577.4,973.7 562.1,943.7 546.3,922.5 535.0,895.7 524.5,877.7 515.7,855.7 512.9,841.7 507.7,825.7 497.1,799.7 492.3,789.7 481.6,745.7 460.7,689.7 451.5,633.7 456.6,631.7 456.1,629.7 714.3,629.7 714.3,1125.7Z" fill="#ff6b4d"/>
<path d="M714.3,1125.7 704.5,1125.7 702.7,1121.7 684.8,1097.7 678.8,1095.7 670.5,1089.7 657.8,1071.7 643.1,1057.7 635.6,1045.7 614.0,1017.7 599.2,993.7 583.4,973.7 567.5,943.7 551.3,921.7 540.1,895.7 529.5,877.7 521.0,853.7 519.2,841.7 514.4,825.7 504.7,799.7 500.0,789.7 488.7,745.7 467.5,689.7 457.3,633.7 461.5,631.7 461.0,629.7 714.3,629.7 714.3,1125.7Z" fill="#ff654d"/>
<path d="M714.3,1125.7 709.3,1125.7 709.1,1123.7 708.0,1121.7 690.5,1097.7 683.5,1095.7 675.7,1089.7 662.8,1071.7 648.7,1057.7 641.2,1045.7 620.0,1017.7 605.1,993.7 589.6,973.7 573.1,943.7 558.4,923.7 545.8,895.7 535.1,877.7 527.5,853.7 525.8,841.7 521.4,825.7 512.7,799.7 508.1,789.7 496.7,747.7 474.9,689.7 463.5,633.7 466.6,631.7 466.0,629.7 714.3,629.7 714.3,1125.7Z" fill="#ff5f4d"/>
<path d="M714.3,1119.5 712.3,1119.5 710.3,1117.8 695.9,1097.7 688.4,1095.7 681.1,1089.7 667.9,1071.7 654.5,1057.7 646.9,1045.7 626.3,1017.7 611.3,993.7 596.2,973.7 579.0,943.7 565.0,923.7 552.0,895.7 541.5,877.7 534.7,853.7 533.0,841.7 530.9,833.7 521.0,799.7 516.7,789.7 503.8,745.7 483.1,689.7 470.0,633.7 471.9,631.7 471.3,629.7 714.3,629.7 714.3,1119.5Z" fill="#ff594d"/>
<path d="M714.3,1112.6 712.3,1112.6 710.3,1110.8 701.1,1097.7 693.6,1095.7 687.0,1089.7 673.5,1071.7 660.8,1057.7 653.2,1045.7 633.2,1017.7 618.0,993.7 603.5,973.7 585.5,943.7 572.5,923.7 559.1,895.7 549.0,877.7 542.8,853.7 539.9,837.7 529.9,799.7 526.0,789.7 512.8,747.7 492.1,689.7 477.2,633.7 477.8,631.7 477.2,629.7 714.3,629.7 714.3,1112.6Z" fill="#ff534d"/>
<path d="M714.3,1105.7 712.3,1105.7 710.3,1103.9 706.1,1097.7 699.8,1095.7 695.8,1091.7 668.4,1057.7 612.2,973.7 590.6,939.7 581.5,923.7 558.2,877.7 539.7,799.7 511.7,719.7 501.9,689.7 484.0,629.7 714.3,629.7 714.3,1105.7Z" fill="#ff4d4d"/>
<path d="M714.3,1092.9 712.3,1092.9 708.3,1089.7 683.4,1059.7 604.3,942.7 570.3,878.0 550.9,799.7 521.6,719.7 493.4,629.7 714.3,629.7 714.3,1092.9ZM714.3,1098.5 712.3,1098.5 711.3,1097.7 712.3,1096.4 714.3,1096.4 714.3,1098.5Z" fill="#ff4d4e"/>
<path d="M714.3,1050.0 708.3,1049.5 704.3,1047.7 700.3,1044.8 694.3,1039.1 682.3,1025.0 650.3,983.3 618.1,939.7 583.8,877.7 563.4,801.7 544.3,753.7 532.0,719.7 505.0,633.7 505.5,631.7 504.8,629.7 714.3,629.7 714.3,1050.0Z" fill="#ff4d4f"/>
<path d="M714.3,1007.1 708.3,1006.8 704.3,1005.7 698.3,1002.7 688.3,996.1 676.3,986.0 660.3,969.1 635.8,939.7 608.3,895.1 598.2,877.7 585.3,835.7 577.9,807.7 554.7,753.7 542.6,719.7 516.1,633.7 517.1,631.7 516.5,629.7 714.3,629.7 714.3,1007.1Z" fill="#ff4d51"/>
<path d="M714.3,975.0 704.3,974.1 698.3,972.2 692.3,969.4 680.3,961.3 666.3,949.0 657.2,939.7 650.3,930.8 625.4,895.7 613.8,877.7 598.3,834.6 594.9,823.7 590.9,807.7 565.3,753.7 554.1,721.7 527.8,633.7 529.2,631.7 528.6,629.7 714.3,629.7 714.3,975.0Z" fill="#ff4d52"/>
<path d="M714.3,945.0 704.3,944.3 696.3,941.9 688.3,938.1 678.3,931.1 666.3,920.1 656.3,909.3 642.3,892.6 631.3,877.7 624.3,862.8 612.8,835.7 608.5,823.7 604.5,807.7 599.7,799.7 576.1,753.7 564.7,719.7 545.5,653.7 540.5,633.7 541.7,631.7 541.1,629.7 714.3,629.7 714.3,945.0Z" fill="#fb4d55"/>
<path d="M714.3,915.0 704.3,914.3 694.3,911.2 684.3,905.9 674.3,898.6 664.3,890.1 652.3,877.7 640.3,858.7 631.1,841.7 623.8,825.7 619.0,807.7 613.1,799.7 587.6,753.7 576.6,719.7 558.3,653.7 554.2,633.7 554.8,631.7 554.3,629.7 714.3,629.7 714.3,915.0Z" fill="#f74d58"/>
<path d="M714.3,886.3 704.3,885.7 696.3,883.7 686.3,879.3 678.3,874.2 670.3,867.3 662.3,858.7 652.3,845.6 644.3,833.0 639.3,823.7 634.7,807.7 627.7,799.7 599.9,753.7 589.5,719.7 579.3,681.7 572.3,653.7 569.2,633.7 568.2,629.7 714.3,629.7 714.3,886.3Z" fill="#f24d5b"/>
<path d="M714.3,858.9 708.3,858.8 702.3,857.8 692.3,854.3 686.3,851.1 680.3,846.9 670.3,837.9 664.3,831.1 658.7,823.7 652.8,807.7 644.2,799.7 629.1,777.7 615.0,755.7 613.9,753.7 603.9,719.7 594.6,683.7 587.9,653.7 586.0,633.7 583.6,631.7 583.1,629.7 714.3,629.7 714.3,858.9Z" fill="#ee4d5e"/>
<path d="M714.3,831.5 706.3,831.1 700.3,829.8 694.3,827.5 687.6,823.7 682.2,817.7 675.5,807.7 664.9,799.7 647.8,777.7 631.0,753.7 620.3,715.7 611.7,681.7 606.0,653.7 605.1,633.7 599.9,631.7 599.4,629.7 714.3,629.7 714.3,831.5Z" fill="#ea4d61"/>
<path d="M714.3,797.8 710.3,797.5 706.3,796.0 700.3,792.6 693.5,787.7 680.6,775.7 661.2,753.7 646.5,715.7 636.4,683.7 629.3,653.7 627.9,633.7 618.2,631.7 617.9,629.7 714.3,629.7 714.3,797.8Z" fill="#e54d64"/>
<path d="M714.3,732.6 706.3,731.9 700.3,729.3 692.3,723.3 685.7,715.7 676.3,700.4 667.2,681.7 657.4,653.7 654.1,633.7 640.2,631.7 639.9,629.7 714.3,629.7 714.3,732.6Z" fill="#e14d67"/>
<path d="M714.3,666.8 712.3,666.8 708.3,665.0 704.0,661.7 698.3,655.8 695.3,651.7 692.3,646.3 686.9,633.7 671.1,631.7 671.0,629.7 714.3,629.7 714.3,666.8Z" fill="#dd4d69"/>
<mask id="mkc5" maskUnits="userSpaceOnUse" x="150.3" y="623.7" width="571.3" height="509.2"><rect x="150.3" y="623.7" width="571.3" height="509.2" fill="#fff"/>
<rect x="281.6" y="956.6" width="20.0" height="26" fill="#000"/>
</mask>
<path mask="url(#mkc5)" fill="none" stroke="#202020" stroke-opacity="0.7" stroke-width="1.0" stroke-linejoin="round" d="M159.0,664.0 160.9,667.8 171.3,690.4 178.8,707.3 188.2,729.9 197.6,754.3 207.0,776.9 216.4,803.2 225.8,820.2 235.2,839.0 244.6,865.3 248.2,878.0 259.5,900.6 268.9,921.2 283.9,955.1 291.5,969.2 296.2,982.4 304.6,1002.1 314.0,1017.2 332.8,1064.2 340.3,1073.6 349.7,1090.5 361.0,1120.6 362.0,1125.0"/>
<mask id="mkc10" maskUnits="userSpaceOnUse" x="150.3" y="623.7" width="571.3" height="509.2"><rect x="150.3" y="623.7" width="571.3" height="509.2" fill="#fff"/>
<rect x="386.6" y="1032.5" width="34.0" height="26" fill="#000"/>
</mask>
<path mask="url(#mkc10)" fill="none" stroke="#202020" stroke-opacity="0.7" stroke-width="1.0" stroke-linejoin="round" d="M219.3,632.0 219.8,634.0 229.6,656.6 239.0,682.9 246.5,707.3 259.7,731.8 272.8,773.1 276.6,782.6 291.6,812.6 304.8,850.2 318.7,878.0 332.8,911.8 347.9,938.2 362.9,975.8 374.2,994.6 391.1,1032.2 397.0,1046.0 408.0,1059.5 421.2,1086.7 430.6,1098.0 442.8,1120.6 444.0,1125.0"/>
<mask id="mkc15" maskUnits="userSpaceOnUse" x="150.3" y="623.7" width="571.3" height="509.2"><rect x="150.3" y="623.7" width="571.3" height="509.2" fill="#fff"/>
<rect x="399.1" y="906.5" width="34.0" height="26" fill="#000"/>
</mask>
<path mask="url(#mkc15)" fill="none" stroke="#202020" stroke-opacity="0.7" stroke-width="1.0" stroke-linejoin="round" d="M300.5,632.0 301.0,634.0 304.8,650.9 319.8,679.1 327.4,703.6 333.9,728.0 346.2,752.5 353.7,771.3 363.1,801.4 372.5,820.2 383.8,840.8 391.3,869.0 395.8,878.0 408.0,902.4 414.0,917.0 420.3,932.5 441.9,968.3 449.9,987.1 458.3,996.5 473.4,1020.9 479.0,1034.1 490.3,1045.4 507.2,1073.6 527.9,1097.1 537.3,1112.1 546.7,1120.6 549.0,1125.0"/>
<mask id="mkc20" maskUnits="userSpaceOnUse" x="150.3" y="623.7" width="571.3" height="509.2"><rect x="150.3" y="623.7" width="571.3" height="509.2" fill="#fff"/>
<rect x="485.2" y="829.4" width="34.0" height="26" fill="#000"/>
</mask>
<path mask="url(#mkc20)" fill="none" stroke="#202020" stroke-opacity="0.7" stroke-width="1.0" stroke-linejoin="round" d="M441.2,632.0 441.4,634.0 444.2,652.8 449.9,690.4 460.2,718.6 469.6,746.8 479.0,790.1 495.9,825.8 502.0,841.0 505.3,854.0 516.6,878.0 526.0,894.9 537.3,923.1 552.3,943.8 566.4,973.9 582.4,994.6 595.6,1017.2 618.2,1045.4 625.7,1057.6 640.7,1070.7 653.9,1090.5 665.2,1097.1 682.1,1118.7 686.0,1123.0 692.0,1130.0"/>
<mask id="mkc25" maskUnits="userSpaceOnUse" x="150.3" y="623.7" width="571.3" height="509.2"><rect x="150.3" y="623.7" width="571.3" height="509.2" fill="#fff"/>
<rect x="665.5" y="778.2" width="34.0" height="26" fill="#000"/>
</mask>
<path mask="url(#mkc25)" fill="none" stroke="#202020" stroke-opacity="0.7" stroke-width="1.0" stroke-linejoin="round" d="M623.7,632.0 623.8,634.0 624.7,652.8 631.3,682.9 640.7,714.9 653.9,754.3 672.7,776.9 683.0,788.0 695.3,799.5 710.3,808.0 716.0,811.0"/>
<text x="291.6" y="978.4" font-size="24.5" text-anchor="middle">5</text>
<text x="403.6" y="1054.3" font-size="24.5" text-anchor="middle">10</text>
<text x="416.1" y="928.3" font-size="24.5" text-anchor="middle">15</text>
<text x="502.2" y="851.2" font-size="24.5" text-anchor="middle">20</text>
<text x="682.5" y="800.0" font-size="24.5" text-anchor="middle">25</text>
</g>
<path d="M270.6,1122.9v-7.5M270.6,633.7v7.5M380.8,1122.9v-7.5M380.8,633.7v7.5M491.1,1122.9v-7.5M491.1,633.7v7.5M601.3,1122.9v-7.5M601.3,633.7v7.5M160.3,756.0h7.5M711.6,756.0h-7.5M160.3,878.3h7.5M711.6,878.3h-7.5M160.3,1000.6h7.5M711.6,1000.6h-7.5" stroke="#000" stroke-width="2.8" fill="none"/>
<rect x="160.3" y="633.7" width="551.3" height="489.2" fill="none" stroke="#000" stroke-width="3" stroke-linejoin="round"/>
<clipPath id="cpd"><rect x="743.8" y="633.7" width="551.8" height="489.2"/></clipPath>
<g clip-path="url(#cpd)">
<rect x="740.8" y="630.7" width="557.8" height="495.2" fill="#8c6c85"/>
<path d="M1297.8,1125.7 739.8,1125.7 739.8,629.7 1297.8,629.7 1297.8,1125.7Z" fill="#8b6d88"/>
<path d="M1297.8,1125.7 794.9,1125.7 789.8,1099.7 779.8,1053.8 771.8,1021.6 765.9,1001.7 765.0,999.7 761.8,996.7 753.8,990.8 747.8,988.3 739.8,987.8 739.8,629.7 1297.8,629.7 1297.8,1125.7Z" fill="#89708e"/>
<path d="M1297.8,1125.7 820.9,1125.7 799.0,999.7 779.0,967.7 751.8,921.4 747.8,916.6 745.8,915.1 739.8,914.6 739.8,629.7 1297.8,629.7 1297.8,1125.7Z" fill="#867493"/>
<path d="M1297.8,1125.7 841.0,1125.7 818.1,999.7 798.6,967.7 782.6,939.7 767.1,909.7 755.5,889.7 743.8,863.4 739.8,863.4 739.8,629.7 1297.8,629.7 1297.8,1125.7Z" fill="#847799"/>
<path d="M1297.8,1125.7 858.2,1125.7 832.7,999.7 798.8,943.7 763.1,881.7 761.0,877.7 749.8,848.0 743.8,834.1 739.8,834.1 739.8,629.7 1297.8,629.7 1297.8,1125.7Z" fill="#837a9f"/>
<path d="M1297.8,1125.7 873.7,1125.7 844.9,999.7 770.4,877.7 745.8,809.7 745.9,807.7 743.8,801.6 739.8,801.6 739.8,629.7 1297.8,629.7 1297.8,1125.7Z" fill="#827ea4"/>
<path d="M1297.8,1125.7 884.3,1125.7 851.1,999.7 815.8,939.4 778.7,877.7 753.1,809.7 751.0,807.7 743.8,791.3 739.8,791.3 739.8,629.7 1297.8,629.7 1297.8,1125.7Z" fill="#8180ab"/>
<path d="M1297.8,1125.7 891.1,1125.7 854.3,999.7 785.8,877.7 758.3,809.7 756.1,807.7 743.8,781.0 739.8,781.0 739.8,629.7 1297.8,629.7 1297.8,1125.7Z" fill="#8083b1"/>
<path d="M1297.8,1125.7 897.1,1125.7 857.1,999.7 792.5,877.7 780.9,849.7 763.0,809.7 761.3,807.7 743.8,770.6 739.8,770.6 739.8,629.7 1297.8,629.7 1297.8,1125.7Z" fill="#7f85b8"/>
<path d="M1297.8,1125.7 903.1,1125.7 901.5,1119.7 860.1,999.7 798.8,877.7 786.8,849.7 744.6,761.7 743.8,760.9 739.8,760.9 739.8,629.7 1297.8,629.7 1297.8,1125.7Z" fill="#7e8abf"/>
<path d="M1297.8,1125.7 909.3,1125.7 909.4,1123.7 908.5,1119.7 863.8,999.7 804.9,877.7 793.0,849.7 750.3,761.7 750.5,759.7 748.5,755.7 743.8,747.5 739.8,747.5 739.8,629.7 1297.8,629.7 1297.8,1125.7Z" fill="#7c8ec5"/>
<path d="M1297.8,1125.7 915.4,1125.7 917.1,1123.7 916.2,1119.7 911.7,1107.7 907.1,1095.7 899.8,1079.6 887.5,1047.7 868.0,999.7 855.0,971.7 846.9,955.7 832.8,923.7 810.8,877.7 799.3,849.7 782.2,815.7 757.8,763.4 757.0,761.7 757.9,759.7 756.1,755.7 743.8,732.5 739.8,732.5 739.8,629.7 1297.8,629.7 1297.8,1125.7Z" fill="#7c93cd"/>
<path d="M1297.8,1125.7 921.2,1125.7 925.0,1123.7 915.6,1097.7 906.2,1079.7 893.5,1047.7 878.8,1015.7 865.4,983.7 859.8,971.7 851.3,955.7 838.3,923.7 816.3,877.7 805.4,849.7 797.8,833.7 788.3,815.7 777.4,789.7 764.3,761.7 764.6,759.7 753.8,735.8 743.8,717.1 739.8,717.1 739.8,629.7 1297.8,629.7 1297.8,1125.7Z" fill="#7c98d4"/>
<path d="M1297.8,1125.7 926.8,1125.7 932.4,1123.7 922.0,1095.7 912.3,1079.7 899.3,1047.7 883.4,1015.7 869.8,983.0 864.6,971.7 855.6,955.7 843.5,923.7 821.5,877.7 811.8,851.1 803.7,833.7 794.0,815.7 784.1,789.7 771.2,761.7 755.6,723.7 743.8,700.0 739.8,700.0 739.8,629.7 1297.8,629.7 1297.8,1125.7Z" fill="#7c9cda"/>
<path d="M1297.8,1125.7 932.3,1125.7 939.1,1123.7 929.3,1097.7 917.9,1079.7 904.7,1047.7 887.9,1015.7 874.6,983.7 869.1,971.7 859.9,955.7 848.3,923.7 826.4,877.7 817.8,852.7 809.1,833.7 799.3,815.7 789.9,789.7 771.7,749.7 761.5,721.7 745.6,685.7 745.8,683.7 745.0,681.7 743.8,679.5 739.8,679.5 739.8,629.7 1297.8,629.7 1297.8,1125.7Z" fill="#7ea1de"/>
<path d="M1297.8,1125.7 937.7,1125.7 944.9,1123.7 934.9,1097.7 923.1,1079.7 909.5,1047.7 892.1,1015.7 873.5,971.7 864.0,955.7 852.0,921.7 841.8,899.5 830.9,877.7 823.0,853.7 814.0,833.7 804.1,815.7 794.9,789.7 776.9,749.7 767.1,721.7 759.3,703.7 752.8,685.7 749.4,683.7 746.2,677.7 743.8,668.5 739.8,668.5 739.8,629.7 1297.8,629.7 1297.8,1125.7Z" fill="#7fa5e3"/>
<path d="M1297.8,1125.7 942.9,1125.7 950.2,1123.7 939.8,1097.7 927.9,1079.7 913.9,1047.7 896.3,1015.7 877.7,971.7 868.1,955.7 856.1,921.7 845.2,897.7 835.1,877.7 827.2,853.7 818.5,833.7 808.4,815.7 799.3,789.7 780.6,747.7 771.8,721.7 765.0,705.7 758.1,685.7 753.0,683.7 749.8,677.7 743.8,654.6 739.8,654.6 739.8,629.7 1297.8,629.7 1297.8,1125.7Z" fill="#7faae7"/>
<path d="M1297.8,1125.7 948.0,1125.7 955.1,1123.7 953.7,1119.7 943.4,1095.7 932.5,1079.7 918.1,1047.7 900.3,1015.7 881.8,971.7 871.3,953.7 860.0,921.7 849.3,897.7 839.0,877.7 831.2,853.7 822.6,833.7 812.5,815.7 803.3,789.7 784.8,747.7 776.0,721.7 766.4,697.7 762.6,685.7 756.6,683.7 753.4,677.7 749.3,663.7 743.8,640.7 739.8,640.7 739.8,629.7 1297.8,629.7 1297.8,1125.7Z" fill="#7faeec"/>
<path d="M1297.8,1125.7 953.0,1125.7 959.7,1123.7 958.3,1119.7 947.7,1095.7 936.9,1079.7 922.1,1047.7 904.3,1015.7 897.2,999.7 885.8,971.7 875.8,955.0 869.8,939.7 863.8,921.7 849.5,889.7 842.7,877.7 835.0,853.7 826.6,833.7 816.4,815.7 807.1,789.7 788.6,747.7 779.9,721.7 769.1,693.7 766.6,685.7 760.3,683.7 757.1,677.7 752.6,663.7 745.5,633.7 746.4,631.7 746.4,629.7 1297.8,629.7 1297.8,1125.7Z" fill="#7fb2ee"/>
<path d="M1297.8,1125.7 957.9,1125.7 964.1,1123.7 962.7,1119.7 951.8,1095.7 941.2,1079.7 925.8,1047.3 908.2,1015.7 901.0,999.7 889.7,971.7 879.1,953.7 873.5,939.7 868.2,923.7 859.8,903.9 853.4,889.7 846.3,877.7 838.6,853.7 830.4,833.7 820.2,815.7 810.7,789.7 792.4,747.7 789.3,739.7 783.6,721.7 772.9,693.7 770.4,685.7 764.0,683.7 760.8,677.7 756.0,663.7 748.9,633.7 751.7,631.7 751.7,629.7 1297.8,629.7 1297.8,1125.7Z" fill="#7fb4ec"/>
<path d="M1297.8,1125.7 962.8,1125.7 968.4,1123.7 967.0,1119.7 960.9,1107.7 955.7,1095.7 945.3,1079.7 928.7,1045.7 912.1,1015.7 903.1,995.7 893.7,971.7 882.9,953.7 877.0,939.7 871.0,921.7 860.8,897.7 857.1,889.7 849.8,877.7 842.2,853.7 834.1,833.7 823.9,815.7 819.8,805.7 814.2,789.7 792.8,739.7 787.1,721.7 774.0,685.7 767.7,683.7 764.5,677.7 759.4,663.7 752.3,633.7 757.1,631.7 757.1,629.7 1297.8,629.7 1297.8,1125.7Z" fill="#7fb7ea"/>
<path d="M1297.8,1125.7 967.6,1125.7 972.6,1123.7 971.1,1119.7 964.8,1107.7 959.6,1095.7 949.4,1079.7 932.5,1045.7 915.8,1015.3 906.9,995.7 897.5,971.7 887.8,955.7 881.4,941.7 874.4,921.7 860.9,889.7 853.2,877.7 845.6,853.7 837.8,833.7 827.5,815.7 823.2,805.7 817.6,789.7 806.0,761.7 796.2,739.7 790.6,721.7 777.4,685.7 771.5,683.7 766.7,673.7 762.9,663.7 755.7,633.7 762.5,631.7 762.5,629.7 1297.8,629.7 1297.8,1125.7Z" fill="#80b9e5"/>
<path d="M1297.8,1125.7 972.4,1125.7 976.8,1123.7 975.2,1119.7 968.7,1107.7 963.4,1095.7 953.5,1079.7 940.8,1055.7 935.8,1045.0 918.9,1013.7 910.6,995.7 900.5,969.7 891.7,955.7 884.0,939.7 877.9,921.7 864.5,889.7 856.6,877.7 849.0,853.7 841.4,833.7 831.0,815.7 827.4,807.7 820.9,789.7 810.3,763.7 799.5,739.7 793.9,721.7 780.8,685.7 775.3,683.7 772.1,677.7 767.1,665.7 759.2,633.7 767.9,631.7 767.9,629.7 1297.8,629.7 1297.8,1125.7Z" fill="#82bbe1"/>
<path d="M1297.8,1125.7 977.1,1125.7 980.9,1123.7 979.3,1119.7 972.5,1107.7 967.2,1095.7 957.5,1079.7 944.5,1055.7 936.7,1039.7 922.7,1013.7 914.3,995.7 904.3,969.7 895.5,955.7 887.4,939.7 881.3,921.7 868.2,889.7 860.0,877.7 852.4,853.7 844.9,833.7 834.5,815.7 830.7,807.7 824.3,789.7 813.0,761.7 802.8,739.7 797.3,721.7 784.1,685.7 779.1,683.7 770.7,665.7 762.8,633.7 773.5,631.7 773.4,629.7 1297.8,629.7 1297.8,1125.7Z" fill="#83bddc"/>
<path d="M1297.8,1125.7 981.8,1125.7 985.0,1123.7 983.4,1119.7 976.4,1107.7 970.9,1095.7 948.2,1055.7 935.8,1030.6 926.6,1013.7 917.8,995.1 908.2,969.7 899.4,955.7 890.9,939.7 884.7,921.7 871.8,889.7 863.4,877.7 855.7,853.7 848.4,833.7 838.0,815.7 834.1,807.7 827.6,789.7 816.4,761.7 806.1,739.7 793.8,701.7 787.4,685.7 783.0,683.7 773.5,663.7 766.4,633.7 779.1,631.7 779.0,629.7 1297.8,629.7 1297.8,1125.7Z" fill="#85c0d8"/>
<path d="M1297.8,1125.7 986.4,1125.7 989.1,1123.7 987.5,1119.7 980.2,1107.7 974.7,1095.7 962.7,1073.7 951.9,1055.7 938.1,1027.7 930.4,1013.7 921.0,993.7 911.1,967.7 903.3,955.7 894.4,939.7 888.2,921.7 875.5,889.7 866.8,877.7 859.1,853.7 852.0,833.7 837.5,807.7 819.9,761.7 809.4,739.7 797.2,701.7 790.7,685.7 786.9,683.7 777.2,663.7 770.0,633.7 784.7,631.7 784.7,629.7 1297.8,629.7 1297.8,1125.7Z" fill="#86c2d3"/>
<path d="M1297.8,1125.7 991.0,1125.7 993.3,1123.7 991.7,1119.7 984.1,1107.7 978.5,1095.7 966.8,1073.7 955.7,1055.7 942.0,1027.7 933.8,1012.6 924.8,993.7 915.1,967.7 907.2,955.7 897.9,939.7 891.6,921.7 879.1,889.7 870.2,877.7 855.5,833.7 845.1,815.7 840.1,805.7 823.4,761.7 812.8,739.7 800.7,701.7 794.1,685.7 790.9,683.7 780.9,663.7 773.7,633.7 790.4,631.7 790.4,629.7 1297.8,629.7 1297.8,1125.7Z" fill="#88c4cf"/>
<path d="M1297.8,1125.7 995.6,1125.7 997.5,1123.7 995.9,1119.7 988.1,1107.7 982.5,1095.7 970.9,1073.7 958.4,1053.7 946.0,1027.7 938.4,1013.7 929.5,995.7 919.1,967.7 901.5,939.7 882.9,889.7 873.7,877.7 859.1,833.7 844.4,807.7 826.9,761.7 816.2,739.7 804.3,701.7 797.5,685.7 795.0,683.7 784.8,663.7 777.5,633.7 796.2,631.7 796.2,629.7 1297.8,629.7 1297.8,1125.7Z" fill="#89c6ca"/>
<path d="M1297.8,1125.7 1000.2,1125.7 1001.9,1123.7 1000.2,1119.7 992.3,1107.7 975.1,1073.7 963.4,1055.7 950.0,1027.7 935.4,999.7 932.6,993.7 923.1,967.7 905.2,939.7 886.6,889.7 877.3,877.7 862.8,833.7 847.8,807.2 830.6,761.7 819.7,739.7 807.9,701.7 801.0,685.7 799.1,683.7 788.7,663.7 781.3,633.7 802.1,631.7 802.0,629.7 1297.8,629.7 1297.8,1125.7Z" fill="#8bc9c6"/>
<path d="M1297.8,1125.7 1004.8,1125.7 1006.5,1123.7 1004.8,1119.7 996.6,1107.7 979.5,1073.7 966.4,1053.7 954.2,1027.7 937.8,996.2 927.2,967.7 909.0,939.7 890.5,889.7 881.0,877.7 866.6,833.7 850.9,805.7 834.3,761.7 823.4,739.7 811.7,701.7 804.6,685.7 792.7,663.7 785.3,633.7 808.0,631.7 807.9,629.7 1297.8,629.7 1297.8,1125.7Z" fill="#8ccbc1"/>
<path d="M1297.8,1125.7 1009.4,1125.7 1011.3,1123.7 1009.5,1119.7 1001.1,1107.7 984.1,1073.7 970.7,1053.7 958.5,1027.7 941.7,995.7 931.4,967.7 913.0,939.7 894.5,889.7 884.9,877.7 870.5,833.7 854.8,805.7 838.3,761.7 827.3,739.7 815.7,701.7 806.5,681.7 796.8,663.7 789.4,633.7 814.0,631.7 813.9,629.7 1297.8,629.7 1297.8,1125.7Z" fill="#8ecdbc"/>
<path d="M1297.8,1125.7 1014.0,1125.7 1016.4,1123.7 1015.7,1121.7 1006.1,1107.7 988.9,1073.7 975.2,1053.7 963.0,1027.7 946.1,995.7 935.7,967.7 917.2,939.7 898.6,889.7 889.0,877.7 874.5,833.7 858.9,805.7 842.4,761.7 831.4,739.7 819.9,701.7 810.8,681.7 801.0,663.7 793.6,633.7 820.1,631.7 820.0,629.7 1297.8,629.7 1297.8,1125.7Z" fill="#8fd0b8"/>
<path d="M1297.8,1125.7 1018.6,1125.7 1021.9,1123.7 1021.1,1121.7 1011.3,1107.7 993.8,1073.7 979.8,1053.7 967.6,1027.7 957.5,1009.7 950.5,995.7 940.0,967.7 921.4,939.7 902.8,889.7 893.2,877.7 878.6,833.7 863.2,805.7 846.6,761.7 835.7,739.7 824.2,701.7 815.1,681.7 805.3,663.7 797.8,633.7 826.2,631.7 826.1,629.7 1297.8,629.7 1297.8,1125.7Z" fill="#92d0b2"/>
<path d="M1297.8,1125.7 1023.2,1125.7 1027.6,1123.7 1026.8,1121.7 1016.7,1107.7 998.8,1073.7 984.5,1053.7 971.1,1025.7 961.9,1009.7 954.9,995.7 944.2,967.7 925.7,939.7 906.9,889.7 897.5,877.7 882.6,833.7 868.3,807.7 850.8,761.7 839.9,739.7 828.4,701.7 819.2,681.7 809.5,663.7 801.9,633.7 832.4,631.7 832.3,629.7 1297.8,629.7 1297.8,1125.7Z" fill="#95cfac"/>
<path d="M1297.8,1125.7 1027.8,1125.7 1033.6,1123.7 1032.7,1121.7 1022.4,1107.7 1013.1,1091.7 1003.9,1073.7 989.2,1053.7 975.7,1025.7 966.3,1009.7 959.2,995.7 948.4,967.7 930.0,939.7 911.0,889.7 901.7,877.7 886.6,833.7 872.6,807.7 854.9,761.7 844.2,739.7 832.6,701.7 823.4,681.7 813.7,663.7 806.0,633.7 838.7,631.7 838.6,629.7 1297.8,629.7 1297.8,1125.7Z" fill="#98cea6"/>
<path d="M1297.8,1125.7 1032.5,1125.7 1039.8,1123.7 1037.5,1119.7 1028.2,1107.7 1018.3,1091.7 1009.0,1073.7 993.9,1053.7 980.3,1025.7 970.6,1009.7 963.6,995.7 952.5,967.7 934.3,939.7 915.0,889.7 905.9,877.7 890.5,833.7 876.8,807.7 859.0,761.7 848.4,739.7 836.7,701.7 827.4,681.7 817.9,663.7 810.1,633.7 845.1,631.7 845.0,629.7 1297.8,629.7 1297.8,1125.7Z" fill="#9bcda0"/>
<path d="M1297.8,1125.7 1037.2,1125.7 1046.2,1123.7 1043.8,1119.7 1034.2,1107.7 1023.6,1091.7 1014.2,1073.7 998.7,1053.7 985.0,1025.7 975.0,1009.7 970.0,999.7 956.6,967.7 938.6,939.7 929.6,917.7 919.0,889.7 910.2,877.7 894.4,833.7 881.1,807.7 863.1,761.7 852.6,739.7 840.8,701.7 831.5,681.7 822.1,663.7 814.2,633.7 851.6,631.7 851.4,629.7 1297.8,629.7 1297.8,1125.7Z" fill="#9dcc9e"/>
<path d="M1297.8,1125.7 1041.9,1125.7 1052.8,1123.7 1050.1,1119.7 1040.3,1107.7 1033.9,1097.7 1029.1,1091.7 1018.1,1071.7 1003.6,1053.7 989.6,1025.7 978.3,1007.7 972.4,995.7 960.7,967.7 953.8,957.7 942.9,939.7 933.7,917.7 923.1,889.7 914.6,877.7 898.4,833.7 885.5,807.7 868.0,763.7 856.9,739.7 844.9,701.7 835.6,681.7 826.4,663.7 818.4,633.7 858.1,631.7 858.0,629.7 1297.8,629.7 1297.8,1125.7Z" fill="#9fcb9c"/>
<path d="M1297.8,1125.7 1046.7,1125.7 1059.5,1123.7 1046.6,1107.7 1039.8,1097.7 1034.6,1091.7 1024.8,1073.7 1022.0,1069.7 1008.6,1053.7 994.4,1025.7 991.0,1019.7 982.7,1007.7 976.9,995.7 964.9,967.7 958.0,957.7 947.4,939.7 932.2,903.7 927.1,889.7 919.0,877.7 909.5,851.7 902.3,833.7 889.9,807.7 878.9,779.7 861.3,739.7 849.1,701.7 830.7,663.7 822.5,633.7 864.8,631.7 864.6,629.7 1297.8,629.7 1297.8,1125.7Z" fill="#a1ca9a"/>
<path d="M1297.8,1125.7 1051.5,1125.7 1066.2,1123.7 1053.1,1107.7 1045.9,1097.7 1040.2,1091.7 1028.9,1071.7 1013.6,1053.7 997.0,1021.7 987.2,1007.7 969.0,967.7 962.1,957.7 951.9,939.7 948.8,931.7 943.0,919.7 936.4,903.7 931.2,889.7 923.4,877.7 913.8,851.7 906.3,833.7 894.3,807.7 883.3,779.7 865.7,739.7 853.3,701.7 835.1,663.7 826.8,633.7 871.5,631.7 871.3,629.7 1297.8,629.7 1297.8,1125.7Z" fill="#a3c998"/>
<path d="M1297.8,1125.7 1056.4,1125.7 1073.0,1123.7 1059.5,1107.7 1052.1,1097.7 1045.9,1091.7 1035.8,1073.7 1033.0,1069.7 1018.8,1053.7 1001.9,1021.7 991.8,1007.7 974.4,969.7 966.4,957.7 956.5,939.7 953.4,931.7 947.3,919.7 940.6,903.7 935.4,889.7 928.0,877.7 918.2,851.7 910.4,833.7 908.2,829.7 888.7,781.7 876.8,755.7 870.2,739.7 857.6,701.7 839.6,663.7 831.2,633.7 878.3,631.7 878.1,629.7 1297.8,629.7 1297.8,1125.7Z" fill="#a6c896"/>
<path d="M1297.8,1125.7 1061.4,1125.7 1079.7,1123.7 1066.0,1107.7 1058.3,1097.7 1051.7,1091.7 1038.7,1069.7 1024.0,1053.7 1006.9,1021.7 996.5,1007.7 982.0,975.7 977.7,967.7 970.7,957.7 962.2,941.7 958.1,931.7 949.8,915.1 944.1,901.7 939.7,889.7 932.7,877.7 922.7,851.7 912.4,829.7 893.3,781.7 881.2,755.7 874.8,739.7 862.0,701.7 844.2,663.7 835.6,633.7 885.2,631.7 885.0,629.7 1297.8,629.7 1297.8,1125.7Z" fill="#a9c792"/>
<path d="M1297.8,1125.7 1066.5,1125.7 1086.2,1123.7 1064.6,1097.7 1057.5,1091.7 1044.4,1069.7 1029.4,1053.7 1010.8,1019.7 1001.4,1007.7 986.7,975.7 982.2,967.7 974.1,955.7 966.1,939.7 963.0,931.7 955.8,918.4 948.5,901.7 944.1,889.7 937.5,877.7 927.3,851.7 916.7,829.7 906.4,801.7 898.1,781.7 885.8,755.7 879.6,739.7 868.2,705.7 849.0,663.7 840.3,633.7 892.2,631.7 892.0,629.7 1297.8,629.7 1297.8,1125.7Z" fill="#aec68e"/>
<path d="M1297.8,1125.7 1071.6,1125.7 1092.5,1123.7 1070.8,1097.7 1063.5,1091.7 1050.3,1069.7 1035.0,1053.7 1016.2,1019.7 1006.4,1007.7 997.6,987.7 991.6,975.7 978.7,955.7 971.1,939.7 968.0,931.7 960.3,917.7 953.1,901.7 948.7,889.7 942.5,877.7 932.2,851.7 921.2,829.7 910.7,799.7 902.2,779.7 890.5,755.7 873.0,705.7 860.8,679.7 854.1,663.7 845.2,633.7 899.3,631.7 899.1,629.7 1297.8,629.7 1297.8,1125.7Z" fill="#b3c489"/>
<path d="M1297.8,1125.7 1076.9,1125.7 1098.6,1123.7 1077.1,1097.7 1069.4,1091.7 1056.2,1069.7 1040.7,1053.7 1021.7,1019.7 1011.6,1007.7 1003.8,989.7 996.7,975.7 983.6,955.7 973.3,931.7 966.2,919.7 958.8,903.7 953.5,889.7 947.7,877.7 937.2,851.7 925.9,829.7 916.9,801.7 907.4,779.7 895.6,755.7 879.0,707.7 865.8,679.7 860.2,665.7 850.4,633.7 906.5,631.7 906.3,629.7 1297.8,629.7 1297.8,1125.7Z" fill="#b9c285"/>
<path d="M1297.8,1125.7 1082.3,1125.7 1104.5,1123.7 1083.3,1097.7 1075.5,1091.7 1062.3,1069.7 1046.7,1053.7 1027.5,1019.7 1017.2,1007.7 1009.4,989.7 1002.1,975.7 988.9,955.7 978.9,931.7 971.6,919.7 963.9,903.7 958.6,889.7 942.6,851.7 930.9,829.7 922.5,801.7 913.0,779.7 901.0,755.7 884.6,707.7 870.5,677.7 865.3,663.7 856.1,633.7 913.8,631.7 913.6,629.7 1297.8,629.7 1297.8,1125.7Z" fill="#c0c080"/>
<path d="M1297.8,1125.7 1087.9,1125.7 1110.1,1123.7 1089.4,1097.7 1081.6,1091.7 1068.5,1069.7 1052.9,1053.7 1033.7,1019.7 1023.2,1007.7 1015.5,989.7 1008.0,975.7 995.6,957.7 984.9,931.7 977.3,919.7 969.5,903.7 948.3,851.7 936.4,829.7 928.6,801.7 919.1,779.7 906.9,755.7 902.0,739.7 890.7,707.7 876.7,677.7 862.4,633.7 921.3,631.7 921.0,629.7 1297.8,629.7 1297.8,1125.7Z" fill="#c6be7c"/>
<path d="M1297.8,1125.7 1093.6,1125.7 1115.4,1123.7 1095.3,1097.7 1087.7,1091.7 1074.8,1069.7 1059.5,1053.7 1040.4,1019.7 1029.8,1007.7 1022.1,989.7 1014.5,975.7 1001.8,957.5 992.5,933.7 983.7,919.7 974.9,901.7 965.6,877.7 954.7,851.7 942.6,829.7 936.0,803.7 926.8,781.7 913.8,755.7 909.2,739.7 897.9,707.7 883.9,677.7 870.0,633.7 928.8,631.7 928.5,629.7 1297.8,629.7 1297.8,1125.7Z" fill="#cdbc78"/>
<path d="M1297.8,1125.7 1099.6,1125.7 1120.4,1123.7 1101.8,1098.5 1093.8,1091.7 1081.2,1069.7 1066.5,1053.7 1047.7,1019.7 1037.4,1007.7 1028.6,987.7 1021.9,975.7 1008.4,955.7 999.9,933.7 991.1,919.7 982.1,901.7 961.9,851.7 950.0,829.7 943.6,803.7 934.7,781.7 922.2,755.7 917.9,739.7 906.9,707.7 893.8,678.7 880.0,633.7 936.4,631.7 936.2,629.7 1297.8,629.7 1297.8,1125.7Z" fill="#d3ba74"/>
<path d="M1297.8,1125.7 1105.8,1125.7 1124.6,1123.7 1107.8,1099.3 1099.8,1091.7 1087.6,1069.7 1073.7,1053.7 1055.5,1019.7 1045.7,1007.7 1036.9,987.7 1030.1,975.7 1017.8,957.7 1008.1,933.7 999.3,919.7 990.1,901.7 970.0,851.7 958.4,829.7 952.1,803.7 942.9,779.7 932.0,755.7 928.1,739.7 917.7,707.7 905.7,679.7 892.5,633.7 941.8,631.9 944.2,631.7 943.9,629.7 1297.8,629.7 1297.8,1125.7Z" fill="#dab66f"/>
<path d="M1297.8,1125.7 1112.3,1125.7 1128.5,1123.7 1113.2,1099.7 1105.6,1091.7 1094.0,1069.7 1081.4,1053.7 1064.0,1019.7 1055.0,1007.7 1046.1,987.7 1039.3,975.7 1027.3,957.7 1017.2,933.7 1008.5,919.7 999.1,901.7 978.8,851.7 967.9,829.7 961.6,803.7 953.2,779.7 943.4,755.7 939.9,739.7 930.5,707.7 919.8,679.7 907.8,633.7 947.8,632.1 952.0,631.7 951.8,629.7 1297.8,629.7 1297.8,1125.7Z" fill="#e0b36b"/>
<path d="M1297.8,1125.7 1119.2,1125.7 1132.2,1123.7 1117.8,1099.0 1111.6,1091.7 1100.6,1069.7 1089.4,1053.7 1073.2,1019.7 1065.2,1007.7 1062.1,999.7 1056.2,987.7 1049.4,975.7 1037.8,957.7 1027.1,933.7 1018.5,919.7 1009.0,901.7 998.4,877.7 988.6,851.7 978.5,829.7 972.0,803.7 964.7,779.7 956.6,755.7 953.6,739.7 945.7,707.7 936.9,679.7 933.8,663.7 926.8,633.7 945.8,633.0 957.8,632.0 960.0,631.7 959.7,629.7 1297.8,629.7 1297.8,1125.7Z" fill="#e6b165"/>
<path d="M1297.8,1125.7 1126.7,1125.7 1131.8,1125.0 1136.0,1123.7 1123.5,1099.7 1117.8,1091.7 1107.5,1069.7 1097.9,1053.7 1082.9,1019.7 1077.2,1009.7 1073.2,999.7 1068.1,989.7 1060.3,975.7 1049.3,957.7 1037.7,933.7 1029.4,919.7 1019.8,901.7 1008.4,877.7 999.1,851.7 990.2,829.7 981.8,799.7 971.1,755.7 968.6,739.7 962.3,707.7 955.9,679.7 947.9,633.7 959.8,633.0 967.8,631.8 967.8,629.7 1297.8,629.7 1297.8,1125.7Z" fill="#eab05e"/>
<path d="M1297.8,1125.7 1134.8,1125.7 1140.2,1123.7 1138.8,1119.7 1128.1,1097.7 1124.5,1091.7 1115.0,1069.7 1106.9,1053.7 1084.5,999.7 1061.1,957.7 1048.7,933.7 1031.1,901.7 1018.8,877.7 1002.2,829.7 993.3,799.7 985.5,755.7 967.0,633.7 976.3,631.7 976.1,629.7 1297.8,629.7 1297.8,1125.7Z" fill="#efae58"/>
<path d="M1297.8,1125.7 1144.0,1125.7 1145.2,1123.7 1144.2,1119.7 1116.8,1053.7 1095.6,999.7 1029.6,877.7 1014.0,829.7 1004.6,799.7 982.6,633.7 984.7,631.7 984.4,629.7 1297.8,629.7 1297.8,1125.7Z" fill="#f1ac54"/>
<path d="M1297.8,1125.7 1154.7,1125.7 1153.8,1124.4 1152.6,1119.7 1138.5,1081.7 1106.2,999.7 1040.6,877.7 1015.5,799.7 1009.2,743.7 995.8,635.7 995.6,633.7 993.3,631.7 993.0,629.7 1297.8,629.7 1297.8,1125.7Z" fill="#f3aa4f"/>
<path d="M1297.8,1125.7 1167.0,1125.7 1164.1,1123.7 1163.0,1117.7 1150.7,1079.7 1140.6,1053.7 1118.4,1001.7 1094.4,953.7 1074.3,915.7 1067.6,901.7 1054.3,877.7 1041.1,835.7 1028.7,801.7 1028.1,799.7 1027.1,789.7 1023.5,743.7 1012.3,661.7 1008.1,633.7 1002.9,631.7 1002.6,629.7 1297.8,629.7 1297.8,1125.7Z" fill="#f5a84d"/>
<path d="M1297.8,1125.7 1180.9,1125.7 1177.7,1123.7 1177.2,1117.7 1171.4,1097.7 1170.2,1091.7 1166.4,1079.7 1162.6,1071.7 1159.6,1063.7 1145.7,1033.7 1114.1,969.7 1107.1,953.7 1087.6,915.7 1081.5,901.7 1068.5,877.7 1061.5,857.7 1055.3,837.7 1040.5,799.7 1035.4,743.7 1023.3,663.7 1018.4,633.7 1013.2,631.7 1012.9,629.7 1297.8,629.7 1297.8,1125.7Z" fill="#f8a34d"/>
<path d="M1297.8,1125.7 1196.7,1125.7 1194.9,1123.7 1194.4,1117.7 1182.9,1079.7 1158.5,1033.7 1139.3,999.7 1124.8,969.7 1117.6,953.7 1098.6,915.7 1092.3,901.7 1079.9,877.7 1065.6,837.7 1050.7,799.7 1043.9,743.7 1026.5,633.7 1023.3,631.7 1023.1,629.7 1297.8,629.7 1297.8,1125.7Z" fill="#fa9e4d"/>
<path d="M1297.8,1125.7 1213.8,1125.7 1211.5,1117.7 1197.6,1079.7 1148.4,999.7 1088.6,877.7 1059.5,801.7 1058.8,799.7 1032.2,629.7 1297.8,629.7 1297.8,1125.7Z" fill="#fa984d"/>
<path d="M1297.8,1125.7 1231.6,1125.7 1227.0,1117.7 1222.6,1105.7 1210.3,1079.7 1204.9,1071.7 1198.7,1063.7 1186.9,1045.7 1178.2,1033.7 1155.9,999.7 1140.6,969.7 1131.8,953.7 1113.8,916.9 1105.7,901.7 1094.4,877.7 1078.2,837.7 1064.4,799.7 1053.1,739.7 1040.9,659.7 1037.5,633.7 1040.4,631.7 1040.1,629.7 1297.8,629.7 1297.8,1125.7Z" fill="#fa924d"/>
<path d="M1297.8,1125.7 1250.6,1125.7 1245.2,1119.7 1242.7,1117.7 1241.6,1115.7 1242.1,1111.7 1240.5,1107.7 1234.6,1097.7 1229.4,1091.7 1222.4,1079.7 1216.5,1071.7 1208.2,1063.7 1195.9,1045.7 1185.6,1033.7 1176.6,1019.7 1160.8,997.7 1146.0,969.7 1135.9,953.7 1117.5,915.7 1109.1,901.7 1098.5,877.7 1090.5,857.7 1081.4,837.7 1068.4,799.7 1056.2,745.7 1049.5,703.7 1043.4,659.7 1040.3,633.7 1043.8,632.3 1047.4,631.7 1047.1,629.7 1297.8,629.7 1297.8,1125.7Z" fill="#fa8b4d"/>
<path d="M1297.8,1125.7 1271.6,1125.7 1262.8,1119.7 1258.8,1117.7 1257.5,1115.7 1259.0,1111.7 1258.2,1109.7 1252.6,1101.7 1249.4,1097.7 1242.4,1091.7 1227.4,1071.7 1217.2,1063.7 1204.4,1045.7 1192.5,1033.7 1183.4,1019.7 1166.4,997.7 1151.0,969.7 1139.7,953.7 1121.3,915.7 1112.2,901.7 1094.0,857.7 1084.3,837.7 1072.0,799.7 1057.7,743.7 1051.3,703.7 1045.8,661.7 1042.9,633.7 1045.8,632.8 1053.8,631.7 1053.6,629.7 1297.8,629.7 1297.8,1125.7Z" fill="#fa844d"/>
<path d="M1297.8,1125.6 1295.8,1125.6 1291.8,1124.4 1281.4,1119.7 1275.4,1117.7 1273.7,1115.7 1274.4,1113.7 1274.2,1111.7 1266.1,1101.7 1262.4,1097.7 1254.3,1091.7 1237.8,1071.7 1226.1,1063.7 1212.8,1045.7 1199.5,1033.7 1190.4,1019.7 1172.2,997.7 1156.1,969.7 1143.6,953.7 1125.3,915.7 1115.5,901.7 1097.5,857.7 1086.5,835.7 1060.0,745.7 1053.3,703.7 1048.0,661.7 1045.6,633.7 1060.0,631.7 1059.7,629.7 1297.8,629.7 1297.8,1125.6Z" fill="#fc7e4d"/>
<path d="M1297.8,1118.5 1292.4,1117.7 1285.3,1109.7 1273.4,1097.7 1264.9,1091.7 1247.6,1071.7 1235.1,1063.7 1221.5,1045.7 1207.1,1033.7 1197.9,1019.7 1178.6,997.7 1161.9,969.7 1148.3,953.7 1129.8,915.7 1119.3,901.7 1101.6,857.7 1090.1,835.7 1077.1,789.7 1062.7,745.7 1055.8,703.7 1051.8,669.5 1049.1,633.7 1065.9,631.7 1065.6,629.7 1297.8,629.7 1297.8,1118.5Z" fill="#fe784d"/>
<path d="M1297.8,1110.6 1295.8,1110.6 1293.8,1109.1 1282.1,1097.7 1274.0,1091.7 1256.9,1071.7 1244.4,1063.7 1230.6,1045.7 1215.7,1033.7 1206.1,1019.7 1186.3,997.7 1168.9,969.7 1154.6,953.7 1135.6,915.7 1124.6,901.7 1106.7,857.7 1095.7,837.7 1082.3,789.7 1067.3,745.7 1060.7,703.7 1056.2,661.7 1054.6,633.7 1071.8,631.7 1071.5,629.7 1297.8,629.7 1297.8,1110.6Z" fill="#ff724d"/>
<path d="M1297.8,1104.1 1295.8,1104.1 1281.9,1091.7 1265.6,1071.7 1253.6,1063.7 1239.7,1045.7 1224.3,1033.7 1214.3,1019.7 1194.1,997.7 1176.0,969.7 1161.4,953.7 1141.5,915.7 1130.2,901.7 1111.9,857.7 1100.9,837.7 1087.7,789.7 1072.8,745.7 1066.3,703.7 1062.2,661.7 1060.9,633.7 1077.6,631.7 1077.3,629.7 1297.8,629.7 1297.8,1104.1Z" fill="#ff6b4d"/>
<path d="M1297.8,1097.6 1295.8,1097.6 1287.3,1089.7 1273.8,1071.7 1262.8,1063.7 1247.8,1044.6 1233.1,1033.7 1222.6,1019.7 1202.1,997.7 1183.3,969.7 1168.5,953.7 1147.6,915.7 1136.1,901.7 1125.3,877.7 1117.1,857.7 1106.5,837.7 1093.4,789.7 1078.9,745.7 1072.8,703.7 1069.1,661.7 1068.1,633.7 1083.6,631.7 1083.3,629.7 1297.8,629.7 1297.8,1097.6Z" fill="#ff654d"/>
<path d="M1297.8,1091.0 1295.8,1091.0 1294.3,1089.7 1281.7,1071.7 1272.0,1063.7 1256.4,1043.7 1242.2,1033.7 1231.0,1019.7 1210.5,997.7 1190.9,969.7 1176.2,953.7 1153.9,915.7 1142.3,901.7 1131.5,879.7 1122.6,857.7 1111.7,835.7 1097.2,781.7 1085.9,745.7 1080.3,703.7 1077.1,661.7 1076.3,633.7 1089.7,631.7 1089.5,629.7 1297.8,629.7 1297.8,1091.0Z" fill="#ff5f4d"/>
<path d="M1297.8,1080.9 1295.8,1080.9 1289.3,1071.7 1281.2,1063.7 1271.3,1051.7 1266.1,1043.7 1251.8,1033.7 1239.9,1019.7 1219.4,997.7 1199.1,969.7 1184.6,953.7 1160.8,915.7 1149.2,901.7 1136.2,877.7 1128.5,857.7 1118.2,835.7 1108.0,799.7 1102.5,775.7 1094.2,745.7 1089.3,703.7 1086.6,661.7 1085.8,633.7 1096.3,631.7 1096.0,629.7 1297.8,629.7 1297.8,1080.9Z" fill="#ff594d"/>
<path d="M1297.8,1070.0 1295.8,1070.0 1290.3,1063.7 1278.8,1049.7 1275.9,1043.7 1262.1,1033.7 1229.3,997.7 1208.1,969.7 1194.2,953.7 1168.4,915.7 1157.0,901.7 1142.5,877.7 1135.0,857.7 1126.2,837.7 1115.4,801.7 1109.4,769.7 1104.3,745.7 1100.3,703.7 1096.8,633.7 1103.3,631.7 1103.1,629.7 1297.8,629.7 1297.8,1070.0Z" fill="#ff534d"/>
<path d="M1297.8,1059.1 1295.8,1059.1 1289.5,1051.7 1287.9,1049.7 1285.8,1043.7 1278.3,1037.7 1271.8,1031.7 1240.8,997.7 1219.0,969.7 1205.7,953.7 1177.8,915.7 1166.5,901.7 1150.1,877.7 1135.3,837.7 1123.2,799.7 1116.7,745.7 1113.6,703.7 1109.3,633.7 1111.5,631.7 1111.2,629.7 1297.8,629.7 1297.8,1059.1Z" fill="#ff4d4d"/>
<path d="M1297.8,1043.1 1295.8,1043.1 1294.4,1041.7 1286.4,1031.7 1257.7,999.7 1163.0,877.7 1135.7,799.7 1123.3,641.7 1121.6,629.7 1297.8,629.7 1297.8,1043.1Z" fill="#ff4d4e"/>
<path d="M1297.8,1015.0 1295.8,1015.0 1293.8,1013.6 1278.5,999.7 1259.6,975.7 1239.2,947.7 1205.0,903.7 1183.4,877.7 1152.6,799.7 1136.4,639.7 1135.5,633.7 1133.8,631.7 1133.5,629.7 1297.8,629.7 1297.8,1015.0Z" fill="#ff4d4f"/>
<path d="M1297.8,970.0 1291.8,969.3 1287.8,967.4 1283.8,964.4 1277.8,958.7 1261.8,940.5 1228.2,899.7 1207.7,877.7 1197.4,857.7 1175.8,810.3 1171.2,799.7 1157.7,705.7 1149.9,639.7 1148.9,633.7 1145.9,631.7 1145.6,629.7 1297.8,629.7 1297.8,970.0Z" fill="#ff4d51"/>
<path d="M1297.8,910.0 1291.8,909.7 1287.8,908.9 1277.8,904.4 1257.8,891.3 1240.8,877.7 1231.0,865.7 1221.8,852.2 1205.8,824.9 1193.2,801.7 1191.8,797.8 1187.6,779.7 1173.7,709.7 1163.8,639.7 1162.6,633.7 1158.3,631.7 1158.1,629.7 1297.8,629.7 1297.8,910.0Z" fill="#ff4d52"/>
<path d="M1297.8,862.5 1287.8,861.9 1277.8,859.2 1267.8,854.4 1259.8,848.9 1249.8,840.1 1237.8,827.1 1227.8,814.3 1217.8,799.7 1212.9,787.7 1207.5,771.7 1191.2,713.7 1189.2,705.7 1178.7,641.7 1176.9,633.7 1171.2,631.7 1171.0,629.7 1297.8,629.7 1297.8,862.5Z" fill="#fb4d55"/>
<path d="M1297.8,817.5 1289.8,817.1 1281.8,815.4 1273.8,812.3 1263.8,806.5 1255.8,800.4 1249.8,794.3 1243.8,786.9 1237.8,777.8 1229.8,762.8 1218.7,737.7 1213.1,723.7 1207.6,707.7 1193.6,639.7 1192.0,633.7 1184.8,631.7 1184.7,629.7 1297.8,629.7 1297.8,817.5Z" fill="#f74d58"/>
<path d="M1297.8,772.5 1289.8,772.1 1283.8,770.7 1276.6,767.7 1270.0,763.7 1259.8,754.8 1249.8,743.4 1243.8,735.5 1235.8,722.6 1227.3,705.7 1208.1,633.7 1199.5,631.7 1199.3,629.7 1297.8,629.7 1297.8,772.5Z" fill="#f24d5b"/>
<path d="M1297.8,730.6 1291.8,730.4 1285.8,729.3 1275.8,725.1 1265.8,718.0 1255.8,707.8 1254.1,705.7 1250.0,697.7 1243.8,683.9 1226.0,633.7 1215.8,631.7 1215.6,629.7 1297.8,629.7 1297.8,730.6Z" fill="#ee4d5e"/>
<path d="M1297.8,691.8 1291.8,691.0 1285.8,688.7 1280.9,685.7 1275.8,681.4 1269.8,674.7 1263.8,666.1 1255.8,652.1 1246.8,633.7 1235.0,631.7 1234.9,629.7 1297.8,629.7 1297.8,691.8Z" fill="#ea4d61"/>
<path d="M1297.8,653.1 1295.8,653.1 1293.8,652.1 1287.8,647.9 1281.8,642.4 1274.1,633.7 1261.5,631.7 1261.5,629.7 1297.8,629.7 1297.8,653.1Z" fill="#e54d64"/>
<mask id="mkd5" maskUnits="userSpaceOnUse" x="733.8" y="623.7" width="571.8" height="509.2"><rect x="733.8" y="623.7" width="571.8" height="509.2" fill="#fff"/>
<rect x="859.7" y="958.5" width="20.0" height="26" fill="#000"/>
</mask>
<path mask="url(#mkd5)" fill="none" stroke="#202020" stroke-opacity="0.7" stroke-width="1.0" stroke-linejoin="round" d="M743.0,678.0 744.9,680.1 755.3,705.5 762.8,722.4 772.2,748.7 781.6,769.4 791.0,790.1 800.4,816.4 809.8,833.3 819.2,854.0 827.3,878.0 837.6,898.7 848.9,923.1 860.2,955.1 869.6,971.1 875.2,983.3 888.4,1015.3 905.3,1047.2 918.5,1079.2 929.7,1096.1 939.2,1120.6 940.5,1125.0"/>
<mask id="mkd10" maskUnits="userSpaceOnUse" x="733.8" y="623.7" width="571.8" height="509.2"><rect x="733.8" y="623.7" width="571.8" height="509.2" fill="#fff"/>
<rect x="927.8" y="981.2" width="34.0" height="26" fill="#000"/>
</mask>
<path mask="url(#mkd10)" fill="none" stroke="#202020" stroke-opacity="0.7" stroke-width="1.0" stroke-linejoin="round" d="M792.6,632.0 792.9,634.0 800.4,664.1 809.8,681.0 819.2,701.7 830.5,739.3 841.8,761.9 858.7,807.0 873.7,833.3 888.4,878.0 897.8,889.3 916.6,940.1 935.4,968.3 939.2,979.5 944.8,994.6 952.3,1009.6 961.7,1026.6 974.9,1054.8 988.0,1073.6 1005.0,1107.4 1014.4,1120.6 1016.0,1125.0"/>
<mask id="mkd15" maskUnits="userSpaceOnUse" x="733.8" y="623.7" width="571.8" height="509.2"><rect x="733.8" y="623.7" width="571.8" height="509.2" fill="#fff"/>
<rect x="969.6" y="906.5" width="34.0" height="26" fill="#000"/>
</mask>
<path mask="url(#mkd15)" fill="none" stroke="#202020" stroke-opacity="0.7" stroke-width="1.0" stroke-linejoin="round" d="M874.4,632.0 874.7,634.0 881.3,654.7 888.8,679.1 902.0,707.3 913.2,739.3 917.9,756.2 930.2,780.7 939.6,803.2 946.1,829.6 958.4,852.1 969.2,878.0 978.6,902.4 987.1,919.4 995.6,932.5 1005.0,957.0 1018.1,975.8 1025.4,988.9 1033.9,1008.7 1044.2,1020.0 1063.0,1053.8 1078.1,1069.8 1091.2,1092.4 1098.7,1098.0 1115.7,1120.6 1119.0,1125.0"/>
<mask id="mkd20" maskUnits="userSpaceOnUse" x="733.8" y="623.7" width="571.8" height="509.2"><rect x="733.8" y="623.7" width="571.8" height="509.2" fill="#fff"/>
<rect x="1059.9" y="778.2" width="34.0" height="26" fill="#000"/>
</mask>
<path mask="url(#mkd20)" fill="none" stroke="#202020" stroke-opacity="0.7" stroke-width="1.0" stroke-linejoin="round" d="M1049.7,632.0 1049.8,634.0 1051.7,662.2 1056.4,703.6 1063.0,745.0 1072.4,773.2 1078.0,790.1 1081.8,803.2 1091.2,837.1 1102.5,857.8 1111.0,878.0 1120.4,902.4 1130.7,915.6 1149.5,954.2 1162.7,969.2 1179.6,997.4 1200.3,1020.9 1207.8,1033.1 1222.8,1045.4 1237.0,1064.2 1249.2,1071.7 1266.1,1091.4 1275.5,1098.0 1293.4,1115.9 1300.0,1122.0"/>
<text x="869.7" y="980.3" font-size="24.5" text-anchor="middle">5</text>
<text x="944.8" y="1003.0" font-size="24.5" text-anchor="middle">10</text>
<text x="986.6" y="928.3" font-size="24.5" text-anchor="middle">15</text>
<text x="1076.9" y="800.0" font-size="24.5" text-anchor="middle">20</text>
</g>
<path d="M854.2,1122.9v-7.5M854.2,633.7v7.5M964.5,1122.9v-7.5M964.5,633.7v7.5M1074.9,1122.9v-7.5M1074.9,633.7v7.5M1185.2,1122.9v-7.5M1185.2,633.7v7.5M743.8,756.0h7.5M1295.6,756.0h-7.5M743.8,878.3h7.5M1295.6,878.3h-7.5M743.8,1000.6h7.5M1295.6,1000.6h-7.5" stroke="#000" stroke-width="2.8" fill="none"/>
<rect x="743.8" y="633.7" width="551.8" height="489.2" fill="none" stroke="#000" stroke-width="3" stroke-linejoin="round"/>
<clipPath id="cpe"><rect x="160.3" y="1159.8" width="551.3" height="488.5"/></clipPath>
<g clip-path="url(#cpe)">
<rect x="157.3" y="1156.8" width="557.3" height="494.5" fill="#7f84b4"/>
<path d="M714.3,1651.0 400.3,1650.8 397.3,1645.8 397.3,1643.8 393.3,1635.8 393.3,1633.8 391.3,1630.8 391.3,1628.8 389.3,1625.8 389.3,1623.8 386.3,1618.8 386.3,1616.8 382.3,1608.8 382.3,1606.8 380.3,1603.8 380.3,1601.8 377.3,1596.8 377.3,1594.8 375.3,1591.8 375.3,1589.8 373.3,1586.8 373.3,1584.8 371.3,1581.8 371.3,1579.8 369.3,1576.8 369.3,1574.8 366.3,1569.8 366.3,1567.8 362.3,1559.8 362.3,1557.8 360.3,1554.8 360.3,1552.8 357.3,1547.8 357.3,1545.8 353.3,1537.8 353.3,1535.8 349.3,1527.8 349.3,1525.8 346.3,1520.8 346.3,1518.8 344.3,1515.8 344.3,1513.8 342.3,1510.8 342.3,1508.8 340.3,1505.8 340.3,1503.8 337.3,1498.8 337.3,1496.8 333.3,1488.8 333.3,1486.8 331.3,1483.8 331.3,1481.8 329.3,1478.8 329.3,1476.8 326.3,1471.8 326.3,1469.8 324.3,1466.8 324.3,1464.8 322.3,1461.8 322.3,1459.8 320.3,1456.8 320.3,1454.8 317.3,1449.8 317.3,1447.8 313.3,1439.8 313.3,1437.8 309.3,1429.8 309.3,1427.8 306.3,1422.8 306.3,1420.8 302.3,1412.8 302.3,1410.8 300.3,1407.8 300.3,1405.8 297.3,1400.8 297.3,1398.8 295.3,1395.8 295.3,1393.8 293.3,1390.8 293.3,1388.8 291.3,1385.8 291.3,1383.8 289.3,1380.8 289.3,1378.8 286.3,1373.8 286.3,1371.8 282.3,1363.8 282.3,1361.8 280.3,1358.8 280.3,1356.8 277.3,1351.8 277.3,1349.8 275.3,1346.8 275.3,1344.8 273.3,1341.8 273.3,1339.8 271.3,1336.8 271.3,1334.8 269.3,1331.8 269.3,1329.8 266.3,1324.8 266.3,1322.8 264.3,1319.8 264.3,1317.8 262.3,1314.8 262.3,1312.8 260.3,1309.8 260.3,1307.8 257.3,1302.8 257.3,1300.8 255.3,1297.8 255.3,1295.8 251.3,1287.8 251.3,1285.8 249.3,1282.8 249.3,1280.8 246.3,1275.8 246.3,1273.8 242.3,1265.8 242.3,1263.8 240.3,1260.8 240.3,1258.8 237.3,1253.8 237.3,1251.8 235.3,1248.8 235.3,1246.8 231.3,1238.8 231.3,1236.8 229.3,1233.8 229.3,1231.8 226.3,1226.8 226.3,1224.8 224.3,1221.8 224.3,1219.8 222.3,1216.8 222.3,1214.8 220.3,1211.8 220.3,1209.8 217.3,1204.8 217.3,1202.8 215.3,1199.8 215.3,1197.8 213.3,1194.8 213.3,1192.8 211.3,1189.8 211.3,1187.8 206.3,1177.8 206.3,1175.8 204.3,1172.8 204.3,1170.8 202.3,1167.8 202.3,1165.8 200.3,1162.8 200.3,1160.8 198.3,1156.8 714.3,1156.5 714.3,1651.0Z" fill="#7f84b5"/>
<path d="M714.3,1651.0 414.0,1650.8 210.3,1156.8 714.3,1156.5 714.3,1651.0Z" fill="#7f85b8"/>
<path d="M714.3,1651.0 427.7,1650.8 221.9,1156.8 714.6,1156.8 714.3,1651.0Z" fill="#7e87bb"/>
<path d="M714.3,1651.0 441.4,1650.8 233.4,1156.8 714.6,1156.8 714.3,1651.0Z" fill="#7e89be"/>
<path d="M714.3,1651.0 455.1,1650.8 245.0,1156.8 714.6,1156.8 714.3,1651.0Z" fill="#7d8bc1"/>
<path d="M714.3,1651.0 468.7,1650.8 256.6,1156.8 714.6,1156.8 714.3,1651.0Z" fill="#7d8dc4"/>
<path d="M714.3,1651.0 482.4,1650.8 268.2,1156.8 714.6,1156.8 714.3,1651.0Z" fill="#7c8fc7"/>
<path d="M714.3,1651.0 496.1,1650.8 279.8,1156.8 714.6,1156.8 714.3,1651.0Z" fill="#7c91ca"/>
<path d="M714.3,1651.0 509.8,1650.8 291.4,1156.8 714.6,1156.8 714.3,1651.0Z" fill="#7c93cd"/>
<path d="M714.3,1651.0 523.5,1650.8 302.9,1156.8 714.6,1156.8 714.3,1651.0Z" fill="#7c95d0"/>
<path d="M714.3,1651.0 537.2,1650.8 314.5,1156.8 714.6,1156.8 714.3,1651.0Z" fill="#7c97d3"/>
<path d="M714.3,1651.0 550.9,1650.8 326.1,1156.8 714.6,1156.8 714.3,1651.0Z" fill="#7c99d6"/>
<path d="M714.3,1650.9 564.5,1650.8 337.7,1156.8 714.6,1156.8 714.3,1650.9Z" fill="#7c9bd9"/>
<path d="M714.3,1650.9 578.2,1650.8 521.2,1527.8 516.3,1522.8 515.3,1522.7 513.4,1520.8 513.3,1513.8 512.3,1512.8 512.3,1508.6 461.0,1397.8 454.4,1391.8 454.3,1383.4 400.3,1266.8 395.4,1261.8 395.3,1256.1 349.3,1156.8 714.6,1156.8 714.3,1650.9Z" fill="#7d9ddb"/>
<path d="M714.3,1650.9 591.9,1650.8 587.2,1640.8 570.5,1623.8 570.3,1604.6 565.2,1593.8 557.3,1585.7 556.3,1585.6 541.6,1571.8 541.3,1545.8 539.3,1544.7 528.3,1533.7 527.3,1533.5 516.3,1522.6 513.7,1520.8 513.5,1513.8 512.7,1512.8 512.3,1481.8 511.3,1480.8 511.3,1478.5 503.3,1461.8 483.5,1442.8 483.3,1418.6 482.0,1415.8 454.6,1391.8 454.5,1376.8 453.6,1375.8 453.3,1354.4 441.3,1328.8 431.3,1319.7 430.3,1319.6 424.5,1313.8 424.3,1292.4 420.3,1283.8 408.3,1272.7 407.3,1272.6 402.3,1267.6 401.3,1267.5 395.6,1261.8 395.3,1230.4 379.1,1195.8 366.5,1183.8 366.3,1168.4 360.9,1156.8 714.5,1156.8 714.3,1650.9Z" fill="#7da0de"/>
<path d="M714.3,1650.9 598.7,1650.8 571.2,1623.8 570.8,1597.8 543.0,1572.8 542.3,1571.8 541.8,1545.8 514.2,1520.8 513.9,1513.8 513.3,1512.8 512.0,1468.8 484.1,1442.8 483.9,1416.8 455.1,1391.8 453.9,1338.8 425.1,1313.8 424.9,1286.8 396.2,1261.8 396.1,1210.8 395.3,1209.4 374.3,1190.9 367.3,1183.8 367.3,1156.8 714.5,1156.8 714.3,1650.9Z" fill="#7fa5e2"/>
<path d="M714.3,1650.9 599.5,1650.8 572.4,1623.8 571.6,1597.8 544.1,1572.8 542.7,1545.8 514.8,1519.8 513.3,1468.8 485.3,1442.8 484.9,1416.8 456.3,1391.8 455.2,1338.8 427.1,1314.8 426.5,1313.8 426.2,1286.8 397.6,1261.8 397.5,1210.8 369.0,1184.8 368.8,1156.8 714.5,1156.8 714.3,1650.9Z" fill="#7faae8"/>
<path d="M714.3,1650.9 600.7,1650.8 573.7,1623.8 572.9,1597.8 545.4,1572.8 544.0,1545.8 516.1,1519.8 514.6,1468.8 486.7,1442.8 486.2,1416.8 457.7,1391.8 456.5,1338.8 428.6,1314.8 428.0,1313.8 427.6,1286.8 399.1,1261.8 398.9,1210.8 370.4,1184.8 370.2,1156.8 714.5,1156.8 714.3,1650.9Z" fill="#7fb0ed"/>
<path d="M714.3,1650.9 601.9,1650.8 575.0,1623.8 574.2,1597.8 546.7,1572.8 545.3,1545.8 517.4,1519.8 516.0,1468.8 488.1,1442.8 487.4,1416.8 459.2,1391.8 457.9,1338.8 430.1,1314.8 429.5,1313.8 429.0,1286.8 400.7,1261.8 400.3,1210.8 371.9,1184.8 371.7,1156.8 714.5,1156.8 714.3,1650.9Z" fill="#7fb3ed"/>
<path d="M714.3,1650.9 603.1,1650.8 576.3,1623.8 575.6,1597.8 548.0,1572.8 546.6,1545.8 518.7,1519.8 517.4,1468.8 489.6,1442.8 488.7,1416.8 485.0,1412.8 460.6,1391.8 459.2,1338.8 431.6,1314.8 431.0,1313.8 430.4,1286.8 402.2,1261.8 401.8,1210.8 373.4,1184.8 373.2,1156.8 714.5,1156.8 714.3,1650.9Z" fill="#7fb6ea"/>
<path d="M714.3,1650.9 604.3,1650.8 577.6,1623.8 576.9,1597.8 549.3,1572.8 547.9,1545.8 521.5,1521.8 520.0,1519.8 518.7,1468.8 491.0,1442.8 490.0,1416.8 486.4,1412.8 462.0,1391.8 460.6,1338.8 433.1,1314.8 432.6,1313.8 431.8,1286.8 403.7,1261.8 403.2,1210.8 374.8,1184.8 374.6,1156.8 714.5,1156.8 714.3,1650.9Z" fill="#80b9e6"/>
<path d="M714.3,1650.9 605.5,1650.8 579.0,1623.8 578.2,1597.8 550.6,1572.8 549.2,1545.8 522.7,1521.8 521.3,1519.8 520.1,1468.8 492.4,1442.8 491.2,1416.8 487.9,1412.8 463.5,1391.8 461.9,1338.8 434.1,1313.8 433.3,1286.8 405.2,1261.8 404.6,1210.8 376.3,1184.8 376.1,1156.8 714.5,1156.8 714.3,1650.9Z" fill="#82bbe0"/>
<path d="M714.3,1650.9 606.8,1650.8 580.3,1623.8 579.5,1597.8 551.9,1572.8 550.6,1545.8 522.9,1520.8 521.5,1468.8 493.8,1442.8 492.7,1417.8 490.4,1413.8 464.9,1391.8 463.3,1338.8 435.6,1313.8 434.7,1286.8 406.7,1261.8 406.0,1210.8 377.8,1184.8 377.5,1156.8 714.5,1156.8 714.3,1650.9Z" fill="#84bedb"/>
<path d="M714.3,1650.9 608.0,1650.8 581.6,1623.8 580.8,1597.8 553.2,1572.8 551.9,1545.8 524.2,1520.8 522.8,1468.8 495.2,1442.8 493.9,1417.8 491.9,1413.8 466.4,1391.8 465.1,1339.8 437.1,1313.8 436.1,1286.8 408.2,1261.8 407.4,1210.8 379.2,1184.8 379.0,1156.8 714.5,1156.8 714.3,1650.9Z" fill="#86c1d5"/>
<path d="M714.3,1650.9 609.2,1650.8 582.9,1623.8 582.1,1597.8 554.5,1572.8 553.2,1545.8 525.5,1520.8 524.2,1468.8 496.6,1442.8 496.1,1424.8 495.0,1416.8 493.3,1413.8 467.8,1391.8 466.5,1339.8 438.6,1313.8 437.5,1286.8 409.8,1261.8 408.8,1210.8 380.7,1184.8 380.5,1156.8 714.5,1156.8 714.3,1650.9Z" fill="#87c4d0"/>
<path d="M714.3,1650.9 610.4,1650.8 584.2,1623.8 583.4,1597.8 555.8,1572.8 554.5,1545.8 526.7,1520.8 525.5,1468.8 498.0,1442.8 497.4,1424.8 496.3,1416.8 494.8,1413.8 469.2,1391.8 467.9,1339.8 440.1,1313.8 438.9,1286.8 411.3,1261.8 410.2,1210.8 382.1,1184.8 381.9,1156.8 714.5,1156.8 714.3,1650.9Z" fill="#89c6ca"/>
<path d="M714.3,1650.9 611.6,1650.8 585.5,1623.8 584.7,1597.8 557.1,1572.8 555.8,1545.8 528.0,1520.8 526.9,1468.8 499.4,1442.8 498.8,1424.8 497.5,1416.8 496.3,1413.8 470.7,1391.8 469.4,1339.8 441.6,1313.8 440.3,1286.8 412.8,1261.8 411.7,1210.8 383.6,1184.8 383.4,1156.8 714.5,1156.8 714.3,1650.9Z" fill="#8bc9c5"/>
<path d="M714.3,1650.9 612.8,1650.8 586.8,1623.8 586.0,1597.8 558.5,1572.8 557.1,1545.8 529.2,1520.8 528.3,1468.8 500.9,1442.8 500.1,1424.8 497.7,1413.8 472.1,1391.8 470.8,1339.8 443.1,1313.8 441.7,1286.8 414.3,1261.8 413.1,1210.8 385.1,1184.8 384.9,1156.8 714.5,1156.8 714.3,1650.9Z" fill="#8dccbf"/>
<path d="M714.3,1650.9 614.0,1650.8 588.1,1623.8 587.3,1597.8 559.8,1572.8 558.4,1545.8 530.5,1520.8 529.6,1468.8 502.3,1442.8 501.5,1424.8 499.2,1413.8 473.6,1391.8 472.2,1339.8 444.6,1313.8 443.2,1286.8 415.8,1261.8 414.5,1210.8 386.5,1184.8 386.3,1156.8 714.5,1156.8 714.3,1650.9Z" fill="#8fcfba"/>
<path d="M714.3,1650.9 615.2,1650.8 589.4,1623.8 588.3,1597.2 560.4,1571.8 559.5,1545.8 531.5,1520.8 531.0,1468.8 503.5,1442.8 502.9,1425.8 500.4,1413.8 480.3,1396.6 474.5,1390.8 473.4,1339.8 446.5,1314.8 444.4,1286.8 417.5,1262.8 415.9,1210.8 388.0,1184.8 387.5,1183.8 387.5,1156.8 714.5,1156.8 714.3,1650.9Z" fill="#90d0b6"/>
<path d="M714.3,1650.9 615.4,1650.8 589.5,1623.8 588.3,1596.8 568.3,1579.4 560.6,1571.8 560.2,1549.8 559.6,1545.8 531.6,1520.8 531.3,1468.8 503.6,1442.8 503.2,1425.8 500.6,1413.8 480.3,1396.5 474.6,1390.8 473.5,1339.8 446.6,1314.8 445.6,1307.8 445.2,1289.8 444.6,1286.8 417.6,1262.8 417.2,1245.8 416.6,1244.8 416.2,1210.8 387.6,1183.8 387.6,1156.8 714.5,1156.8 714.3,1650.9Z" fill="#93cfb1"/>
<path d="M714.3,1650.9 616.2,1650.8 613.3,1647.8 609.3,1639.8 609.3,1637.8 603.3,1626.8 603.3,1624.8 597.3,1613.8 597.3,1611.8 590.3,1598.8 590.3,1596.8 584.3,1585.8 584.3,1583.8 578.3,1572.8 578.3,1570.8 565.3,1544.8 565.3,1542.8 559.3,1531.8 559.3,1529.8 546.3,1503.8 546.3,1501.8 540.3,1490.8 540.3,1488.8 533.3,1475.8 533.3,1473.8 532.3,1472.8 532.2,1468.8 530.3,1466.8 529.3,1466.8 527.3,1462.8 527.3,1460.8 521.3,1449.8 521.3,1447.8 515.3,1436.8 515.3,1434.8 508.3,1421.8 508.3,1419.8 496.3,1395.8 496.3,1393.8 489.3,1380.8 489.3,1378.8 477.3,1354.8 477.3,1352.8 474.3,1347.8 474.2,1339.8 467.3,1332.8 464.3,1326.8 464.3,1324.8 452.3,1300.8 452.3,1298.8 445.3,1285.8 445.3,1283.8 433.3,1259.8 433.3,1257.8 420.3,1231.8 420.3,1229.8 417.3,1224.8 417.1,1210.8 406.3,1200.8 401.3,1190.8 401.3,1188.8 395.3,1177.8 395.3,1175.8 388.3,1162.8 388.2,1156.8 714.5,1156.8 714.3,1650.9Z" fill="#96cfab"/>
<path d="M714.3,1650.8 620.8,1650.8 396.7,1156.8 714.5,1156.8 714.3,1650.8Z" fill="#98cea7"/>
<path d="M714.3,1650.8 626.3,1650.8 407.0,1156.8 714.5,1156.8 714.3,1650.8Z" fill="#9acea2"/>
<path d="M714.3,1650.8 631.8,1650.8 417.2,1156.8 714.5,1156.8 714.3,1650.8Z" fill="#9ccda0"/>
<path d="M714.3,1650.8 637.3,1650.8 427.4,1156.8 714.5,1156.8 714.3,1650.8Z" fill="#9dcc9e"/>
<path d="M714.3,1650.8 642.8,1650.8 437.6,1156.8 714.5,1156.8 714.3,1650.8Z" fill="#9fcb9d"/>
<path d="M714.3,1650.8 648.2,1650.8 447.9,1156.8 714.4,1156.8 714.3,1650.8Z" fill="#a0cb9b"/>
<path d="M714.3,1650.8 653.7,1650.8 458.1,1156.8 714.4,1156.8 714.3,1650.8Z" fill="#a2ca9a"/>
<path d="M714.3,1650.8 659.2,1650.8 468.3,1156.8 714.4,1156.8 714.3,1650.8Z" fill="#a3c998"/>
<path d="M714.3,1650.8 664.7,1650.8 478.5,1156.8 714.4,1156.8 714.3,1650.8Z" fill="#a4c997"/>
<path d="M714.3,1650.8 670.1,1650.8 488.8,1156.8 714.4,1156.8 714.3,1650.8Z" fill="#a6c895"/>
<path d="M714.3,1650.8 675.6,1650.8 499.0,1156.8 714.4,1156.8 714.3,1650.8Z" fill="#a9c793"/>
<path d="M714.3,1650.8 681.1,1650.8 509.2,1156.8 714.4,1156.8 714.3,1650.8Z" fill="#acc690"/>
<path d="M714.3,1650.8 686.6,1650.8 584.1,1347.8 575.4,1338.8 575.3,1321.9 559.0,1273.8 558.3,1273.8 545.4,1261.8 545.3,1233.3 519.4,1156.8 714.4,1156.8 714.3,1650.8Z" fill="#afc68d"/>
<path d="M714.3,1650.8 692.0,1650.8 607.9,1394.8 604.3,1390.8 604.3,1383.9 595.7,1357.8 594.3,1355.8 593.3,1355.8 585.3,1347.7 584.3,1347.7 575.5,1338.8 575.3,1305.8 574.3,1304.8 574.3,1292.6 572.1,1285.8 566.3,1279.8 565.3,1279.7 545.5,1261.8 545.3,1204.4 529.7,1156.8 714.4,1156.8 714.3,1650.8Z" fill="#b2c58a"/>
<path d="M714.3,1650.8 697.5,1650.8 665.3,1549.8 662.3,1546.8 662.3,1540.4 642.3,1477.8 640.3,1475.8 640.3,1474.8 634.4,1468.8 634.3,1456.8 633.3,1455.8 633.3,1449.6 620.0,1407.8 614.4,1401.8 614.3,1400.8 604.4,1390.8 604.3,1364.8 603.3,1364.8 594.3,1355.7 593.3,1355.7 585.3,1347.6 584.3,1347.6 575.5,1338.8 575.4,1305.8 574.5,1304.8 574.4,1286.8 572.3,1285.7 566.3,1279.7 565.3,1279.6 559.3,1273.6 558.3,1273.6 545.6,1261.8 545.3,1173.8 539.9,1156.8 714.4,1156.8 714.3,1650.8Z" fill="#c7be7c"/>
<path d="M714.3,1644.2 693.2,1622.8 693.1,1613.8 692.3,1612.8 692.1,1580.8 691.3,1579.8 691.1,1570.8 685.3,1567.9 663.2,1546.8 663.1,1495.8 661.3,1494.1 657.3,1492.8 655.3,1490.8 655.1,1489.8 635.2,1468.8 635.1,1456.8 634.3,1455.8 634.1,1423.8 633.3,1422.8 633.1,1416.8 625.3,1411.8 605.2,1390.8 605.1,1364.8 603.3,1363.8 594.3,1355.0 593.3,1354.8 585.3,1347.0 584.3,1346.8 576.3,1338.8 576.2,1305.8 575.3,1304.8 575.2,1286.8 566.3,1279.0 565.3,1278.8 559.3,1272.9 558.3,1272.8 546.3,1261.8 546.3,1156.8 714.4,1156.8 714.3,1644.2Z" fill="#dcb56d"/>
<path d="M714.3,1644.1 693.8,1622.8 692.1,1571.8 690.3,1569.9 685.8,1567.8 663.8,1546.8 663.4,1495.8 662.9,1494.8 658.5,1492.8 635.7,1468.8 634.2,1417.8 626.4,1411.8 605.7,1390.8 605.4,1364.8 577.5,1339.8 575.6,1286.8 547.3,1261.8 547.2,1156.8 714.4,1156.8 714.3,1644.1Z" fill="#e4b168"/>
<path d="M714.3,1644.0 694.9,1622.8 693.2,1571.8 692.6,1570.8 687.0,1567.8 664.9,1546.8 664.4,1495.8 663.9,1494.8 659.8,1492.8 636.7,1468.8 635.2,1417.8 627.6,1411.8 606.8,1390.8 606.4,1364.8 578.6,1339.8 576.7,1286.8 548.4,1261.8 548.3,1156.8 714.4,1156.8 714.3,1644.0Z" fill="#eab060"/>
<path d="M714.3,1643.8 705.5,1632.8 695.9,1622.8 694.3,1571.8 693.8,1570.8 688.3,1567.8 666.0,1546.8 665.4,1495.8 664.9,1494.8 661.1,1492.8 637.7,1468.8 636.3,1417.8 628.3,1411.4 617.1,1400.8 607.9,1390.8 607.4,1364.8 579.6,1339.8 577.7,1286.8 549.5,1261.8 549.3,1156.8 714.4,1156.8 714.3,1643.8Z" fill="#efae58"/>
<path d="M714.3,1643.6 706.4,1632.8 697.0,1622.8 695.4,1571.8 694.9,1570.8 689.6,1567.8 667.2,1546.8 666.3,1495.5 662.4,1492.8 638.7,1468.8 637.3,1417.8 629.8,1411.8 618.1,1400.8 609.0,1390.8 608.4,1364.8 580.7,1339.8 578.8,1286.8 550.6,1261.8 550.4,1156.8 714.4,1156.8 714.3,1643.6Z" fill="#f2ac52"/>
<path d="M714.3,1643.3 707.3,1632.8 698.0,1622.8 696.5,1571.8 696.0,1570.8 690.8,1567.8 668.3,1546.8 667.0,1494.8 663.7,1492.8 639.7,1468.8 638.4,1417.8 619.0,1400.8 610.1,1390.8 609.4,1364.8 581.7,1339.8 580.4,1287.8 579.9,1286.8 551.7,1261.8 551.4,1156.8 714.4,1156.8 714.3,1643.3Z" fill="#f4a94d"/>
<path d="M714.3,1643.0 708.3,1632.8 699.1,1622.8 697.7,1571.8 697.1,1570.8 692.1,1567.8 676.3,1553.9 669.4,1546.8 668.1,1494.8 665.0,1492.8 648.3,1477.0 640.7,1468.8 639.5,1417.8 620.0,1400.8 611.2,1390.8 610.4,1364.8 582.8,1339.8 581.5,1287.8 552.8,1261.8 552.5,1156.8 714.4,1156.8 714.3,1643.0Z" fill="#f7a54d"/>
<path d="M714.3,1642.6 709.2,1632.8 700.1,1622.8 698.8,1571.8 677.3,1553.8 670.5,1546.8 669.1,1494.8 649.1,1476.8 641.7,1468.8 640.5,1417.8 620.9,1400.8 612.3,1390.8 611.5,1364.8 583.9,1339.8 582.6,1287.8 553.9,1261.8 553.5,1156.8 714.4,1156.8 714.3,1642.6Z" fill="#fa9f4d"/>
<path d="M714.3,1642.1 710.1,1632.8 704.9,1627.8 701.1,1622.8 699.9,1571.8 699.4,1570.8 694.6,1567.8 678.3,1553.8 671.6,1546.8 670.2,1494.8 650.0,1476.8 642.7,1468.8 641.6,1417.8 621.9,1400.8 613.4,1390.8 612.5,1364.8 584.9,1339.8 583.7,1287.8 555.0,1261.8 554.6,1156.8 714.4,1156.8 714.3,1642.1Z" fill="#fa984d"/>
<path d="M714.3,1641.4 711.0,1632.8 705.8,1627.8 702.2,1622.8 701.0,1571.8 700.5,1570.8 695.9,1567.8 679.3,1553.8 672.4,1545.8 671.2,1494.8 651.0,1476.8 643.7,1468.8 642.6,1417.8 622.8,1400.8 614.5,1390.8 613.5,1364.8 586.0,1339.8 584.8,1287.8 556.1,1261.8 555.6,1156.8 714.4,1156.8 714.3,1641.4Z" fill="#fa904d"/>
<path d="M714.3,1640.3 711.9,1632.8 706.7,1627.8 703.2,1622.8 702.1,1571.8 701.6,1570.8 680.4,1553.8 673.5,1545.8 672.3,1494.8 652.0,1476.8 644.7,1468.8 643.7,1417.8 623.8,1400.8 615.6,1390.8 614.5,1364.8 587.1,1339.8 585.9,1287.8 557.2,1261.8 556.7,1156.8 714.3,1156.8 714.3,1640.3Z" fill="#fa884d"/>
<path d="M714.3,1638.6 712.8,1632.8 707.6,1627.8 704.3,1622.8 703.2,1571.8 702.7,1570.8 681.4,1553.8 674.6,1545.8 673.3,1494.8 653.0,1476.8 645.7,1468.8 644.7,1417.8 624.7,1400.8 616.8,1390.8 615.5,1364.8 588.1,1339.8 587.0,1287.8 558.3,1261.8 557.7,1156.8 714.3,1156.8 714.3,1638.6Z" fill="#fb804d"/>
<path d="M714.3,1635.4 713.7,1632.8 708.5,1627.8 705.3,1622.8 703.9,1570.8 682.5,1553.8 675.7,1545.8 674.4,1494.8 672.9,1492.8 654.0,1476.8 646.7,1468.8 645.8,1417.8 625.7,1400.8 617.9,1390.8 616.5,1364.8 589.2,1339.8 588.2,1287.8 559.4,1261.8 558.8,1156.8 714.3,1156.8 714.3,1635.4Z" fill="#fe784d"/>
<path d="M714.3,1632.5 709.4,1627.8 706.4,1622.8 705.0,1570.8 683.5,1553.8 676.8,1545.8 675.1,1493.8 655.0,1476.8 647.7,1468.8 646.8,1417.8 626.6,1400.8 619.0,1390.8 617.5,1364.8 590.3,1339.8 589.3,1287.8 560.5,1261.8 559.8,1156.8 714.3,1156.8 714.3,1632.5Z" fill="#ff714d"/>
<path d="M714.3,1631.7 709.3,1626.7 707.4,1622.8 706.1,1570.8 686.3,1555.5 680.6,1549.8 677.6,1545.8 676.3,1493.8 656.3,1477.4 648.5,1468.8 648.0,1423.8 647.3,1416.8 627.5,1400.8 620.5,1391.8 619.6,1388.8 618.4,1364.8 591.3,1339.8 590.6,1331.8 590.3,1287.8 561.4,1261.8 560.6,1156.8 714.3,1156.8 714.3,1631.7Z" fill="#ff6c4d"/>
<path d="M714.3,1631.6 709.3,1626.5 707.5,1622.8 706.3,1570.8 686.3,1555.4 677.7,1545.8 676.5,1493.8 656.3,1477.3 648.6,1468.8 648.2,1423.8 647.4,1416.8 627.6,1400.8 620.6,1391.8 619.7,1388.8 618.5,1364.8 591.4,1339.8 590.7,1331.8 590.5,1287.8 561.6,1261.8 560.7,1156.8 714.3,1156.8 714.3,1631.6Z" fill="#ff694d"/>
<path d="M714.3,1631.2 709.0,1625.8 707.9,1622.8 706.7,1570.8 686.3,1555.1 678.0,1545.8 676.8,1493.8 667.3,1485.4 656.3,1477.1 649.0,1468.8 648.7,1423.8 648.0,1422.8 647.8,1416.8 629.0,1401.8 620.9,1391.8 620.0,1388.8 618.9,1364.8 591.8,1339.8 591.7,1332.8 591.0,1331.8 590.9,1287.8 561.9,1261.8 561.7,1182.8 561.0,1181.8 561.0,1156.8 714.3,1156.8 714.3,1631.2Z" fill="#ff644d"/>
<path d="M714.3,1630.8 710.3,1626.8 708.3,1623.1 707.2,1570.8 685.3,1553.8 678.7,1545.8 677.3,1493.8 667.3,1484.9 656.7,1476.8 649.5,1468.8 648.7,1417.8 646.3,1414.9 628.3,1400.8 621.4,1391.8 619.3,1364.8 592.3,1339.8 591.3,1287.8 562.4,1261.8 561.6,1156.8 714.3,1156.8 714.3,1630.8Z" fill="#ff5f4d"/>
<path d="M714.3,1628.7 712.5,1626.8 710.4,1621.8 709.2,1570.8 687.7,1553.8 681.1,1545.8 679.5,1493.8 659.0,1476.8 651.8,1468.8 651.0,1417.8 630.6,1400.8 623.7,1391.8 623.2,1390.8 621.6,1364.8 594.4,1339.8 593.5,1287.8 564.7,1261.8 563.9,1156.8 714.3,1156.8 714.3,1628.7Z" fill="#ff594d"/>
<path d="M714.3,1625.7 712.7,1621.8 711.9,1571.8 711.6,1570.8 690.0,1553.8 683.7,1546.8 681.8,1493.8 661.4,1476.8 654.1,1468.8 653.3,1417.8 633.0,1400.8 626.1,1391.8 625.5,1390.8 623.9,1364.8 596.8,1339.8 595.8,1287.8 567.0,1261.8 566.3,1156.8 714.3,1156.8 714.3,1625.7Z" fill="#ff544d"/>
<path d="M714.3,1573.2 713.9,1570.8 692.3,1553.8 686.0,1546.8 684.2,1493.8 663.7,1476.8 656.5,1468.8 655.7,1417.8 635.3,1400.8 628.4,1391.8 627.8,1390.8 626.3,1364.8 599.1,1339.8 598.2,1287.8 569.4,1261.8 568.6,1156.8 714.3,1156.8 714.3,1573.2Z" fill="#ff4f4d"/>
<path d="M714.3,1569.3 694.7,1553.8 688.4,1546.8 686.5,1493.8 666.0,1476.8 658.8,1468.8 658.0,1417.8 637.6,1400.8 630.7,1391.8 630.2,1390.8 628.6,1364.8 601.4,1339.8 600.5,1287.8 571.7,1261.8 570.9,1156.8 714.3,1156.8 714.3,1569.3Z" fill="#ff4d4d"/>
<path d="M714.3,1567.4 697.0,1553.8 690.7,1546.8 688.8,1493.8 668.4,1476.8 661.1,1468.8 660.3,1417.8 640.0,1400.8 633.1,1391.8 632.5,1390.8 630.9,1364.8 603.8,1339.8 602.8,1287.8 574.0,1261.8 573.3,1156.8 714.3,1156.8 714.3,1567.4Z" fill="#ff4d4e"/>
<mask id="mke100" maskUnits="userSpaceOnUse" x="150.3" y="1149.8" width="571.3" height="508.5"><rect x="150.3" y="1149.8" width="571.3" height="508.5" fill="#fff"/>
<rect x="462.9" y="1403.6" width="44.8" height="24" fill="#000"/>
</mask>
<path mask="url(#mke100)" fill="none" stroke="#202020" stroke-opacity="0.7" stroke-width="1.0" stroke-linejoin="round" d="M367.3,1150.0 367.3,1184.6 396.1,1210.5 396.1,1262.4 425.0,1287.0 425.0,1314.3 453.8,1338.8 454.5,1391.5 483.9,1417.0 483.9,1443.1 511.9,1468.8 513.5,1520.2 541.5,1545.9 542.3,1572.4 570.3,1597.3 571.1,1623.8 597.6,1650.0 602.0,1655.0"/>
<mask id="mke200" maskUnits="userSpaceOnUse" x="150.3" y="1149.8" width="571.3" height="508.5"><rect x="150.3" y="1149.8" width="571.3" height="508.5" fill="#fff"/>
<rect x="454.5" y="1351.5" width="44.8" height="24" fill="#000"/>
</mask>
<path mask="url(#mke200)" fill="none" stroke="#202020" stroke-opacity="0.7" stroke-width="1.0" stroke-linejoin="round" d="M388.2,1150.0 388.2,1184.6 416.3,1210.5 417.8,1262.4 445.2,1287.0 446.6,1314.3 474.0,1339.6 475.3,1391.7 501.0,1413.5 503.3,1425.2 504.1,1443.1 531.4,1468.8 532.1,1521.0 560.2,1545.9 561.0,1572.4 589.0,1597.3 589.8,1623.8 614.7,1650.0 620.0,1655.0"/>
<mask id="mke300" maskUnits="userSpaceOnUse" x="150.3" y="1149.8" width="571.3" height="508.5"><rect x="150.3" y="1149.8" width="571.3" height="508.5" fill="#fff"/>
<rect x="557.5" y="1301.2" width="44.8" height="24" fill="#000"/>
</mask>
<path mask="url(#mke300)" fill="none" stroke="#202020" stroke-opacity="0.7" stroke-width="1.0" stroke-linejoin="round" d="M546.2,1150.0 546.2,1262.4 574.8,1287.0 576.2,1339.6 604.4,1364.8 604.6,1391.1 626.0,1412.5 633.1,1417.3 634.7,1468.8 657.7,1493.4 662.4,1495.0 662.4,1546.5 684.6,1567.9 691.0,1571.1 692.6,1622.6 710.0,1640.0 716.0,1646.0"/>
<mask id="mke400" maskUnits="userSpaceOnUse" x="150.3" y="1149.8" width="571.3" height="508.5"><rect x="150.3" y="1149.8" width="571.3" height="508.5" fill="#fff"/>
<rect x="539.1" y="1169.3" width="44.8" height="24" fill="#000"/>
</mask>
<path mask="url(#mke400)" fill="none" stroke="#202020" stroke-opacity="0.7" stroke-width="1.0" stroke-linejoin="round" d="M561.1,1150.0 561.8,1261.7 590.7,1287.7 591.4,1339.6 618.8,1364.8 620.4,1391.1 627.6,1400.6 648.2,1417.3 649.0,1468.8 656.1,1476.7 676.7,1493.4 678.3,1546.5 684.6,1553.6 706.8,1571.1 707.6,1622.6 710.0,1627.3 716.0,1633.0"/>
<text x="561.5" y="1190.1" font-size="24.5" text-anchor="middle">400</text>
<text x="579.9" y="1322.0" font-size="24.5" text-anchor="middle">300</text>
<text x="476.9" y="1372.3" font-size="24.5" text-anchor="middle">200</text>
<text x="485.3" y="1424.4" font-size="24.5" text-anchor="middle">100</text>
</g>
<path d="M270.6,1648.3v-7.5M270.6,1159.8v7.5M380.8,1648.3v-7.5M380.8,1159.8v7.5M491.1,1648.3v-7.5M491.1,1159.8v7.5M601.3,1648.3v-7.5M601.3,1159.8v7.5M160.3,1281.9h7.5M711.6,1281.9h-7.5M160.3,1404.0h7.5M711.6,1404.0h-7.5M160.3,1526.2h7.5M711.6,1526.2h-7.5" stroke="#000" stroke-width="2.8" fill="none"/>
<rect x="160.3" y="1159.8" width="551.3" height="488.5" fill="none" stroke="#000" stroke-width="3" stroke-linejoin="round"/>
<clipPath id="cpf"><rect x="743.8" y="1159.8" width="551.8" height="488.5"/></clipPath>
<g clip-path="url(#cpf)">
<rect x="740.8" y="1156.8" width="557.8" height="494.5" fill="#7f84b4"/>
<path d="M1297.8,1651.0 989.8,1650.8 987.8,1646.8 987.8,1644.8 985.8,1641.8 985.8,1639.8 980.8,1629.8 980.8,1627.8 978.8,1624.8 978.8,1622.8 976.8,1619.8 976.8,1617.8 974.8,1614.8 974.8,1612.8 971.8,1607.8 971.8,1605.8 967.8,1597.8 967.8,1595.8 965.8,1592.8 965.8,1590.8 962.8,1585.8 962.8,1583.8 960.8,1580.8 960.8,1578.8 958.8,1575.8 958.8,1573.8 954.8,1565.8 954.8,1563.8 951.8,1558.8 951.8,1556.8 949.8,1553.8 949.8,1551.8 947.8,1548.8 947.8,1546.8 945.8,1543.8 945.8,1541.8 942.8,1536.8 942.8,1534.8 940.8,1531.8 940.8,1529.8 938.8,1526.8 938.8,1524.8 936.8,1521.8 936.8,1519.8 934.8,1516.8 934.8,1514.8 931.8,1509.8 931.8,1507.8 929.8,1504.8 929.8,1502.8 925.8,1494.8 925.8,1492.8 922.8,1487.8 922.8,1485.8 920.8,1482.8 920.8,1480.8 918.8,1477.8 918.8,1475.8 914.8,1467.8 914.8,1465.8 911.8,1460.8 911.8,1458.8 909.8,1455.8 909.8,1453.8 907.8,1450.8 907.8,1448.8 905.8,1445.8 905.8,1443.8 902.8,1438.8 902.8,1436.8 900.8,1433.8 900.8,1431.8 898.8,1428.8 898.8,1426.8 894.8,1418.8 894.8,1416.8 891.8,1411.8 891.8,1409.8 887.8,1401.8 887.8,1399.8 885.8,1396.8 885.8,1394.8 882.8,1389.8 882.8,1387.8 880.8,1384.8 880.8,1382.8 876.8,1374.8 876.8,1372.8 874.8,1369.8 874.8,1367.8 871.8,1362.8 871.8,1360.8 869.8,1357.8 869.8,1355.8 865.8,1347.8 865.8,1345.8 862.8,1340.8 862.8,1338.8 860.8,1335.8 860.8,1333.8 856.8,1325.8 856.8,1323.8 854.8,1320.8 854.8,1318.8 851.8,1313.8 851.8,1311.8 849.8,1308.8 849.8,1306.8 845.8,1298.8 845.8,1296.8 842.8,1291.8 842.8,1289.8 838.8,1281.8 838.8,1279.8 836.8,1276.8 836.8,1274.8 834.8,1271.8 834.8,1269.8 831.8,1264.8 831.8,1262.8 829.8,1259.8 829.8,1257.8 827.8,1254.8 827.8,1252.8 825.8,1249.8 825.8,1247.8 822.8,1242.8 822.8,1240.8 818.8,1232.8 818.8,1230.8 816.8,1227.8 816.8,1225.8 814.8,1222.8 814.8,1220.8 811.8,1215.8 811.8,1213.8 809.8,1210.8 809.8,1208.8 807.8,1205.8 807.8,1203.8 805.8,1200.8 805.8,1198.8 802.8,1193.8 802.8,1191.8 800.8,1188.8 800.8,1186.8 798.8,1183.8 798.8,1181.8 794.8,1173.8 794.8,1171.8 791.8,1166.8 791.8,1164.8 789.8,1161.8 789.8,1159.8 787.8,1156.8 1297.8,1156.5 1297.8,1651.0Z" fill="#7f84b5"/>
<path d="M1297.8,1651.0 1005.6,1650.8 801.9,1156.8 1297.8,1156.5 1297.8,1651.0Z" fill="#7f85b8"/>
<path d="M1297.8,1651.0 1020.9,1650.8 815.1,1156.8 1298.1,1156.8 1297.8,1651.0Z" fill="#7e87bb"/>
<path d="M1297.8,1651.0 1036.2,1650.8 828.2,1156.8 1298.1,1156.8 1297.8,1651.0Z" fill="#7e89be"/>
<path d="M1297.8,1651.0 1051.5,1650.8 841.4,1156.8 1298.1,1156.8 1297.8,1651.0Z" fill="#7d8bc1"/>
<path d="M1297.8,1651.0 1066.7,1650.8 854.6,1156.8 1298.1,1156.8 1297.8,1651.0Z" fill="#7d8dc4"/>
<path d="M1297.8,1651.0 1082.0,1650.8 867.8,1156.8 1298.1,1156.8 1297.8,1651.0Z" fill="#7c8fc7"/>
<path d="M1297.8,1651.0 1097.3,1650.8 881.0,1156.8 1298.1,1156.8 1297.8,1651.0Z" fill="#7c91ca"/>
<path d="M1297.8,1651.0 1112.6,1650.8 894.1,1156.8 1298.1,1156.8 1297.8,1651.0Z" fill="#7c93cd"/>
<path d="M1297.8,1651.0 1127.9,1650.8 907.3,1156.8 1298.1,1156.8 1297.8,1651.0Z" fill="#7c95d0"/>
<path d="M1297.8,1651.0 1143.1,1650.8 920.5,1156.8 1298.1,1156.8 1297.8,1651.0Z" fill="#7c97d3"/>
<path d="M1297.8,1651.0 1158.4,1650.8 933.7,1156.8 1298.0,1156.8 1297.8,1651.0Z" fill="#7c99d6"/>
<path d="M1297.8,1651.0 1173.7,1650.8 946.9,1156.8 1298.0,1156.8 1297.8,1651.0Z" fill="#7c9bd9"/>
<path d="M1297.8,1651.0 1189.0,1650.8 1130.6,1524.8 1125.9,1520.8 1125.8,1514.5 1110.7,1481.8 1096.9,1468.8 1096.8,1451.9 1069.4,1392.8 1067.8,1390.8 1067.8,1389.3 1048.6,1347.8 1038.9,1338.8 1038.8,1326.7 988.8,1218.8 979.9,1210.8 979.8,1199.4 960.0,1156.8 1298.0,1156.8 1297.8,1651.0Z" fill="#7d9ddb"/>
<path d="M1297.8,1651.0 1204.3,1650.8 1197.2,1635.8 1184.0,1622.8 1183.8,1607.0 1176.7,1591.8 1170.8,1585.8 1169.8,1585.7 1155.0,1571.8 1153.8,1545.8 1139.8,1532.7 1138.8,1532.5 1128.8,1522.6 1126.1,1520.8 1125.9,1501.8 1125.0,1500.8 1124.9,1493.8 1122.8,1492.6 1112.8,1482.6 1111.8,1482.5 1097.2,1468.8 1096.8,1422.8 1095.8,1421.8 1095.8,1418.9 1094.4,1415.8 1085.8,1406.7 1084.8,1406.7 1068.1,1390.8 1067.9,1364.8 1065.8,1362.7 1064.8,1362.7 1055.8,1353.7 1054.8,1353.5 1039.1,1338.8 1039.0,1320.8 1038.1,1319.8 1037.8,1294.9 1032.6,1283.8 1009.1,1261.8 1008.9,1245.8 1008.0,1244.8 1007.9,1235.8 980.2,1210.8 979.8,1170.9 973.2,1156.8 1298.0,1156.8 1297.8,1651.0Z" fill="#7da0de"/>
<path d="M1297.8,1651.0 1213.8,1650.8 1184.7,1622.8 1184.4,1597.8 1155.5,1571.8 1154.5,1545.8 1126.7,1520.8 1126.4,1501.8 1125.4,1493.8 1097.7,1468.8 1097.3,1422.8 1096.7,1416.8 1068.8,1390.8 1068.4,1364.8 1039.6,1338.8 1038.3,1287.8 1009.7,1261.8 1008.5,1235.8 980.7,1210.8 980.4,1156.8 1298.0,1156.8 1297.8,1651.0Z" fill="#7fa5e2"/>
<path d="M1297.8,1651.0 1215.2,1650.8 1186.2,1623.8 1185.5,1597.8 1156.7,1571.8 1155.7,1545.8 1128.0,1520.8 1127.0,1494.8 1099.1,1468.8 1098.1,1416.8 1070.8,1391.8 1070.2,1390.8 1069.5,1364.8 1040.9,1338.8 1039.5,1287.8 1011.8,1262.8 1010.0,1235.8 982.2,1210.8 981.8,1156.8 1298.0,1156.8 1297.8,1651.0Z" fill="#7faae8"/>
<path d="M1297.8,1651.0 1216.6,1650.8 1187.7,1623.8 1186.9,1597.8 1158.1,1571.8 1157.1,1545.8 1129.4,1520.8 1128.4,1494.8 1100.5,1468.8 1099.5,1416.8 1072.2,1391.8 1070.8,1364.8 1042.4,1338.8 1041.0,1287.8 1013.4,1262.8 1011.6,1235.8 983.9,1210.8 983.4,1156.8 1298.0,1156.8 1297.8,1651.0Z" fill="#7fb0ed"/>
<path d="M1297.8,1651.0 1218.0,1650.8 1189.1,1623.8 1188.3,1597.8 1159.6,1571.8 1158.5,1545.8 1130.8,1520.8 1129.8,1494.8 1102.0,1468.8 1100.9,1416.8 1073.6,1391.8 1072.2,1364.8 1044.0,1338.8 1042.6,1287.8 1015.0,1262.8 1013.3,1235.8 985.5,1210.8 985.1,1156.8 1298.0,1156.8 1297.8,1651.0Z" fill="#7fb3ed"/>
<path d="M1297.8,1651.0 1219.4,1650.8 1190.5,1623.8 1189.7,1597.8 1161.1,1571.8 1159.9,1545.8 1132.2,1520.8 1131.2,1494.8 1103.5,1468.8 1102.3,1416.8 1075.1,1391.8 1073.6,1364.8 1045.6,1338.8 1044.1,1287.8 1016.6,1262.8 1015.0,1235.8 987.2,1210.8 986.7,1156.8 1298.0,1156.8 1297.8,1651.0Z" fill="#7fb6ea"/>
<path d="M1297.8,1651.0 1220.8,1650.8 1192.0,1623.8 1191.1,1597.8 1162.5,1571.8 1161.3,1545.8 1133.7,1520.8 1132.6,1494.8 1104.9,1468.8 1103.7,1416.8 1076.5,1391.8 1074.9,1364.8 1047.1,1338.8 1045.7,1287.8 1018.2,1262.8 1016.6,1235.8 988.9,1210.8 988.3,1156.8 1298.0,1156.8 1297.8,1651.0Z" fill="#80b9e6"/>
<path d="M1297.8,1651.0 1222.2,1650.8 1193.4,1623.8 1192.5,1597.8 1164.0,1571.8 1162.7,1545.8 1135.1,1520.8 1134.0,1494.8 1106.4,1468.8 1105.1,1416.8 1077.9,1391.8 1076.3,1364.8 1048.7,1338.8 1047.3,1287.8 1019.8,1262.8 1018.3,1235.8 990.5,1210.8 989.9,1156.8 1298.0,1156.8 1297.8,1651.0Z" fill="#82bbe0"/>
<path d="M1297.8,1651.0 1223.6,1650.8 1194.8,1623.8 1193.9,1597.8 1165.5,1571.8 1164.1,1545.8 1136.5,1520.8 1135.4,1494.8 1107.9,1468.8 1106.6,1416.8 1079.4,1391.8 1077.7,1364.8 1050.3,1338.8 1048.8,1287.8 1021.5,1262.8 1020.0,1235.8 992.2,1210.8 991.6,1156.8 1298.0,1156.8 1297.8,1651.0Z" fill="#84bedb"/>
<path d="M1297.8,1651.0 1225.0,1650.8 1196.2,1623.8 1195.3,1597.8 1166.9,1571.8 1165.5,1545.8 1137.9,1520.8 1136.8,1494.8 1109.4,1468.8 1108.0,1416.8 1080.8,1391.8 1079.0,1364.8 1051.8,1338.8 1050.4,1287.8 1023.1,1262.8 1021.6,1235.8 993.9,1210.8 993.2,1156.8 1298.0,1156.8 1297.8,1651.0Z" fill="#86c1d5"/>
<path d="M1297.8,1651.0 1226.4,1650.8 1197.7,1623.8 1196.7,1597.8 1168.4,1571.8 1167.0,1545.8 1139.3,1520.8 1138.2,1494.8 1110.8,1468.8 1109.4,1416.8 1082.2,1391.8 1080.4,1364.8 1053.4,1338.8 1052.0,1287.8 1024.7,1262.8 1023.3,1235.8 995.5,1210.8 994.8,1156.8 1298.0,1156.8 1297.8,1651.0Z" fill="#87c4d0"/>
<path d="M1297.8,1651.0 1227.8,1650.8 1199.1,1623.8 1198.1,1597.8 1169.9,1571.8 1168.4,1545.8 1140.7,1520.8 1139.6,1494.8 1112.3,1468.8 1110.8,1416.8 1083.6,1391.8 1081.8,1364.8 1055.0,1338.8 1053.5,1287.8 1026.3,1262.8 1025.0,1235.8 997.2,1210.8 996.4,1156.8 1298.0,1156.8 1297.8,1651.0Z" fill="#89c6ca"/>
<path d="M1297.8,1651.0 1229.2,1650.8 1200.5,1623.8 1199.5,1597.8 1171.4,1571.8 1169.8,1545.8 1142.1,1520.8 1141.0,1494.8 1113.8,1468.8 1112.2,1416.8 1085.1,1391.8 1083.1,1364.8 1056.5,1338.8 1055.1,1287.8 1027.9,1262.8 1026.6,1235.8 998.9,1210.8 998.0,1156.8 1298.0,1156.8 1297.8,1651.0Z" fill="#8bc9c5"/>
<path d="M1297.8,1651.0 1230.6,1650.8 1202.0,1623.8 1200.9,1597.8 1172.8,1571.8 1171.2,1545.8 1143.5,1520.8 1142.4,1494.8 1115.2,1468.8 1113.6,1416.8 1086.5,1391.8 1084.5,1364.8 1058.1,1338.8 1056.6,1287.8 1029.5,1262.8 1028.3,1235.8 1000.5,1210.8 999.7,1156.8 1298.0,1156.8 1297.8,1651.0Z" fill="#8dccbf"/>
<path d="M1297.8,1651.0 1232.0,1650.8 1203.4,1623.8 1202.3,1597.8 1174.3,1571.8 1172.6,1545.8 1144.9,1520.8 1143.8,1494.8 1116.7,1468.8 1115.0,1416.8 1087.9,1391.8 1085.8,1364.8 1059.7,1338.8 1058.2,1287.8 1031.2,1262.8 1030.0,1235.8 1002.2,1210.8 1001.3,1156.8 1298.0,1156.8 1297.8,1651.0Z" fill="#8fcfba"/>
<path d="M1297.8,1650.9 1233.4,1650.8 1204.8,1623.8 1204.0,1616.8 1203.7,1597.8 1175.8,1571.8 1173.9,1545.8 1146.0,1520.8 1144.8,1494.2 1118.0,1468.8 1116.4,1416.8 1089.0,1391.8 1087.0,1364.8 1061.0,1338.8 1059.8,1287.8 1032.0,1261.8 1031.6,1235.8 1003.8,1210.8 1003.0,1192.8 1002.8,1156.8 1298.0,1156.8 1297.8,1650.9Z" fill="#90d0b6"/>
<path d="M1297.8,1650.9 1233.7,1650.8 1205.0,1623.8 1204.1,1616.8 1203.9,1597.8 1175.9,1571.8 1174.0,1545.8 1146.1,1520.8 1145.7,1500.8 1144.8,1493.8 1118.1,1468.8 1116.7,1416.8 1089.1,1391.8 1088.8,1381.0 1087.1,1364.8 1061.1,1338.8 1059.9,1287.8 1032.1,1261.8 1031.9,1235.8 1004.0,1210.8 1003.7,1193.8 1003.1,1192.8 1003.0,1156.8 1298.0,1156.8 1297.8,1650.9Z" fill="#93cfb1"/>
<path d="M1297.8,1650.9 1234.5,1650.8 1228.8,1644.8 1225.8,1638.8 1225.8,1636.8 1218.8,1623.8 1218.8,1621.8 1211.8,1608.8 1211.8,1606.8 1204.8,1593.8 1204.8,1591.8 1189.8,1561.8 1189.8,1559.8 1182.8,1546.8 1182.8,1544.8 1175.8,1531.8 1175.8,1529.8 1168.8,1516.8 1168.8,1514.8 1161.8,1501.8 1161.8,1499.8 1153.8,1484.8 1153.8,1482.8 1139.8,1454.8 1139.8,1452.8 1132.8,1439.8 1132.8,1437.8 1125.8,1424.8 1125.8,1422.8 1118.8,1409.8 1118.8,1407.8 1110.8,1392.8 1110.8,1390.8 1103.8,1377.8 1103.8,1375.8 1096.8,1362.8 1096.8,1360.8 1089.8,1347.8 1089.8,1345.8 1082.8,1332.8 1082.8,1330.8 1075.8,1317.8 1075.8,1315.8 1068.8,1302.8 1068.8,1300.8 1060.8,1285.8 1060.8,1283.8 1053.8,1270.8 1053.8,1268.8 1046.8,1255.8 1046.8,1253.8 1039.8,1240.8 1039.8,1238.8 1032.8,1225.8 1032.8,1223.8 1025.8,1210.8 1025.8,1208.8 1017.8,1193.8 1017.8,1191.8 1003.8,1163.8 1003.7,1156.8 1298.0,1156.8 1297.8,1650.9Z" fill="#96cfab"/>
<path d="M1297.8,1650.9 1235.5,1650.8 1010.0,1156.8 1298.0,1156.8 1297.8,1650.9Z" fill="#98cea7"/>
<path d="M1297.8,1650.9 1238.7,1650.8 1018.5,1156.8 1298.0,1156.8 1297.8,1650.9Z" fill="#9acea2"/>
<path d="M1297.8,1650.9 1241.8,1650.8 1027.0,1156.8 1298.0,1156.8 1297.8,1650.9Z" fill="#9ccda0"/>
<path d="M1297.8,1650.9 1245.0,1650.8 1035.4,1156.8 1298.0,1156.8 1297.8,1650.9Z" fill="#9dcc9e"/>
<path d="M1297.8,1650.9 1248.1,1650.8 1043.9,1156.8 1297.9,1156.8 1297.8,1650.9Z" fill="#9fcb9d"/>
<path d="M1297.8,1650.9 1251.3,1650.8 1052.4,1156.8 1297.9,1156.8 1297.8,1650.9Z" fill="#a0cb9b"/>
<path d="M1297.8,1650.9 1254.4,1650.8 1060.9,1156.8 1297.9,1156.8 1297.8,1650.9Z" fill="#a2ca9a"/>
<path d="M1297.8,1650.9 1257.6,1650.8 1069.4,1156.8 1297.9,1156.8 1297.8,1650.9Z" fill="#a3c998"/>
<path d="M1297.8,1650.9 1260.7,1650.8 1077.9,1156.8 1297.9,1156.8 1297.8,1650.9Z" fill="#a4c997"/>
<path d="M1297.8,1650.9 1263.9,1650.8 1086.4,1156.8 1297.9,1156.8 1297.8,1650.9Z" fill="#a6c895"/>
<path d="M1297.8,1650.9 1267.1,1650.8 1169.8,1371.8 1164.8,1365.8 1164.8,1363.8 1163.8,1362.8 1163.8,1354.6 1094.9,1156.8 1297.9,1156.8 1297.8,1650.9Z" fill="#a9c793"/>
<path d="M1297.8,1650.9 1270.2,1650.8 1179.3,1381.8 1177.8,1380.8 1177.8,1379.8 1167.9,1369.8 1167.9,1368.8 1164.9,1365.8 1164.9,1363.8 1163.9,1362.8 1163.8,1342.8 1162.8,1341.8 1162.8,1332.8 1141.5,1269.8 1139.8,1267.8 1139.8,1266.8 1134.8,1261.8 1134.8,1249.9 1103.3,1156.8 1297.9,1156.8 1297.8,1650.9Z" fill="#acc690"/>
<path d="M1297.8,1650.9 1273.4,1650.8 1198.5,1421.8 1193.8,1416.8 1193.8,1407.5 1187.4,1387.8 1183.8,1384.8 1182.8,1384.7 1179.8,1381.7 1178.8,1381.7 1177.9,1379.8 1168.0,1369.8 1168.0,1368.8 1165.0,1365.8 1165.0,1363.8 1164.0,1362.8 1163.9,1342.8 1162.9,1341.8 1162.8,1312.7 1152.7,1281.8 1134.9,1261.8 1134.8,1227.1 1111.8,1156.8 1297.9,1156.8 1297.8,1650.9Z" fill="#afc68d"/>
<path d="M1297.8,1650.9 1276.5,1650.8 1229.4,1501.8 1221.9,1493.8 1221.8,1477.8 1206.3,1428.8 1200.8,1422.7 1199.8,1422.7 1193.9,1416.8 1193.8,1394.8 1192.8,1393.8 1192.8,1390.8 1191.8,1390.8 1189.8,1388.7 1188.8,1388.7 1186.8,1386.7 1182.8,1384.6 1179.8,1381.6 1178.8,1381.6 1178.0,1379.8 1168.1,1369.8 1168.0,1368.8 1165.1,1365.8 1165.0,1363.8 1164.1,1362.8 1164.0,1342.8 1163.0,1341.8 1162.8,1294.8 1161.8,1293.8 1161.8,1288.0 1159.8,1285.8 1158.8,1285.8 1156.8,1283.8 1152.8,1281.7 1135.0,1261.8 1134.9,1224.8 1133.9,1223.8 1133.8,1199.5 1120.3,1156.8 1297.9,1156.8 1297.8,1650.9Z" fill="#b2c58a"/>
<path d="M1297.8,1650.9 1279.7,1650.8 1257.7,1578.8 1250.9,1570.8 1250.8,1561.8 1249.9,1560.8 1249.8,1553.0 1236.3,1508.8 1222.0,1493.8 1221.9,1474.8 1220.9,1473.8 1220.8,1458.1 1214.3,1436.8 1200.8,1422.7 1199.8,1422.6 1194.0,1416.8 1193.9,1394.8 1192.9,1393.8 1192.9,1390.8 1188.8,1388.6 1186.8,1386.6 1185.8,1386.6 1183.8,1384.6 1182.8,1384.6 1179.8,1381.6 1178.8,1381.5 1178.0,1379.8 1168.1,1369.8 1168.1,1368.8 1165.1,1365.8 1165.1,1363.8 1164.2,1362.8 1164.1,1342.8 1163.1,1341.8 1162.9,1294.8 1161.9,1293.8 1161.9,1287.8 1159.8,1285.7 1158.8,1285.7 1156.8,1283.7 1152.8,1281.6 1135.1,1261.8 1135.0,1224.8 1134.0,1223.8 1133.8,1173.2 1128.8,1156.8 1297.9,1156.8 1297.8,1650.9Z" fill="#c7be7c"/>
<path d="M1297.8,1650.9 1281.7,1650.8 1281.6,1641.8 1280.8,1640.8 1280.6,1614.8 1279.8,1613.8 1279.7,1597.8 1267.8,1587.9 1253.8,1573.8 1253.7,1572.8 1251.7,1570.8 1251.6,1561.8 1250.8,1560.8 1250.6,1541.8 1249.8,1540.8 1249.6,1521.8 1248.8,1519.8 1222.8,1493.8 1222.7,1474.8 1221.8,1473.8 1221.6,1445.8 1220.8,1444.8 1220.7,1441.8 1200.8,1421.9 1199.8,1421.8 1194.8,1416.8 1194.7,1394.8 1193.8,1393.8 1193.7,1390.8 1182.8,1383.8 1179.8,1380.9 1178.8,1380.8 1178.7,1379.8 1168.8,1369.8 1168.7,1368.8 1165.7,1365.8 1165.7,1363.8 1164.8,1362.8 1164.7,1342.8 1163.8,1341.8 1163.7,1294.8 1162.8,1293.8 1162.8,1287.8 1159.8,1285.0 1151.8,1279.9 1135.7,1261.8 1135.7,1224.8 1134.8,1223.8 1134.6,1156.8 1297.9,1156.8 1297.8,1650.9Z" fill="#dcb56d"/>
<path d="M1297.8,1650.9 1282.1,1650.8 1280.3,1597.8 1268.1,1587.8 1252.4,1570.8 1249.8,1519.8 1223.6,1493.8 1221.6,1441.8 1195.7,1416.8 1194.8,1391.8 1179.9,1380.8 1166.3,1365.8 1164.5,1333.8 1163.8,1287.8 1152.5,1279.8 1136.5,1261.8 1135.0,1156.8 1297.9,1156.8 1297.8,1650.9Z" fill="#e4b168"/>
<path d="M1297.8,1650.9 1283.2,1650.8 1281.5,1597.8 1269.2,1587.8 1253.5,1570.8 1250.9,1519.8 1224.7,1493.8 1222.7,1441.8 1196.8,1416.8 1196.0,1391.8 1181.0,1380.8 1167.4,1365.8 1165.6,1333.8 1164.9,1287.8 1153.6,1279.8 1137.6,1261.8 1136.1,1156.8 1297.9,1156.8 1297.8,1650.9Z" fill="#eab060"/>
<path d="M1297.8,1650.9 1284.4,1650.8 1282.6,1597.8 1270.4,1587.8 1254.6,1570.8 1252.1,1519.8 1225.8,1493.8 1223.9,1441.8 1198.0,1416.8 1197.1,1391.8 1182.1,1380.8 1168.5,1365.8 1166.8,1333.8 1166.1,1287.8 1154.7,1279.8 1138.7,1261.8 1137.3,1156.8 1297.9,1156.8 1297.8,1650.9Z" fill="#efae58"/>
<path d="M1297.8,1650.8 1285.5,1650.8 1283.7,1597.8 1271.5,1587.8 1255.8,1570.8 1253.2,1519.8 1227.0,1493.8 1225.0,1441.8 1199.1,1416.8 1198.2,1391.8 1183.2,1380.8 1169.7,1365.8 1167.9,1333.8 1167.2,1287.8 1155.8,1279.8 1139.9,1261.8 1138.4,1156.8 1297.9,1156.8 1297.8,1650.8Z" fill="#f2ac52"/>
<path d="M1297.8,1650.8 1286.6,1650.8 1284.8,1597.8 1272.6,1587.8 1256.9,1570.8 1254.3,1519.8 1228.1,1493.8 1226.1,1441.8 1200.2,1416.8 1199.3,1391.8 1184.4,1380.8 1170.8,1365.8 1169.0,1333.8 1168.3,1287.8 1156.9,1279.8 1141.0,1261.8 1139.5,1156.8 1297.9,1156.8 1297.8,1650.8Z" fill="#f4a94d"/>
<path d="M1297.8,1650.8 1287.7,1650.8 1285.9,1597.8 1273.7,1587.8 1258.0,1570.8 1255.4,1519.8 1229.2,1493.8 1227.2,1441.8 1201.3,1416.8 1200.4,1391.8 1185.5,1380.8 1171.9,1365.8 1170.1,1333.8 1169.4,1287.8 1158.1,1279.8 1142.1,1261.8 1140.6,1156.8 1297.9,1156.8 1297.8,1650.8Z" fill="#f7a54d"/>
<path d="M1297.8,1650.8 1288.8,1650.8 1287.1,1597.8 1274.8,1587.8 1259.1,1570.8 1256.5,1519.8 1230.3,1493.8 1228.3,1441.8 1202.4,1416.8 1201.6,1391.8 1186.6,1380.8 1173.0,1365.8 1171.2,1333.8 1170.5,1287.8 1159.2,1279.8 1143.2,1261.8 1141.7,1156.8 1297.9,1156.8 1297.8,1650.8Z" fill="#fa9f4d"/>
<path d="M1297.8,1650.8 1290.0,1650.8 1288.2,1597.8 1276.0,1587.8 1260.2,1570.8 1257.7,1519.8 1231.4,1493.8 1229.5,1441.8 1203.6,1416.8 1202.7,1391.8 1187.7,1380.8 1174.1,1365.8 1172.4,1333.8 1171.7,1287.8 1160.3,1279.8 1144.3,1261.8 1142.9,1156.8 1297.9,1156.8 1297.8,1650.8Z" fill="#fa984d"/>
<path d="M1297.8,1650.8 1291.1,1650.8 1289.3,1597.8 1277.1,1587.8 1261.4,1570.8 1258.8,1519.8 1232.6,1493.8 1230.6,1441.8 1204.7,1416.8 1203.8,1391.8 1188.8,1380.8 1175.3,1365.8 1173.5,1333.8 1172.8,1287.8 1161.4,1279.8 1145.5,1261.8 1144.0,1156.8 1297.8,1156.8 1297.8,1650.8Z" fill="#fa904d"/>
<path d="M1297.8,1650.8 1292.2,1650.8 1290.4,1597.8 1278.2,1587.8 1262.5,1570.8 1259.9,1519.8 1233.7,1493.8 1231.7,1441.8 1205.8,1416.8 1204.9,1391.8 1190.0,1380.8 1176.4,1365.8 1174.6,1333.8 1173.9,1287.8 1162.5,1279.8 1146.6,1261.8 1145.1,1156.8 1297.8,1156.8 1297.8,1650.8Z" fill="#fa884d"/>
<path d="M1297.8,1650.8 1293.6,1650.8 1291.9,1597.8 1280.7,1587.8 1265.9,1570.8 1261.2,1519.8 1237.0,1493.8 1232.9,1441.8 1208.5,1416.8 1207.2,1391.8 1193.0,1380.8 1179.3,1364.8 1175.1,1287.8 1164.5,1279.8 1149.5,1261.8 1147.5,1156.8 1297.8,1156.8 1297.8,1650.8Z" fill="#fb804d"/>
<path d="M1297.8,1650.8 1295.5,1650.8 1294.4,1597.8 1286.6,1587.8 1280.5,1577.8 1275.0,1570.8 1263.0,1519.8 1245.8,1493.8 1240.7,1467.8 1234.1,1441.8 1215.3,1416.8 1212.6,1391.8 1200.8,1380.8 1188.0,1364.8 1184.8,1341.8 1182.3,1313.8 1176.4,1287.8 1168.4,1279.8 1156.9,1261.8 1155.8,1246.8 1153.3,1156.8 1297.8,1156.8 1297.8,1650.8Z" fill="#fe784d"/>
<path d="M1297.8,1650.8 1296.6,1596.8 1292.4,1587.8 1289.0,1577.8 1284.1,1570.8 1254.9,1494.8 1245.8,1466.8 1235.4,1441.8 1222.1,1416.8 1218.0,1391.8 1209.3,1381.8 1196.7,1364.8 1191.9,1342.8 1188.0,1313.8 1177.7,1287.8 1172.3,1279.8 1164.4,1261.8 1162.6,1246.8 1162.0,1212.8 1159.5,1183.8 1159.0,1156.8 1297.8,1156.8 1297.8,1650.8Z" fill="#ff714d"/>
<path d="M1297.8,1580.9 1297.5,1577.8 1266.6,1520.8 1263.3,1493.8 1251.7,1467.8 1236.8,1442.4 1228.8,1416.8 1223.3,1391.8 1204.9,1363.8 1199.0,1342.8 1193.6,1313.8 1179.6,1288.8 1176.2,1279.8 1171.8,1261.8 1169.5,1247.8 1168.8,1212.8 1165.3,1183.8 1164.8,1156.8 1297.8,1156.8 1297.8,1580.9Z" fill="#ff6c4d"/>
<path d="M1297.8,1575.2 1267.2,1520.8 1265.2,1493.8 1252.3,1466.8 1237.8,1443.8 1230.3,1416.8 1224.9,1392.8 1218.0,1380.8 1206.7,1363.8 1200.5,1342.8 1194.9,1313.8 1178.8,1286.2 1175.8,1274.6 1171.0,1246.8 1170.3,1212.8 1166.6,1183.8 1166.1,1156.8 1297.8,1156.8 1297.8,1575.2Z" fill="#ff694d"/>
<path d="M1297.8,1574.1 1295.1,1569.8 1282.8,1543.8 1270.9,1520.8 1269.8,1493.8 1258.8,1467.6 1245.1,1442.8 1234.3,1391.8 1228.3,1379.8 1219.1,1363.8 1213.6,1342.8 1208.6,1313.8 1194.9,1287.8 1192.2,1275.8 1188.0,1247.8 1187.4,1212.8 1184.1,1183.8 1183.7,1156.8 1297.8,1156.8 1297.8,1574.1Z" fill="#ff644d"/>
<path d="M1297.8,1573.6 1294.5,1567.8 1275.7,1520.8 1274.7,1493.8 1265.8,1467.4 1254.8,1442.8 1246.1,1391.8 1233.8,1363.8 1229.4,1342.8 1225.3,1313.8 1214.2,1287.8 1212.1,1275.8 1208.7,1247.8 1208.2,1212.8 1205.6,1183.8 1205.2,1156.8 1297.8,1156.8 1297.8,1573.6Z" fill="#ff5f4d"/>
<path d="M1297.8,1573.3 1294.8,1567.8 1280.4,1520.8 1279.7,1493.8 1273.0,1467.8 1264.5,1442.8 1257.9,1391.8 1248.5,1363.8 1245.1,1342.8 1242.1,1313.8 1233.6,1287.8 1229.4,1247.8 1229.0,1212.8 1227.0,1183.8 1226.7,1156.8 1297.8,1156.8 1297.8,1573.3Z" fill="#ff594d"/>
<path d="M1297.8,1573.1 1294.9,1566.8 1285.2,1520.8 1284.7,1493.8 1280.1,1467.8 1274.2,1442.8 1269.7,1391.8 1263.2,1363.8 1260.9,1342.8 1258.8,1313.8 1253.0,1287.8 1250.1,1247.8 1248.2,1156.8 1297.8,1156.8 1297.8,1573.1Z" fill="#ff544d"/>
<path d="M1297.8,1572.7 1295.6,1568.8 1289.9,1520.8 1289.6,1493.8 1283.9,1442.8 1281.5,1391.8 1277.9,1363.8 1275.5,1313.8 1272.4,1287.8 1270.8,1247.8 1269.8,1156.8 1297.8,1156.8 1297.8,1572.7Z" fill="#ff4f4d"/>
<path d="M1297.8,1572.0 1295.8,1568.8 1294.7,1520.8 1291.7,1286.8 1291.3,1156.8 1297.8,1156.8 1297.8,1572.0Z" fill="#ff4d4d"/>
<mask id="mkf100" maskUnits="userSpaceOnUse" x="733.8" y="1149.8" width="571.8" height="508.5"><rect x="733.8" y="1149.8" width="571.8" height="508.5" fill="#fff"/>
<rect x="1075.3" y="1428.8" width="44.8" height="24" fill="#000"/>
</mask>
<path mask="url(#mkf100)" fill="none" stroke="#202020" stroke-opacity="0.7" stroke-width="1.0" stroke-linejoin="round" d="M980.2,1150.0 980.2,1210.5 1008.3,1235.7 1009.7,1262.4 1037.9,1287.7 1039.3,1339.0 1068.1,1364.8 1068.8,1391.3 1096.7,1416.7 1097.6,1469.0 1125.6,1494.4 1126.4,1520.6 1154.4,1545.9 1155.2,1572.1 1184.1,1597.4 1184.6,1623.6 1210.2,1647.2 1215.0,1652.0"/>
<mask id="mkf200" maskUnits="userSpaceOnUse" x="733.8" y="1149.8" width="571.8" height="508.5"><rect x="733.8" y="1149.8" width="571.8" height="508.5" fill="#fff"/>
<rect x="1038.7" y="1331.7" width="44.8" height="24" fill="#000"/>
</mask>
<path mask="url(#mkf200)" fill="none" stroke="#202020" stroke-opacity="0.7" stroke-width="1.0" stroke-linejoin="round" d="M1003.3,1150.0 1004.0,1210.5 1032.1,1235.7 1032.8,1262.4 1060.2,1287.7 1061.7,1339.0 1087.6,1364.8 1089.8,1392.2 1116.8,1416.7 1118.6,1469.0 1145.6,1494.4 1146.5,1520.6 1174.5,1545.9 1176.2,1572.1 1204.1,1597.4 1205.0,1623.6 1230.3,1647.2 1235.0,1652.0"/>
<mask id="mkf300" maskUnits="userSpaceOnUse" x="733.8" y="1149.8" width="571.8" height="508.5"><rect x="733.8" y="1149.8" width="571.8" height="508.5" fill="#fff"/>
<rect x="1228.8" y="1535.7" width="44.8" height="24" fill="#000"/>
</mask>
<path mask="url(#mkf300)" fill="none" stroke="#202020" stroke-opacity="0.7" stroke-width="1.0" stroke-linejoin="round" d="M1133.8,1150.0 1135.3,1261.7 1151.2,1279.7 1162.7,1287.7 1163.4,1333.8 1164.9,1365.5 1179.3,1381.4 1193.7,1391.3 1194.5,1416.7 1220.7,1442.0 1222.5,1494.4 1248.7,1519.7 1251.3,1571.2 1267.0,1587.8 1279.2,1597.4 1281.0,1647.2 1281.0,1655.0"/>
<mask id="mkf400" maskUnits="userSpaceOnUse" x="733.8" y="1149.8" width="571.8" height="508.5"><rect x="733.8" y="1149.8" width="571.8" height="508.5" fill="#fff"/>
<rect x="1152.0" y="1251.7" width="44.8" height="24" fill="#000"/>
</mask>
<path mask="url(#mkf400)" fill="none" stroke="#202020" stroke-opacity="0.7" stroke-width="1.0" stroke-linejoin="round" d="M1166.3,1150.0 1167.0,1183.8 1170.7,1212.7 1171.4,1247.3 1176.4,1276.1 1179.3,1287.7 1195.2,1313.6 1200.9,1342.5 1207.4,1364.1 1218.1,1380.0 1225.1,1392.2 1230.3,1414.9 1237.3,1442.9 1253.0,1467.3 1266.1,1494.4 1267.0,1520.6 1281.0,1544.1 1294.1,1567.7 1300.0,1578.0"/>
<text x="1174.4" y="1272.5" font-size="24.5" text-anchor="middle">400</text>
<text x="1251.2" y="1556.5" font-size="24.5" text-anchor="middle">300</text>
<text x="1061.1" y="1352.5" font-size="24.5" text-anchor="middle">200</text>
<text x="1097.7" y="1449.6" font-size="24.5" text-anchor="middle">100</text>
</g>
<path d="M854.2,1648.3v-7.5M854.2,1159.8v7.5M964.5,1648.3v-7.5M964.5,1159.8v7.5M1074.9,1648.3v-7.5M1074.9,1159.8v7.5M1185.2,1648.3v-7.5M1185.2,1159.8v7.5M743.8,1281.9h7.5M1295.6,1281.9h-7.5M743.8,1404.0h7.5M1295.6,1404.0h-7.5M743.8,1526.2h7.5M1295.6,1526.2h-7.5" stroke="#000" stroke-width="2.8" fill="none"/>
<rect x="743.8" y="1159.8" width="551.8" height="488.5" fill="none" stroke="#000" stroke-width="3" stroke-linejoin="round"/>
<text x="150.5" y="646.5" font-size="29" text-anchor="end">10<tspan font-size="20" dy="-12.3" dx="1">−13</tspan></text>
<text x="150.5" y="766.8" font-size="29" text-anchor="end">10<tspan font-size="20" dy="-12.3" dx="1">−12</tspan></text>
<text x="150.5" y="888.0" font-size="29" text-anchor="end">10<tspan font-size="20" dy="-12.3" dx="1">−11</tspan></text>
<text x="150.5" y="1009.5" font-size="29" text-anchor="end">10<tspan font-size="20" dy="-12.3" dx="1">−10</tspan></text>
<text x="150.5" y="1129.0" font-size="29" text-anchor="end">10<tspan font-size="20" dy="-12.3" dx="1">−9</tspan></text>
<text x="150.5" y="1169.3" font-size="29" text-anchor="end">10<tspan font-size="20" dy="-12.3" dx="1">−13</tspan></text>
<text x="150.5" y="1291.1" font-size="29" text-anchor="end">10<tspan font-size="20" dy="-12.3" dx="1">−12</tspan></text>
<text x="150.5" y="1414.3" font-size="29" text-anchor="end">10<tspan font-size="20" dy="-12.3" dx="1">−11</tspan></text>
<text x="150.5" y="1537.4" font-size="29" text-anchor="end">10<tspan font-size="20" dy="-12.3" dx="1">−10</tspan></text>
<text x="150.5" y="1659.5" font-size="29" text-anchor="end">10<tspan font-size="20" dy="-12.3" dx="1">−9</tspan></text>
<text x="244.3" y="1685.3" font-size="29">10<tspan font-size="20" dy="-12.3" dx="1">−5</tspan></text>
<text x="354.4" y="1685.3" font-size="29">10<tspan font-size="20" dy="-12.3" dx="1">−4</tspan></text>
<text x="464.2" y="1685.3" font-size="29">10<tspan font-size="20" dy="-12.3" dx="1">−3</tspan></text>
<text x="573.4" y="1685.3" font-size="29">10<tspan font-size="20" dy="-12.3" dx="1">−2</tspan></text>
<text x="684.2" y="1685.3" font-size="29">10<tspan font-size="20" dy="-12.3" dx="1">−1</tspan></text>
<text x="826.0" y="1685.3" font-size="29">10<tspan font-size="20" dy="-12.3" dx="1">−5</tspan></text>
<text x="936.8" y="1685.3" font-size="29">10<tspan font-size="20" dy="-12.3" dx="1">−4</tspan></text>
<text x="1046.6" y="1685.3" font-size="29">10<tspan font-size="20" dy="-12.3" dx="1">−3</tspan></text>
<text x="1156.7" y="1685.3" font-size="29">10<tspan font-size="20" dy="-12.3" dx="1">−2</tspan></text>
<text x="1265.9" y="1685.3" font-size="29">10<tspan font-size="20" dy="-12.3" dx="1">−1</tspan></text>
<text x="299.7" y="1725.6" font-size="29.3">Mobility <tspan class="ser">μ</tspan> (cm<tspan font-size="20" dy="-12">2</tspan><tspan dy="12">(Vs)</tspan><tspan font-size="20" dy="-12">−1</tspan><tspan dy="12">)</tspan></text>
<text x="882.0" y="1725.6" font-size="29.3">Mobility <tspan class="ser">μ</tspan> (cm<tspan font-size="20" dy="-12">2</tspan><tspan dy="12">(Vs)</tspan><tspan font-size="20" dy="-12">−1</tspan><tspan dy="12">)</tspan></text>
<text transform="translate(21.9,879.5) rotate(-90)" font-size="29" text-anchor="middle">Recombination coefficient</text>
<text transform="translate(58,879.0) rotate(-90)" font-size="29" text-anchor="middle"><tspan class="it">k</tspan> (cm<tspan font-size="20" dy="-12">3</tspan><tspan dy="12"> s</tspan><tspan font-size="20" dy="-12">−1</tspan><tspan dy="12">)</tspan></text>
<text transform="translate(21.9,1397.0) rotate(-90)" font-size="29" text-anchor="middle">Recombination coefficient</text>
<text transform="translate(58,1396.2) rotate(-90)" font-size="29" text-anchor="middle"><tspan class="it">k</tspan> (cm<tspan font-size="20" dy="-12">3</tspan><tspan dy="12"> s</tspan><tspan font-size="20" dy="-12">−1</tspan><tspan dy="12">)</tspan></text>
<text x="185" y="687.6" font-size="41" font-weight="bold">c</text>
<text x="764.3" y="688" font-size="41" font-weight="bold">d</text>
<text x="184.5" y="1211.6" font-size="41" font-weight="bold">e</text>
<text x="769" y="1211.6" font-size="41" font-weight="bold">f</text>
<defs><linearGradient id="cbg" x1="0" y1="1" x2="0" y2="0"><stop offset="0.0000" stop-color="#5e1f3e"/><stop offset="0.0104" stop-color="#602440"/><stop offset="0.0386" stop-color="#583058"/><stop offset="0.0676" stop-color="#503c6c"/><stop offset="0.0965" stop-color="#4c4880"/><stop offset="0.1251" stop-color="#485098"/><stop offset="0.1544" stop-color="#4460b0"/><stop offset="0.1815" stop-color="#4470c8"/><stop offset="0.2108" stop-color="#4880d8"/><stop offset="0.2394" stop-color="#4890e8"/><stop offset="0.2680" stop-color="#4898e0"/><stop offset="0.3108" stop-color="#50a4c8"/><stop offset="0.3537" stop-color="#58b0b0"/><stop offset="0.3965" stop-color="#60bc98"/><stop offset="0.4398" stop-color="#70b878"/><stop offset="0.5008" stop-color="#80b068"/><stop offset="0.5305" stop-color="#90ac58"/><stop offset="0.5598" stop-color="#a8a448"/><stop offset="0.5903" stop-color="#c09c38"/><stop offset="0.6197" stop-color="#d89028"/><stop offset="0.6486" stop-color="#e88c10"/><stop offset="0.6795" stop-color="#f08400"/><stop offset="0.7027" stop-color="#f87800"/><stop offset="0.7243" stop-color="#f86800"/><stop offset="0.7529" stop-color="#f85000"/><stop offset="0.7838" stop-color="#ff3800"/><stop offset="0.8147" stop-color="#ff2000"/><stop offset="0.8571" stop-color="#ff0000"/><stop offset="0.9035" stop-color="#ff0008"/><stop offset="0.9479" stop-color="#e80018"/><stop offset="0.9923" stop-color="#d00028"/><stop offset="1.0000" stop-color="#cc002a"/></linearGradient></defs>
<rect x="1313" y="633.8" width="57.6" height="489.5" fill="#fff" stroke="#000" stroke-width="1.3"/>
<rect x="1313.6" y="636.3" width="56.4" height="484.1" fill="url(#cbg)"/>
<text x="1387.5" y="1130.5" font-size="29">0</text>
<text x="1387.5" y="1037.0" font-size="29">5</text>
<text x="1387.5" y="943.6" font-size="29">10</text>
<text x="1387.5" y="850.1" font-size="29">15</text>
<text x="1387.5" y="756.7" font-size="29">20</text>
<text x="1387.5" y="663.2" font-size="29">25</text>
<rect x="1315" y="1159.5" width="57.6" height="489.3" fill="#fff" stroke="#000" stroke-width="1.3"/>
<rect x="1315.6" y="1162.1" width="56.4" height="483.8" fill="url(#cbg)"/>
<text x="1387.5" y="1656.1" font-size="29">0</text>
<text x="1387.5" y="1559.2" font-size="29">100</text>
<text x="1387.5" y="1462.3" font-size="29">200</text>
<text x="1387.5" y="1365.5" font-size="29">300</text>
<text x="1387.5" y="1268.6" font-size="29">400</text>
<text x="1387.5" y="1171.7" font-size="29">500</text>
<path d="M1370.6,1120.5h8.6M1370.6,1027.0h8.6M1370.6,933.6h8.6M1370.6,840.1h8.6M1370.6,746.7h8.6M1370.6,653.2h8.6M1372.6,1646.1h8.6M1372.6,1549.2h8.6M1372.6,1452.3h8.6M1372.6,1355.5h8.6M1372.6,1258.6h8.6M1372.6,1161.7h8.6" stroke="#222" stroke-width="1.4"/>
<text transform="translate(1462,881) rotate(-90)" font-size="29" text-anchor="middle">Efficiency <tspan class="ser">η</tspan><tspan font-size="20" dy="7">opt</tspan><tspan dy="-7"> (%)</tspan></text>
<text transform="translate(1476,1396.5) rotate(-90)" font-size="29" text-anchor="middle">Optimum thickness <tspan class="it">d</tspan><tspan font-size="20" dy="7">opt</tspan><tspan dy="-7"> (nm)</tspan></text>
</svg></body></html>
